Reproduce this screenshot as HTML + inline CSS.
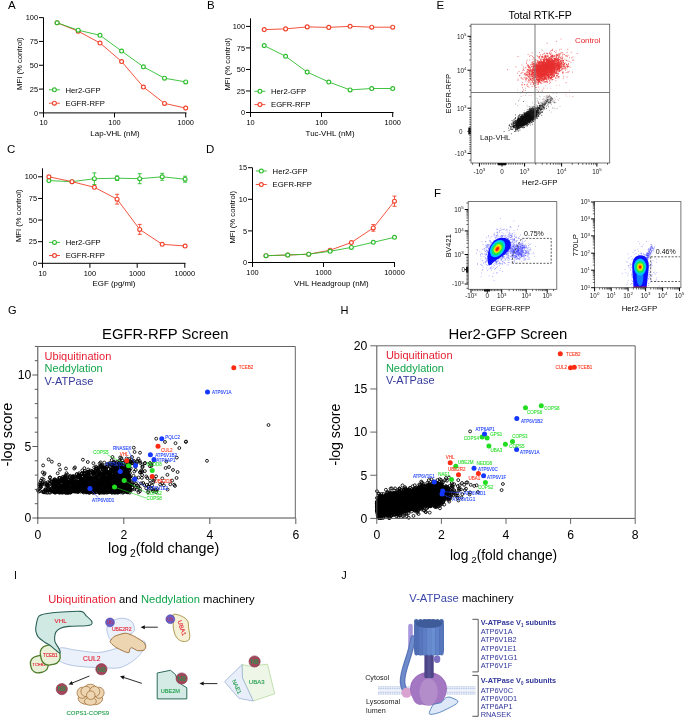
<!DOCTYPE html>
<html><head><meta charset="utf-8"><style>html,body{margin:0;padding:0;background:#fff;}svg{display:block;will-change:transform;}text{font-family:"Liberation Sans", sans-serif;}</style></head>
<body><svg width="685" height="717" viewBox="0 0 685 717" font-family='"Liberation Sans", sans-serif'><rect width="685" height="717" fill="#fff"/><text x="8" y="8.98" font-size="11.5">A</text><text x="207" y="8.98" font-size="11.5">B</text><text x="7" y="153.38" font-size="11.5">C</text><text x="206" y="153.38" font-size="11.5">D</text><text x="436.5" y="8.58" font-size="11.5">E</text><text x="434" y="197.08" font-size="11.5">F</text><text x="8" y="313.52" font-size="11">G</text><text x="340.5" y="313.52" font-size="11">H</text><text x="14" y="579.15" font-size="10.5">I</text><text x="341.3" y="578.52" font-size="11">J</text><line x1="43.50" y1="17.60" x2="43.50" y2="113.40" stroke="#000" stroke-width="1"/><line x1="43.00" y1="112.90" x2="186.50" y2="112.90" stroke="#000" stroke-width="1"/><line x1="39.00" y1="112.90" x2="43.50" y2="112.90" stroke="#000" stroke-width="1"/><text x="38.00" y="115.56" font-size="7.4" text-anchor="end">0</text><line x1="39.00" y1="89.08" x2="43.50" y2="89.08" stroke="#000" stroke-width="1"/><text x="38.00" y="91.74" font-size="7.4" text-anchor="end">25</text><line x1="39.00" y1="65.25" x2="43.50" y2="65.25" stroke="#000" stroke-width="1"/><text x="38.00" y="67.91" font-size="7.4" text-anchor="end">50</text><line x1="39.00" y1="41.43" x2="43.50" y2="41.43" stroke="#000" stroke-width="1"/><text x="38.00" y="44.09" font-size="7.4" text-anchor="end">75</text><line x1="39.00" y1="17.60" x2="43.50" y2="17.60" stroke="#000" stroke-width="1"/><text x="38.00" y="20.26" font-size="7.4" text-anchor="end">100</text><line x1="43.50" y1="112.90" x2="43.50" y2="117.40" stroke="#000" stroke-width="1"/><text x="43.50" y="125.16" font-size="7.4" text-anchor="middle">10</text><line x1="114.50" y1="112.90" x2="114.50" y2="117.40" stroke="#000" stroke-width="1"/><text x="114.50" y="125.16" font-size="7.4" text-anchor="middle">100</text><line x1="185.70" y1="112.90" x2="185.70" y2="117.40" stroke="#000" stroke-width="1"/><text x="185.70" y="125.16" font-size="7.4" text-anchor="middle">1000</text><text x="19.30" y="66.47" font-size="7.7" text-anchor="middle" transform="rotate(-90 19.30 63.70)">MFI (% control)</text><text x="115.00" y="136.44" font-size="7.9" text-anchor="middle">Lap-VHL (nM)</text><polyline points="57.10,22.80 78.20,31.20 100.00,43.00 121.60,61.50 143.40,87.00 164.50,103.40 185.70,108.10" fill="none" stroke="#f2412a" stroke-width="0.9" stroke-linejoin="round"/><circle cx="57.10" cy="22.80" r="1.95" fill="#fff" stroke="#f2412a" stroke-width="1.15"/><circle cx="78.20" cy="31.20" r="1.95" fill="#fff" stroke="#f2412a" stroke-width="1.15"/><circle cx="100.00" cy="43.00" r="1.95" fill="#fff" stroke="#f2412a" stroke-width="1.15"/><circle cx="121.60" cy="61.50" r="1.95" fill="#fff" stroke="#f2412a" stroke-width="1.15"/><circle cx="143.40" cy="87.00" r="1.95" fill="#fff" stroke="#f2412a" stroke-width="1.15"/><circle cx="164.50" cy="103.40" r="1.95" fill="#fff" stroke="#f2412a" stroke-width="1.15"/><circle cx="185.70" cy="108.10" r="1.95" fill="#fff" stroke="#f2412a" stroke-width="1.15"/><polyline points="57.10,22.80 78.20,30.20 100.00,35.30 121.60,51.00 143.40,66.80 164.50,78.20 185.70,81.90" fill="none" stroke="#2dbd2d" stroke-width="0.9" stroke-linejoin="round"/><circle cx="57.10" cy="22.80" r="1.95" fill="#fff" stroke="#2dbd2d" stroke-width="1.15"/><circle cx="78.20" cy="30.20" r="1.95" fill="#fff" stroke="#2dbd2d" stroke-width="1.15"/><circle cx="100.00" cy="35.30" r="1.95" fill="#fff" stroke="#2dbd2d" stroke-width="1.15"/><circle cx="121.60" cy="51.00" r="1.95" fill="#fff" stroke="#2dbd2d" stroke-width="1.15"/><circle cx="143.40" cy="66.80" r="1.95" fill="#fff" stroke="#2dbd2d" stroke-width="1.15"/><circle cx="164.50" cy="78.20" r="1.95" fill="#fff" stroke="#2dbd2d" stroke-width="1.15"/><circle cx="185.70" cy="81.90" r="1.95" fill="#fff" stroke="#2dbd2d" stroke-width="1.15"/><line x1="48.90" y1="89.80" x2="59.90" y2="89.80" stroke="#2dbd2d" stroke-width="0.9"/><circle cx="54.40" cy="89.80" r="1.95" fill="#fff" stroke="#2dbd2d" stroke-width="1.15"/><text x="65.50" y="92.57" font-size="7.7">Her2-GFP</text><line x1="48.90" y1="103.20" x2="59.90" y2="103.20" stroke="#f2412a" stroke-width="0.9"/><circle cx="54.40" cy="103.20" r="1.95" fill="#fff" stroke="#f2412a" stroke-width="1.15"/><text x="65.50" y="105.97" font-size="7.7">EGFR-RFP</text><line x1="250.50" y1="18.30" x2="250.50" y2="113.00" stroke="#000" stroke-width="1"/><line x1="250.00" y1="112.50" x2="393.50" y2="112.50" stroke="#000" stroke-width="1"/><line x1="246.00" y1="112.50" x2="250.50" y2="112.50" stroke="#000" stroke-width="1"/><text x="245.00" y="115.16" font-size="7.4" text-anchor="end">0</text><line x1="246.00" y1="90.97" x2="250.50" y2="90.97" stroke="#000" stroke-width="1"/><text x="245.00" y="93.64" font-size="7.4" text-anchor="end">25</text><line x1="246.00" y1="69.45" x2="250.50" y2="69.45" stroke="#000" stroke-width="1"/><text x="245.00" y="72.11" font-size="7.4" text-anchor="end">50</text><line x1="246.00" y1="47.92" x2="250.50" y2="47.92" stroke="#000" stroke-width="1"/><text x="245.00" y="50.59" font-size="7.4" text-anchor="end">75</text><line x1="246.00" y1="26.40" x2="250.50" y2="26.40" stroke="#000" stroke-width="1"/><text x="245.00" y="29.06" font-size="7.4" text-anchor="end">100</text><line x1="250.50" y1="112.50" x2="250.50" y2="117.00" stroke="#000" stroke-width="1"/><text x="250.50" y="124.66" font-size="7.4" text-anchor="middle">10</text><line x1="321.50" y1="112.50" x2="321.50" y2="117.00" stroke="#000" stroke-width="1"/><text x="321.50" y="124.66" font-size="7.4" text-anchor="middle">100</text><line x1="392.70" y1="112.50" x2="392.70" y2="117.00" stroke="#000" stroke-width="1"/><text x="392.70" y="124.66" font-size="7.4" text-anchor="middle">1000</text><text x="227.00" y="67.07" font-size="7.7" text-anchor="middle" transform="rotate(-90 227.00 64.30)">MFI (% control)</text><text x="330.10" y="136.34" font-size="7.9" text-anchor="middle">Tuc-VHL (nM)</text><polyline points="264.20,45.60 285.60,56.30 307.20,72.10 328.80,82.00 350.10,89.90 371.70,88.50 392.70,88.50" fill="none" stroke="#2dbd2d" stroke-width="0.9" stroke-linejoin="round"/><circle cx="264.20" cy="45.60" r="1.95" fill="#fff" stroke="#2dbd2d" stroke-width="1.15"/><circle cx="285.60" cy="56.30" r="1.95" fill="#fff" stroke="#2dbd2d" stroke-width="1.15"/><circle cx="307.20" cy="72.10" r="1.95" fill="#fff" stroke="#2dbd2d" stroke-width="1.15"/><circle cx="328.80" cy="82.00" r="1.95" fill="#fff" stroke="#2dbd2d" stroke-width="1.15"/><circle cx="350.10" cy="89.90" r="1.95" fill="#fff" stroke="#2dbd2d" stroke-width="1.15"/><circle cx="371.70" cy="88.50" r="1.95" fill="#fff" stroke="#2dbd2d" stroke-width="1.15"/><circle cx="392.70" cy="88.50" r="1.95" fill="#fff" stroke="#2dbd2d" stroke-width="1.15"/><polyline points="264.20,29.60 285.60,28.90 307.20,26.90 328.80,27.40 350.10,26.30 371.70,27.20 392.70,27.20" fill="none" stroke="#f2412a" stroke-width="0.9" stroke-linejoin="round"/><circle cx="264.20" cy="29.60" r="1.95" fill="#fff" stroke="#f2412a" stroke-width="1.15"/><circle cx="285.60" cy="28.90" r="1.95" fill="#fff" stroke="#f2412a" stroke-width="1.15"/><circle cx="307.20" cy="26.90" r="1.95" fill="#fff" stroke="#f2412a" stroke-width="1.15"/><circle cx="328.80" cy="27.40" r="1.95" fill="#fff" stroke="#f2412a" stroke-width="1.15"/><circle cx="350.10" cy="26.30" r="1.95" fill="#fff" stroke="#f2412a" stroke-width="1.15"/><circle cx="371.70" cy="27.20" r="1.95" fill="#fff" stroke="#f2412a" stroke-width="1.15"/><circle cx="392.70" cy="27.20" r="1.95" fill="#fff" stroke="#f2412a" stroke-width="1.15"/><line x1="254.40" y1="91.30" x2="265.40" y2="91.30" stroke="#2dbd2d" stroke-width="0.9"/><circle cx="259.90" cy="91.30" r="1.95" fill="#fff" stroke="#2dbd2d" stroke-width="1.15"/><text x="271.00" y="94.07" font-size="7.7">Her2-GFP</text><line x1="254.40" y1="104.60" x2="265.40" y2="104.60" stroke="#f2412a" stroke-width="0.9"/><circle cx="259.90" cy="104.60" r="1.95" fill="#fff" stroke="#f2412a" stroke-width="1.15"/><text x="271.00" y="107.37" font-size="7.7">EGFR-RFP</text><line x1="42.50" y1="168.30" x2="42.50" y2="263.80" stroke="#000" stroke-width="1"/><line x1="42.00" y1="263.30" x2="185.50" y2="263.30" stroke="#000" stroke-width="1"/><line x1="38.00" y1="263.30" x2="42.50" y2="263.30" stroke="#000" stroke-width="1"/><text x="37.00" y="265.96" font-size="7.4" text-anchor="end">0</text><line x1="38.00" y1="241.68" x2="42.50" y2="241.68" stroke="#000" stroke-width="1"/><text x="37.00" y="244.34" font-size="7.4" text-anchor="end">25</text><line x1="38.00" y1="220.05" x2="42.50" y2="220.05" stroke="#000" stroke-width="1"/><text x="37.00" y="222.71" font-size="7.4" text-anchor="end">50</text><line x1="38.00" y1="198.43" x2="42.50" y2="198.43" stroke="#000" stroke-width="1"/><text x="37.00" y="201.09" font-size="7.4" text-anchor="end">75</text><line x1="38.00" y1="176.80" x2="42.50" y2="176.80" stroke="#000" stroke-width="1"/><text x="37.00" y="179.46" font-size="7.4" text-anchor="end">100</text><line x1="42.50" y1="263.30" x2="42.50" y2="267.80" stroke="#000" stroke-width="1"/><text x="42.50" y="275.66" font-size="7.4" text-anchor="middle">10</text><line x1="89.90" y1="263.30" x2="89.90" y2="267.80" stroke="#000" stroke-width="1"/><text x="89.90" y="275.66" font-size="7.4" text-anchor="middle">100</text><line x1="137.20" y1="263.30" x2="137.20" y2="267.80" stroke="#000" stroke-width="1"/><text x="137.20" y="275.66" font-size="7.4" text-anchor="middle">1000</text><line x1="184.80" y1="263.30" x2="184.80" y2="267.80" stroke="#000" stroke-width="1"/><text x="184.80" y="275.66" font-size="7.4" text-anchor="middle">10000</text><text x="18.00" y="218.57" font-size="7.7" text-anchor="middle" transform="rotate(-90 18.00 215.80)">MFI (% control)</text><text x="114.00" y="286.44" font-size="7.9" text-anchor="middle">EGF (pg/ml)</text><polyline points="48.90,180.60 72.00,181.70 94.40,178.70 117.10,178.20 139.70,178.70 162.20,176.80 185.10,179.20" fill="none" stroke="#2dbd2d" stroke-width="0.9" stroke-linejoin="round"/><circle cx="48.90" cy="180.60" r="1.95" fill="#fff" stroke="#2dbd2d" stroke-width="1.15"/><circle cx="72.00" cy="181.70" r="1.95" fill="#fff" stroke="#2dbd2d" stroke-width="1.15"/><line x1="94.40" y1="172.90" x2="94.40" y2="184.50" stroke="#2dbd2d" stroke-width="0.9"/><line x1="92.40" y1="172.90" x2="96.40" y2="172.90" stroke="#2dbd2d" stroke-width="0.9"/><line x1="92.40" y1="184.50" x2="96.40" y2="184.50" stroke="#2dbd2d" stroke-width="0.9"/><circle cx="94.40" cy="178.70" r="1.95" fill="#fff" stroke="#2dbd2d" stroke-width="1.15"/><line x1="117.10" y1="175.90" x2="117.10" y2="180.50" stroke="#2dbd2d" stroke-width="0.9"/><line x1="115.10" y1="175.90" x2="119.10" y2="175.90" stroke="#2dbd2d" stroke-width="0.9"/><line x1="115.10" y1="180.50" x2="119.10" y2="180.50" stroke="#2dbd2d" stroke-width="0.9"/><circle cx="117.10" cy="178.20" r="1.95" fill="#fff" stroke="#2dbd2d" stroke-width="1.15"/><line x1="139.70" y1="173.70" x2="139.70" y2="183.70" stroke="#2dbd2d" stroke-width="0.9"/><line x1="137.70" y1="173.70" x2="141.70" y2="173.70" stroke="#2dbd2d" stroke-width="0.9"/><line x1="137.70" y1="183.70" x2="141.70" y2="183.70" stroke="#2dbd2d" stroke-width="0.9"/><circle cx="139.70" cy="178.70" r="1.95" fill="#fff" stroke="#2dbd2d" stroke-width="1.15"/><line x1="162.20" y1="173.30" x2="162.20" y2="180.30" stroke="#2dbd2d" stroke-width="0.9"/><line x1="160.20" y1="173.30" x2="164.20" y2="173.30" stroke="#2dbd2d" stroke-width="0.9"/><line x1="160.20" y1="180.30" x2="164.20" y2="180.30" stroke="#2dbd2d" stroke-width="0.9"/><circle cx="162.20" cy="176.80" r="1.95" fill="#fff" stroke="#2dbd2d" stroke-width="1.15"/><line x1="185.10" y1="176.20" x2="185.10" y2="182.20" stroke="#2dbd2d" stroke-width="0.9"/><line x1="183.10" y1="176.20" x2="187.10" y2="176.20" stroke="#2dbd2d" stroke-width="0.9"/><line x1="183.10" y1="182.20" x2="187.10" y2="182.20" stroke="#2dbd2d" stroke-width="0.9"/><circle cx="185.10" cy="179.20" r="1.95" fill="#fff" stroke="#2dbd2d" stroke-width="1.15"/><polyline points="48.90,176.80 72.00,181.70 94.40,187.30 117.10,199.20 139.70,229.40 162.20,244.30 185.10,246.00" fill="none" stroke="#f2412a" stroke-width="0.9" stroke-linejoin="round"/><circle cx="48.90" cy="176.80" r="1.95" fill="#fff" stroke="#f2412a" stroke-width="1.15"/><circle cx="72.00" cy="181.70" r="1.95" fill="#fff" stroke="#f2412a" stroke-width="1.15"/><circle cx="94.40" cy="187.30" r="1.95" fill="#fff" stroke="#f2412a" stroke-width="1.15"/><line x1="117.10" y1="194.30" x2="117.10" y2="204.10" stroke="#f2412a" stroke-width="0.9"/><line x1="115.10" y1="194.30" x2="119.10" y2="194.30" stroke="#f2412a" stroke-width="0.9"/><line x1="115.10" y1="204.10" x2="119.10" y2="204.10" stroke="#f2412a" stroke-width="0.9"/><circle cx="117.10" cy="199.20" r="1.95" fill="#fff" stroke="#f2412a" stroke-width="1.15"/><line x1="139.70" y1="224.40" x2="139.70" y2="234.40" stroke="#f2412a" stroke-width="0.9"/><line x1="137.70" y1="224.40" x2="141.70" y2="224.40" stroke="#f2412a" stroke-width="0.9"/><line x1="137.70" y1="234.40" x2="141.70" y2="234.40" stroke="#f2412a" stroke-width="0.9"/><circle cx="139.70" cy="229.40" r="1.95" fill="#fff" stroke="#f2412a" stroke-width="1.15"/><circle cx="162.20" cy="244.30" r="1.95" fill="#fff" stroke="#f2412a" stroke-width="1.15"/><circle cx="185.10" cy="246.00" r="1.95" fill="#fff" stroke="#f2412a" stroke-width="1.15"/><line x1="49.00" y1="242.40" x2="60.00" y2="242.40" stroke="#2dbd2d" stroke-width="0.9"/><circle cx="54.50" cy="242.40" r="1.95" fill="#fff" stroke="#2dbd2d" stroke-width="1.15"/><text x="65.70" y="245.17" font-size="7.7">Her2-GFP</text><line x1="49.00" y1="255.50" x2="60.00" y2="255.50" stroke="#f2412a" stroke-width="0.9"/><circle cx="54.50" cy="255.50" r="1.95" fill="#fff" stroke="#f2412a" stroke-width="1.15"/><text x="65.70" y="258.27" font-size="7.7">EGFR-RFP</text><line x1="252.50" y1="167.80" x2="252.50" y2="263.00" stroke="#000" stroke-width="1"/><line x1="252.00" y1="262.50" x2="395.00" y2="262.50" stroke="#000" stroke-width="1"/><line x1="248.00" y1="262.50" x2="252.50" y2="262.50" stroke="#000" stroke-width="1"/><text x="247.00" y="265.16" font-size="7.4" text-anchor="end">0</text><line x1="248.00" y1="230.90" x2="252.50" y2="230.90" stroke="#000" stroke-width="1"/><text x="247.00" y="233.56" font-size="7.4" text-anchor="end">5</text><line x1="248.00" y1="199.30" x2="252.50" y2="199.30" stroke="#000" stroke-width="1"/><text x="247.00" y="201.96" font-size="7.4" text-anchor="end">10</text><line x1="248.00" y1="167.70" x2="252.50" y2="167.70" stroke="#000" stroke-width="1"/><text x="247.00" y="170.36" font-size="7.4" text-anchor="end">15</text><line x1="252.50" y1="262.50" x2="252.50" y2="267.00" stroke="#000" stroke-width="1"/><text x="252.50" y="275.46" font-size="7.4" text-anchor="middle">100</text><line x1="323.50" y1="262.50" x2="323.50" y2="267.00" stroke="#000" stroke-width="1"/><text x="323.50" y="275.46" font-size="7.4" text-anchor="middle">1000</text><line x1="394.50" y1="262.50" x2="394.50" y2="267.00" stroke="#000" stroke-width="1"/><text x="394.50" y="275.46" font-size="7.4" text-anchor="middle">10000</text><text x="232.50" y="220.07" font-size="7.7" text-anchor="middle" transform="rotate(-90 232.50 217.30)">MFI (% control)</text><text x="331.40" y="286.44" font-size="7.9" text-anchor="middle">VHL Headgroup (nM)</text><polyline points="266.00,255.70 287.70,255.00 308.70,254.20 330.10,250.20 351.40,242.50 373.30,227.90 394.50,201.20" fill="none" stroke="#f2412a" stroke-width="0.9" stroke-linejoin="round"/><circle cx="266.00" cy="255.70" r="1.95" fill="#fff" stroke="#f2412a" stroke-width="1.15"/><circle cx="287.70" cy="255.00" r="1.95" fill="#fff" stroke="#f2412a" stroke-width="1.15"/><circle cx="308.70" cy="254.20" r="1.95" fill="#fff" stroke="#f2412a" stroke-width="1.15"/><circle cx="330.10" cy="250.20" r="1.95" fill="#fff" stroke="#f2412a" stroke-width="1.15"/><circle cx="351.40" cy="242.50" r="1.95" fill="#fff" stroke="#f2412a" stroke-width="1.15"/><line x1="373.30" y1="224.60" x2="373.30" y2="231.20" stroke="#f2412a" stroke-width="0.9"/><line x1="371.30" y1="224.60" x2="375.30" y2="224.60" stroke="#f2412a" stroke-width="0.9"/><line x1="371.30" y1="231.20" x2="375.30" y2="231.20" stroke="#f2412a" stroke-width="0.9"/><circle cx="373.30" cy="227.90" r="1.95" fill="#fff" stroke="#f2412a" stroke-width="1.15"/><line x1="394.50" y1="196.10" x2="394.50" y2="206.30" stroke="#f2412a" stroke-width="0.9"/><line x1="392.50" y1="196.10" x2="396.50" y2="196.10" stroke="#f2412a" stroke-width="0.9"/><line x1="392.50" y1="206.30" x2="396.50" y2="206.30" stroke="#f2412a" stroke-width="0.9"/><circle cx="394.50" cy="201.20" r="1.95" fill="#fff" stroke="#f2412a" stroke-width="1.15"/><polyline points="266.00,255.70 287.70,255.00 308.70,254.20 330.10,251.30 351.40,247.40 373.30,242.30 394.50,237.30" fill="none" stroke="#2dbd2d" stroke-width="0.9" stroke-linejoin="round"/><circle cx="266.00" cy="255.70" r="1.95" fill="#fff" stroke="#2dbd2d" stroke-width="1.15"/><circle cx="287.70" cy="255.00" r="1.95" fill="#fff" stroke="#2dbd2d" stroke-width="1.15"/><circle cx="308.70" cy="254.20" r="1.95" fill="#fff" stroke="#2dbd2d" stroke-width="1.15"/><circle cx="330.10" cy="251.30" r="1.95" fill="#fff" stroke="#2dbd2d" stroke-width="1.15"/><circle cx="351.40" cy="247.40" r="1.95" fill="#fff" stroke="#2dbd2d" stroke-width="1.15"/><circle cx="373.30" cy="242.30" r="1.95" fill="#fff" stroke="#2dbd2d" stroke-width="1.15"/><circle cx="394.50" cy="237.30" r="1.95" fill="#fff" stroke="#2dbd2d" stroke-width="1.15"/><line x1="255.80" y1="171.00" x2="266.80" y2="171.00" stroke="#2dbd2d" stroke-width="0.9"/><circle cx="261.30" cy="171.00" r="1.95" fill="#fff" stroke="#2dbd2d" stroke-width="1.15"/><text x="272.60" y="173.77" font-size="7.7">Her2-GFP</text><line x1="255.80" y1="184.50" x2="266.80" y2="184.50" stroke="#f2412a" stroke-width="0.9"/><circle cx="261.30" cy="184.50" r="1.95" fill="#fff" stroke="#f2412a" stroke-width="1.15"/><text x="272.60" y="187.27" font-size="7.7">EGFR-RFP</text><clipPath id="cpE"><rect x="471" y="24.2" width="138.70000000000005" height="138.8"/></clipPath><marker id="dm1" markerUnits="userSpaceOnUse" markerWidth="0.8" markerHeight="0.8" refX="0" refY="0" overflow="visible"><rect width="0.8" height="0.8" fill="#e83030" fill-opacity="0.9"/></marker><path d="M560.6 57.6l-35.1 23 23.2-13.8-6.4 7.4-2.1-7.2 4.3 4.4-17.8-0.1 12.9-10.6-4.2 4.7 35.3-13.6-25.9 10.5-3 6 3.6 6.6-8-9.4 0.2 9 4.8-3.9 5.4-7.3-6.4 1.5 12.7 2.2-9.4 4.5 0.1-4.8 12.9-4.7-7.9 4.4-11.5-2.4 5.7 5.6 6.4-1.7 14.6 1.9-24.6-6.5 1 1.8 12.3 0-16.9 3.7 5.2-1.3 10.6-2.3-1.1-2.1-5.5 4.8 5.7 0.2-33.1 2.9 36.3-3.6-22.3-6.2 2.6 21.5 14.4-10.9 0.2-8.9-6 12-7.7-3.2 10.9-0.3-0.5 0.8 11.1-7.2-6.1 0.7-3.3 5 5.9-7.2-11.3 3.9-7.1-0.1 10.6-9.6 7.2 16.2-8.3-0.9-9.3-8.4 12.2 4.9-22.8 9.1 21-23.2 1.3 7.3-16 11.3 17.9 2.5-9.8 0.7 14.5-5.5-24.9 5.8 10.6-0.9 8.8-16.3 7.5 6.9-27 12.7 9.4-15.6 10 4.2-5 9.5 18.9-6.1-23.9 7.8 8.2-15.8-10.2 8.1 19.2-11-8 13.5-7.3-8.6-11.5 4 26.8-15.2-3.8 12.1 0.5 1.1 5.1-9.7-10.9 5.5-7 6.3 2 7.9-5.7-12.8 20.6-1.7-22.8 11.6 7.5-2.4 4.1 3.2 3.6-4.1 1.7-3.9-12.5 12.4-4.6 0.2 12.4-10.4 9.9-4.7-6.8-5.1-1.6 8.3-6.4-2.4 4.3-4-2.6 6.1 5.7-10.8-11.5 9.9 8.4-1.6-0.2 4.9 4-5.5-1.1 4.5 21.6-2.8-10.3 0.2-4.2-9.4-30.4 9.9 15.8-2.1-2.1 1.1 7-9.4-22.6 11.5 28.4-12.6 1.5 5.6-15.2 18.3 3.3 0.2-4.4-13.7 8.1-0.4 3-6.6 11-6.4-15.2 15.6 8.2-3-6.5-1.1 15.9 0.2-10.4-0.9 8.1 4.4-23.5 1.4 10.2 3.2-7.4-2.8 19.8-6.9-6 5.4-12-5.7 0 3.3 9.1-0.2-10.1 3.3-0.8 3.4 9.4-10.2 15.1-9.8-19.6 15.8-1.8 3-7.3-3 2.9 10.2 14.2-9.3 7.3-0.1-10.6 4.1-1.6-10.6 4.6 15-5.8-13.5-11.4 11.3 9.6-2.2 3.8-3.9-7.6 2.6 0.4-5.8-1.9 3.2 4.9 0.3 12.5 1.7-14.5-4.6 5 7.4 7.3-6.6-2.1-1 7.3-6.9-30.2 15.9 20.9-18.4-7.1 13.7 5.5-1.2 4-6.5 4.3 4-0.8-0.8-9.5-1.7 15.3 2.2-18.5 0.4 7.4 13.5 0.5-19.8-10.7 6 22.7-9.1-7.5 8.3 11.4 0.2-20.3 3-4-1.1 9.4 8.9 2.8-6.2-13.6-1.4 8.3-2.7-6.3-5.3 16.7 1.5-15.1 16.3 7.9-20-14.4 5 0.6 8.5-8.6-17.1 9.4 23.9 4.8-18.7 9 0.5-6 5.8 6.7 4.8 6.6-7.6-16.1-5.9-0.2 1.2 0.1 10.7-15.8-6 23.3-0.2-21.9 6.7 23.3-1.2-4.7 4.4 1.6-21.9-3.7 18.4-5.7 3.7 6.7-11-7.2 4.1 1.8-4.2 3.7 3.2 0.1 4.2 1.5 4.6-5.1 2.9 1.7-10.6-17.2 4.5 20.1 1.5-16.5-14.1 22-2 5.5 9.1-23.1 19.3 10.9-21.9-0.4 5.2-10.1-2.5 15.1-0.8-10.2 4.2-18.2 2.4 22.9-1.4-0.3-3.1 3.6 2.3-17.8 3.2 18.4-13.2 3.8 5.9-14 10.3 0.6-9.5 9.2 8-5.8-2.5 24-16.4-18.5 11.6-11 2.3 0.8-3.1 9.8 6 19.4-8.7-23.2 2.6 3.4-0.5 2.8-0.8-2.7 6.3 20.7-4.8-27.6 0.2 12.6-0.1-5.5 0.6 5 1.1-16.2 16.3 22.6-27.3-18.1 1.3 5.3 8.4-11-3.3 8.6 14.8 5.7-16 4.3 0.5-0.8 3.3 8.9-3.5-10.6 0.5-4.7 4.5 8.6 1.6-4.6-5.1-1.2 12.8 3.7-10.1-1.2-14.9 0.2 21-12.4-12.2 13.3 6.1 13.7 4.8-19.8 2.1-3.7-10.9 0.3 1.6 12.9-1-22.1 18 13.5-18.4 10.7 5.7-18.2 3.6 18.1-10.4-8 3.2-5 12.7-0.6-17.9-13.5 8.1 12.3 6.2 19.9-8.3-27.2-1 23.3-8.2-17.9 3.4 14 6.7-10.4-2.3-22 25.9 20-16.8 5.2-5.2-11.2 4.6-0.9 2.3 14.8-4.8-10.2-0.2-8 4.9 9.4-1.1 10.9-9.8-8.7 10 9.1-10.6 3.6-5.1-10.3 10-6.4 11.2-1.8-0.1 3.9-19.4 11.5 5.7-6.7-1.6 4.6-1.9-12.3 5.3 8.5-2.2-7 1.4 1.8 0.6-6.9 5.9-5.4-5.7 8.9-4.2-10.6 2.2 6.9 0 20.5 2.5-13.4-5.5 27-6.1-16 7.9-13.3 11.7 12-11.3-1.3 6.4-11-1.5 15.4-5.1-14.4 9.3-23.4-2.1 35.6-5.4-9.3 10.5 14.4-14.3-18.4 6.1 0.2 12.2 18.7-18.6-19.2 15 2.8-21.8 15.5 7.2-12.2 2 0.3 4.9 3.1 3.2 3.3-9.1-13.7 5.7 6.2-17.5 7.3 17.2 15.6-3.8-24.4 4.2-6.1-0.9 15.3-2-7.9 7.3 4.8-4.4 1.8 7.4 2.9-16.3-16.7 2.9 8.6 6.7-18.6 12.7 10-14.3 20.9-6.7-19.6 5.1-1.4-2.9-3.2 4.4 12-12.9 1.6 12.5-15.2 9.2 20.6-8-7-6.7 6.9-3.8-16.1 3.1 20-7.7-6 16-0.2 11.1-11.5-17 3.6 2.2 11.9 2.2-12.7-3.6 13.8 1.2-6-2.4 6.3-2.8-1.8 7.7-9.7-2.3-17.3 1.9 22.6 1.9 2.3-5.6-6.3-0.5 2.7-2.6-6.9 12.6-3-9.8-0.5 7.1 20.8-4.2-11.7-1.5-3.4 8.7-12.1-8.7 13.9 5.1 13-6.2-5.2 10-13.7-4.5 19.5-3.7-2.2-5-5.6-2.6-1.2 1.5 3.4-0.5-1.9 9.3-1.4-8.3-11 9.6 20.5-4.2-9.7 6.2 14.1-8-39.1 24.8 23.9-29.8 3.6 2.1-9.1 8.7 8.2 0.8 1.1-4-4.1-5.4-7.9 6.9 0.1-8.4 14.8 7.4-3.4-13.3-5.4 13.9 1.6 4.1 0.7-1.2 1.5-15.1-13.3 16.4-3.5-1.7 12.1-5.1-6 13.8 1.4-8.4 1.9-10.6 4 0.2-9 14.2 14.4-9.2-24.1 3 18.4-16.1-15.6 18.1-2.9 0.7 24.1-2.3-14-3.7 1.9 8.3 4 1.2 1.5-16.7-2.1 6.8 4.7 10 4.7-13.5-13.7 8.6 4.1 3.7-7-8.9 17.6-3.6-4.1-5.3 7.1 9.4-13.1-0.1-0.7 1 3.6-14.2-2.8 21.4 13.6-5.8-8.1-6.7-7.4 14.8-2.8-19.7 4.8 11.4 11.8-14.5 16.3 17.9-33.4-15.6 3.9 6.2-17.9 10.6 23.8-1.7-1.7 0.9-9.7 1.8 13.9-9.9-14.3 20 3.4-20 6.8 5.1-8.4 11.9 11-21.9 2.5 1.3-16 18-1.6-3 12.8-15.8-2.3 8.7-5.7 13.4 2.9-13.8 3.8 4.4-1.8-3.1 6.3-7.5 1.2 12.6 10-8.1-2.7 2.5-8.6-3.9 3.8-0.2 2.3-0.3-4.6 3.3-17.6 3.3 16.8-8.4-2.6 11.5 7.6-17.2-11.1 8.7 3.6-1.2-1.9 0 9.7-8.2-11.5 7.6-0.3 9.1 2.3-7.7-7 1 10.1 9.2-7.8-13.7 7.3 10.3 12.2-9.3-22.8 0.4 5.7 2.9-2 1 10.8 4.8-16.1 5 1.5-7.5 3.5-6.7 3.7-4.6-1.6 9.4-6.4-4.2-0.4 7.2 11.3-5.2 8.9-0.6-7.9 7.1-3-3.8 2.9 0.8-12.8 2 7.8 3.5-0.2-1.3 6.3 1.7-3.1 0.2-14.2-5.8 20.6-17.8 6.2 13.7-15 12.6 1.6-14.1 3.5 10.8 1.3-8.5-19 7.4 26.3-9.2-20.8-0.8 13.7-7.5-7 10.5-5.6-2.3 4.5 4.6 8.5-3.7-19.9-5.8 7.8 6.6 1.9 6.7-16.2-9.1 29-1.5-8.1-2.2-6.2-0.8 16.3 10.4-17.5 7.5 4-10.4 14.7-6.9-2.2 11.7-26.7 10.8-11.7-1.7 20.7-4.2 15.7-11.3-13.5 3.6 4 3.5 4.6-8-10.1 10.3 7.2-8 4.4-3.1-3 0.6 1.6 5.2-7.2 5.9 8.1-6.5-10.5-2.7 17.4 0.7 7.2-11.8-27.7 11-9.8 9.7 16.5-1.6 6.4-3.6 5.2-3 2 3.8-18.8 7.5-0.2-8.9 19.3-2.1-21.6 3.6 19.3-4.8-10.4 5.8 6.8-6.8-3.5-6.5 3.5 6.2 0-1-14.5 7.6 10.6-7.9-4.5-0.5 1.5-3.4 12.3 7.4-12.1 6.1-7.1 1.7 1.6-3.9 7.7 7.9 6-10-14.2 2.7 17.9-3.4-9-1-2.6 5.5-10 2.1 13.5-4.6 2.7-3.8-21.3 6.5 26.3-6.3 5.1 1.3-15.1-4.8 2.1 1.2 14.6-9.6-5.5 13.6-19.9 2.6 9.6 2-4.7-7.4 3.5 7.6-21.1 1.5 25.9-10.9-9.4 9.8 4.6-7.3-2.9 0.2 11.4 3.3-11.6-0.2-1.3 8 13.6 1.2 0.7-17.8-13.7 7.4 11.4-11.8-8.4 5.7-2.8 11.3 16.3-9-19.3 8.5 20-6.7-19.7 0.3 6-7.5-12 24 5.5-10.1 17.5-2.8-9.7-2.3 0.4 4.3-6.6-4.3 8.4-0.8-15.5 6 3.4 1.5 10.1 1.3-7.2-1.1-6.3-17.1 11 10.8-0.3 0.8 1 4 21.1-12.8-14.1 1.3 1.6-1.2-9.4 6.7-4.7 0-7.9 19.4 11.9-13.8-15.4 3.8 14.3-1.2 13.5 0.6 2.1-14.2-5 3.2-15.6 5.4 9.2-9.3-9.3 7.5 12.7-7.3-4.8 10 7.9-3.6 15-4.3-17-1.7 15.3 3.1-21.8-1.3-2.5 5.5 16.7 0.9 3.1-1.7-19 7.7 7.3 2.4-14.6 0.6 6.3-10.9 10.1-3.5-9.2 0.9-1.8 6.5-9-1.5 14.9-5.9 2.8-3.3-3.1-2.6 5.9 20.9-15.9-1.9 18.7-25-9.6 18.5-2.9-4.4 3.9-10.7-19.7 19.7 18.1-5.1 0.2 1.4 5.3 0.6 3.9-12.7-3.6 5.9-19.4 12.8 12-6 4.2-2.7-1.1-1.2-9.4 10.6-8.3-10.3 17.7-9.2 5.1 15.9-5.8-4.8-12.5 9.5 26.9-17-39.7 14.3 20.7-9.7 21.4-6.1-19.7 5.3 4.9 0-12.5 5.6 29.2-5.5-28.3 10.1 14.4-1.9-5.8-10.4-8.4 7.5 18.1-2.4-20.2 5.6 0.2-15.8 11.2 10.8-3.9-0.3 6.3-5.4 3.8-1.4-10.6 3 1.9 9.8-0.8-2.3 0.3-2.8 11.5 0-8.8 2.9 1.5-10.5-4.6 0.7-6.1 3 17.7 2-17.2 3.4 11.2 1.9 10.7-8.6-22.7 6.1 6.3-8.7-10.5 10.2 14.1 7.8-14.2-10.1 9-4.8-0.2 3.5 8.8 4.9 9.1-11.8-13-0.2 4.2 0.9-4.9 4.8-1.1 1.8-5.2 10.6-2.6 6.3 13-12.1 11.3-9.1-10.8 1.1-9.9 0.1 20.8-1.5-15.7 10.9-2.5-1.5-6.8-2.3 3.7 2.8 4-6.7 18.6-8-19.2 7.8-5.2 4.4 3.2-2.3 5.4 3.7-14.4 0.7 15.5-7.4 6.5 3.4-3.8-0.2 3.2 1-19.5-1.9 0.9 11.1 27.2-19.2-9.1-2-19.8 13.8 12.1-11.4-1 1.7 5.5 0.8 1.9 9.6-12.5-10.1 9.1 5-1.4-2.4 2 9.2-17.6 0.3-8.6 6 19.8-4.3-12.1-8.5 17.1-3.5 1.4-7-2.4 4.7-2.8 7.7 2.6-3.9 10.2-1.4-17.2 3.2 12.9-7.4-0.6 3.3-5.2-1.8 9.3-5.5-18.8 5.8 16.6 0.6-14.2 9.4-2.1-8.3-0.9 4.6 8.6-14-9.1 10.1 10.7 2.2-12.6-2 26.5-1.1-0.2-5.7-11.7 9.4 9.8-9.4-10.7-0.1 16.1 0.6-15.5 11-16.3 0.4 27-7.1-15.5 0.9-6.8 5 6.4 5.9-10.5-2.2 8.4-11.6-2.7 12.2 20-11.7-8 0.3-16.6 14.2-15.3-21.2 24.1 16.6-8.5 11.1 11.7-14-3.9-10.3 0.6 17.6 4.2 4.5 4.7-12.7 4.2-10.9 1.4 1.5-10.9 7.9 7.4-1.6-11.1 10.4 8.3-7-17.1-7.9 17.9 2.7-15.9 8 6.4 8.2 2.9-14.7 3.8-10.1-15 16.6 8.6-0.7 1.2-12.1 8.7 15.1-13.3-3.7 9.7 1-3.3 0.7 13.5-6.9-5.2 7.1-14.9 8.1-11.5-6.3 19.6-6.8 11.2 1.1-10.1-0.4 4.3-6-9.8 8.2-9.2-1.2 18.1-6.1-11.4-11.1 12.1 14.3-13.4 15.4 10.5-10.8-6.7 2.8 10.8-7.6-13.4 0.7 2.4 5.9-0.7-2.1 14.8-7.6-9.4 6.3-8.1-0.9-0.8 4.2 0.9 2.5 21.4-7.6-28.7 8.1 9.3-0.5 10.9-8.3-0.6-13.3-10.2 6.4 11.2 4.5-2.1-4.1 5.4 7-11.6-5.3 15-1.7-12.1 4.6 16.2-10.3-32 15.5 23-5.5-17.8 8.6-3.2-2 17.9-4.1-10.2 6.6 9-8.1-13.5 3.3 22.1-9.8-12.7 6.8-9.5 3.9 12-1.9 11.2 9.4-16.8-1.1 8.4-9.8 13.7-3-9.7 4.3-5.8 6.3-4.2 2.8 4.5-15.2-10.6 22.5-18.9-8.8 21.5-4.2-5.3-2.8 21.4-14.4-13.3 5.5-1.5 21.6-2.5-1.6 8.6-17.6-11.2 4.3 7.4 11.2-1-13.2 4.5 5.9 3.3 7.3-2.5-6 11.3-0.9 0.7-7.4-31.6 3.4 36.6-11.4-22.1 4.4 13.5 5.7-19.6-0.3 13.5 2.4-4-2.2-1.3-0.5 8.6 2.9-3.8-3.8-14.2 4.3 11 5.3 4.9-7.9-3.4-6.6-2.7 19.4-5.1-15.6 4.4 7.9-7.1 4.2-3.2-3.1 22.3-13-15.1 9.5 4.3-3-8.8 0.6 20.9 1.7 0.7-8.5-16.5 6.7 10.4 7.1-14.8-5.3 19-12.9-3.8 9.9-17.5 8.3 20.3-9-3 12.8-5-12.5 3.5 9.1-9.4 1.6 2.2 2.2 6.3-11.5-6.2 0.7-6.9 4.6 25.6-8.5-17.1 11.3-1.4 4.5-8.3-15.5 17.3 8.2 0.9-4.3-6.7 1.2 2.9-7.4-16.6 15.2 4.8-14.3 5.5 14.7-0.6-11.9 5.7 2-20.9 9.1 44-15.4-36.8 5.6 14.5 5.7 3-3.7 2.6 5.3-7.6-3.6-26.8 9.5 11.3-15 21.3-1.9-12.6 17.9-5.5-9.3-10.8 4.6 30.1-11.5-3.8 7.3-17-7.1 13.7 13.9-2.3-5.8-8.1 4.4 5.4-6.5 8.4 7.3-2.5-12.3 8.4 3.2-11.6 1.2-7-4.6 9.5 2.1-6.7 7.8-7.2-2.4 19.4-9.3-11.7 7.4 2.3-5.8 3.9-3.1-12 12 12.2-11.2 1.6 7.8-4.2 2.7 5.3 0.9-10.2 2.7-23.7 2.9 26.5-7.2-8.5-5.1 18 0.9-6.9-2.1-2.7 11.6 0.5-11.8 12.5-0.7-3.7-3.6-3.5 9.4 0.6-0.2-9.3-5.1 7.4 13.3 2.9-9.5-9.8-6.3 4.9-1.8-14 3.5-4.9 1.2 3.6 8.8 6.3-13.7 19.7 5.1-5.4-8.9-15.3 13.8-0.2 11.9 15-18.3-2.1 2.7-12.4 12.7 16.7-16.2-5.5 7.2 11.3-14.8-11.8 9.9 5.6 0.4-5 1.5-12.1 1 8 2-2.9 3.4 16.7-5.3-20.5 3.8-13.7-2 28.9-1.1 4.2-0.9-1.4-9.7-5.7-4.9-17 19.4 9.2 2.7 0.9-1.2 0.1-11.6-19.8 26.6 20.5-25.3 6.1 7.5-12.9-1.9 11.7 2.7 7.8-6.2-10.9 0.8 10.3 0.7-3.3-6.3-4.4 3.5 0 0.4-7.4 0.2 17 2.5-14.1 6.3-3.8-3.6 9.5-9.7-8.8 12 9.1-5.1 6-0.6-9.4 0.5-0.3-1.1 10.1 4.6-5.5-8.8-18 10.4-1.5-8.4 24.7-3-8 2.9-20 9.7 8 1.6 8.8-10.6-6.1 8.5 10.2-9-3.3 1.1 0.4-8.2-8.9 16.7 18.4-5.4 4.4-12.6-21.9 11.9 14.8-13.5 0.3 8-4.3-2.3-2.8 9.5-10 1.7 3.8 2.3 10.5-12.8 2.2-10.9 3.2 12.8-3.3-1.5 4.6 11.6-14.3-2.6-3.9 8.4 9.7-9.4 0.7-5-5.9-4.1-10.5 11.9 10 0.3-9 1 14.8-4.6-10.8 4.1 3.8-10.9 7.5 5.9-3.9-4.5 11.8-1-17.5 15.6-15.8-11.6 29.3-3.4 5.1 1.1 1.7 3.3-10.3-1.1-1-4.5 0 9-12.1 4.3 1.1-13.6 12.6 4.6-12.6-4.3 23.7-23.4-37.4 30.5 16.5-4 10.2-11.3-5.7 25.1-11-13-3.5 11.9 11.1-3.8 21.5-1.3-14.3-7.8 8.8 11.5-18.1-11.8 13.5 0.2-6.8 1-9.7 1 6.7 4.6 8.7 5 15.5 0.2-20.2-5 0.8-10.6 13.1-4-20.2 17-3.7 1.4 18.3-8.2-6.2-1.9-5.8-1 5.9 5.1-5.9-0.1 10 3.7-11.5-6.8 12.6 3.1-15.1 9.6 4.2 1.7 7.6-3.5-11.1-12 11.1-9.1-4.9 13.4-6.4-3.3 3-9.9 1.6 25.3-15.8-1.2 10.3-3 1-5.2 4.8 3.4 2.8-6.3 10.5-5-3.3 11.1 3.6-19-0.5 9.9-16.5-4.7 21.6 7.8-7.5-6.4-15.5 1.3 5-5.7 9.8 4.7-2.4 13.5 3.3-9.8-9.5-7.5 1.5-3.5 1.9 26.9-1.4-18.7-8-1.6 11.9 3.9-18.5 10.7 18.8-2.6 3.7-11.9-6.6 0-2 8.9 1.5-9.2-8.9 10.7-0.3-0.9 5.6 2.1-1.9-8.9 9.3-3.9-13.3 11.4 16-6.1-25.3 0.2 7.9 0.3 8.2 1.9 8.7-7-9 19.2-23.7 3.6 30.1-12.3-6.6-4.7-8.3 4.6 0.4 0 4.9 3.3 3.5-9.6 8.7 7-22.5-3.2 34.7-5.5-20.7 5.1-4.1-1.8 12.7 5.5-5.9-0.9 15.9-13.7-11.5 1.8-8.6 13-3.7-7.8 2 6.9-1.8-7.5 10.5 1.1-12.9 0.2 20-5.1-10 15.1-0.4 0.6 4.3-14.6-23.6 11.7 5.6-10.5 16.8 3.8-3.1 6.1-4.4-9.4 3.2-1.7-5.5 9.7 1.6-6-8.2 8-1.3 8.4 29.4-18.1-23.5 10.4 4.3 5 13.9-15.5-1.8 3.3-14.4 2.8-1.8-3.8 8.8 9.6-13.6-11.1 15.5 1.5-6-4.4 0.6 1.6 4.2-4.5 1.9 5.1 10.7-0.7-0.9 5.2-33.3-3.4 26 0.5-17.9 4.4-3.1 0.1 18.7-5.4-10.9 6.7 2.5-2.9 11.6-4.6-9.6 16.8-6.3-9.1 10.5-3.3 4.2-10.4-0.9 13.2-20.6 0 8.4-1.3 2.6-5.1 18.6-4.4-10.3-0.1-1.1-1.6 2.6-1.8-10.2 10.4 7.3-1 1.6 3.3-10.1 9.8 8.3-2.5-0.5-14-13.7 5.6 18.7 0.1-3.9-7.6 6.5 8.6-15 6.2 3-12.7 14.7 3.2-4 5.7-15 1.1 6.7-7.2 10.1-3.8-10.9 8.6 1.2-7.5 20.2-2.9-22.6 6.9-1.7-2.2-7.8 2.2 6 6 14.6-14.8-11 11.3-13-5.9 5.6 6.9 8.3-2 6.8-1.6-11.2 8.3 11.1-7.3-9.8 4.5 5.2-7-0.3-4.2 0.5-0.9-7.8 5.7 4.3 3.8 7.2 1.2-16.2 3.4 11.7-6 4 1.4 2-7.1-7.8 6.3-1.8-0.8 3.3 0.4-8.1 1.1 2-6.9 8.4 0.4-3.3 0-5.6 16.9 5.2-4.1-19-3.1 23.5-11.8-9.2 9 3.2-10-5.3 17.9 5.6-9.9 3.5-3.9 7.6 5.2-18.8 9.7 15.7-13.4-6.5 7.7-10.6-10.3 12.2-0.4-6.6 2.5-1.6-3.7 1.8 13.2 10.9 3.8-9.4-16.8-0.1 4.3-3 10.5 0.7-8 8.2-2 5.5-6.9-8.4 10.1 9.1-11.5-8.1 13.4-9.3 2.8 13.8-7-15.5 0.5 12.4-2.4 6.9 0.8-14.2-1.4 1.7-1.2 18.3-15.4-14.7 16.3 1 1.7 6.5 3.3-11.7-6.9-0.4-1.2 9.4 10.7-23 9.6 26.6-24.4-19.1 12.1-9.3-8.5 23.4 4.6-1.3 8.3-11.6 2.3 8.2-14-8.3 11.2 1.5-6.3-4.4 7.8 3.7-6.5 12.5 1-0.9 4-0.4-5.1 9.2-2.8-12 4.5-4 4.5-1.3-7.9 18-5.4-13.2 5.9 5.4 5.9-5.8-3.9 3.7 0.7-0.5-5.1-5.6-3 1 5.4-3.5 6-2.2-3.5 10.7-7.8 2.2 1.7 7.6 3.2-11.6 3.1-8.1 1.2 10-9.7 0.4 1.3-10.9 39.1 13.5-37.4-0.2 4.5 8.3-5.4-26.5 2.2 4.4 13.3 14.4-13.4-23.2 4.9 12.2 3.8-5.8-4.9 2.5 3.9-10.7-4.5 16.1-0.7 11.7-0.5-6.8-3.4-1.9-4.3-5.3 5.6 17.8 0.4-12.2-7.2 4.7-1-16.8 19.6 14.2-10-12.6 4.7 11.4-7.4 0.6 4.5-10 6.9 9.9-6.6 3.5-13.8-0.4 13.5-3.4-16-5.5 26.1-3-10.8-1.4 6.5 9.6-5.9 6.7-8.4-2.4 11.4-5.6-3-5.2 13 9.8-12.5-6.2 1-9.1 16.3-0.9-5.9 8.5-11.5-6.2-1.7 26.5 3.5-14.7 2.6-8.7 3.9 1.2-9.2 16.5-9-21.4 8 18.3 3.3-5.4-4.9 10.1 0-13.6-9.8-0.9 18.4 3.9-11.6-7.9-7.8 10.4 3.5-4.9 11.7 19-2.3-26-12.5 7.3 4.5-5.8 11 2.8-10.8 1.6 5.6-0.1-3.4 8.3 2.7-15.1-2.3-0.1 6.5 14.9-9.5-9.3 9.7-3.6 0.4 17.2-1.5-4.7-2.3-24.8 19.7 11.5-24.2 12.4 2.2 2.5 4.7-12.4 1.7 14.9-29.7-16.7 31.8 2.9-5.9 9.2 12.7-6.5-11.7 8.3 0.8-1.7-8.6-4.6 13.4 3.8-23.5-17.1 14.8 9 2.5 13.3-12.8-7.8 18.2 5.9-8.1-8.8 13.2-5.2-15.2 2.6 2.2 5.4 6.1-8.4-4.4 7.5 5.8 5-3.3 1.4-8.6-7.1 8.2 5.3 0 5.7-3.5-21.4 6.2-11.4 2.2 33.4-12.1 0.2 6.9-8.1 9.8-4.9-17.7-14.5 5.9 2.9 6.4 17.4 1.5-19.7-4.5 26.4 6.5-13.1 5.6-3.2-32 21.2 14.9-0.6-0.2-19.8 3 7.9-11.8-12.6 17.9 2.2-4.8 11.2 4 7-6.6-19.3 0 15.3 9.8-3.8 1-11.9 3.4 6.2-11 15.2-1.7-14.9 2.3 3.6-5.8 1.4-13.4-9.8 21.9 11.3-18 8 11.9-3.7-10.2 1.1 8.6-15.7 4.1-2.8-3.7-1.4 1.2 0 2.7 5.3 9.5 12.3-11.9 2.4-4.8-14.9 12.9 9.9-19.1-20 10.1 9-0.4-1.4 11.7-8-4.1 14.6-4.2 0.2-0.1-7.2-1.1 4.7 8.7-5-0.9 3.6-10.7-4.2 0.9 9 1.6-13.7 1.1 13.7-0.9 3.9 2.6 9.7-8.1-6.5 3.4-8.5-0.1-7.8 1.7-9.9 3.1 19.9 4.5 7.2-15.1 3.9 3.2-34.5 15.5 15.4-4.9 1.7-5.3-8.4-3.6 18 13.4-8-14.8-2.5 12.5 1.8-12.2-9 14.1 1.4-10.7 6.5 13.1 12.1-12.5-25.1-0.7 18.6 10.7 0.5-21-3.5 10.6 10.2 3.9-15.3-1.9 12.6 4.1 1.2-7.8 9.5-7.9-8.4 14.5 3.2-8.5-12.8 2.7 3.8 6.6 9.5-11.3-10.5-1.8 8.2 0.1 1.1 18.1 11.3-6-6.2-19.7-21.4 23.2 23.2-7.7-15-2.2 2.4 4.5-8.6-6.1 8.4 0.3-12 13.4 0.7-6.8-0.5-0.4 8.5-4.3 2.8-7.7-0.8 2.3-2 3.7-7 5.5-11.2 0.6 23.8 5.5-10.1-16.8 3.2 2.5 9.8-1.8-10.7 11.6-4.5-9.5-13.6 16 21.2-15.9-4.9 2.5-5.5 10.7 12.6-4.4-11.3 6.3-0.7-12.7 25.4 1.7-5.6 5.5-4.4-5.1-1.2 1.2-1.8-1.6-4.1 0.7 19.5-2.6-17.7 12.6 2.5-12.4-6.5 6.5 0.1 3.3-22.2-3.7 10.8 13 25.8-18.9 9.7 6.3-29.4-2.2 4-4.4 9.4-0.3-14.7 9.6 20-16.1-19.1 19.3 1.3-4.3-19.7 0.9 38.5-8.1-13.4 2.3 13.3-4.8-22.5 7.5 10.3-6.5-3.2-1.4 3.9 6.1 15.3-7.2 2.5 1.4-9.9-2.6-12.1 12.2 11.5-2.8-0.7-11.5-3.5 9.6 4.5 9.8-6.7-13-10.9 6 10-2.9 10.1-7.4-18.4 16.3 6.8-8.6 9.5-4.6-22.9 6.5 13 2-14.3 2.6 8.3-5.5-6.4 3.3 8.4 7.4-0.1-9.2 2.3 0.5 2.9 5-21.2 1 35.1-9.4-19.6-2.8-3.1 11.1-2.2-15.2 12.6 7.6-12.1 2 4.3-3.5 3.4 8.9 7.5-5.4-10.3 5.3 11.3-1.2-3-4.4-4 2.1 10.1-8.2-5.8 13.9-12-0.4 8.5-13.6-1.7 0.3-1 1.2 2.2-1 21.8 2.1-19.5 2.9 3.5 2.9-9.8-6.3 12.8-5.7-6.9 14.6-13.1-12.9-1.7 5.4 12.4-10.8 4.8 6.2-12.1 24.3-0.1-19.4 15.1 3.8 4.5 1.4-24.3-2.5 7.4-3.6 12.4 0.5-10.5 6.6-4.1-11.1 0.9 4-1 14.7 5.8-16.9 4.7 4.8-12.6 9.5 9.4-12.1 12.9-5.4-12.5 3.9 5.8-3.2-12.2 5.7 13.6-12-15.3 13.4 22.6-8.4-17.2 13-4.7-4.5-1.9-0.5 9.4 10.6-4.7-8.9-5.2 0.3 5.4-3.4 9.3-1.1-0.1-5-9.2 6.2 12.2-7.4-19.2 6.4 1.4 3.9-2.8-4.2 20.9 8.7-23.9-6.1 7.5 13.5 18.9-16.7 4.8 1.1-1.8 4.2-37.9-5.9 27.4 11.6 4.2-8.5-8.2-3.3-14.6 6.3 12.9 0.7-15.3-4.4 11.1 14.6 23.6-21.8-10.1 10-19 4.7-1.4-2.5 17.6-8.5-11.3 3.2 14.4 5.9-12.8-1.6 4.8 0.9 3.5-1.8-10 5.6-7.8 2.2 7.7 1.3 0-11 3.3-3.5 3.1 3.7-0.5-1 5.6-0.2-9.2 10.5 18.4-9.4 4.1-4.1-16.3-0.4 1.3 6.8 8-5.5-3.7 5-4.6-2.1-4.6-0.4-3.6 4.6-5.3-2.5 14.7-7.5 6.7 3.4-18.9 7.1 10.2 1.2 0.6-5.1-8.1-4 2.6 13.4 3.6-0.2-18.8-7.2 16.7-4.6 1.5 8.4 18.1-12.6-13.2-3.6-5 17.1 0.5-6.3 14.7-5.1 0.9 4.4-15.6-3.6-2.7 0.9-7.9 11.4 9.7-2.9-0.4-4.4-2.4 7 18.7-12.5-28.3 16.3 10.3-15.4 5.8 0.9 2.9 5.9 6.2-13.6-25.2 11.5 7.3 2 6.1-5-1.6-5.7-5.3 1 3.2 15.5 12.4-12.9-14.6 14.3-1-12.7 18.6-2.8 1.9-2.2-2.9 3.1-21.4-0.3 6 13.2-3.6-7-0.9 3.2 3.4-8.3 19.2 5.7-15.1-10.6-0.9 19.7-5-10.8-3.1 1.8 18.8-10.3-22.1 21.6 14.1-19.1-14.2 6.2 3-1.7-0.5 8.3 20.2-8.7-11.2-2.1 25.8-4.5-28.9 18.6-2.3-3.7 13.2-7.7-3.2-6.5-1.5 15.2-16.2 2.3 24.1-22.6-5.8 6.4-5.6-8.9-1.3 19 6.4-12.7-7.8 8.9 8.4 5.6-7.8-12.4 16.6 5.5-16.6 0.8-0.7-4.2 16.9 5.9-9-0.9-4.4-4.3 0.7 6.5 7.5-9.6-13.8 4.6 10.3-1.9 15.6 0.8-18.8-6.3-9.2 5.7 1.2 11.9 6.3-15.7-8.8 10.7-3.3 0.8 4.8-7.7-1.6 3.8 17.5-4.3-19.1 8.7 26.5-7.7-20.1 6.6 8.6 0.1 3.1-5.3-5-1.4 6.3 3.2-18.4 8.2-5.8 3.9 14.9-12.4-12.1 5.5 9.1-3.9 9.6-12.1-5.3 13.4-5.6-3.8-4.6 1.5 7.7-1.2 6.1 11.1-17.6-8.4 20.2 4-18.8-12 14.4 3.8-0.9 12.9 8.3-13.5-0.7 1.4-9-1.3-6.7-10.5 12.5 14 8.7-1.5-2.3 1.8-5.6 7.4-2.9-10 11.7-1.8-32-0.8 23.3-1.2-16.2 11.3 24.8-4.9-14 9.5 2.7-2.6-10.5-1.8 7.9-6.9 6.5-2.6 7.4-3.1-23.8 11.7 8.3 5.5 33.6-26.1-27.4 3.9-6.8 5.7 13 17.6-29.5 4.2 31.3-24.4-11.5 6.4-11 10.5 20.6-11.5-17.1 8.5-5.8-11.3 14.1-2.9 2.2 7.7-5.9 5.8 2.3-3.2-7.8 10.6-4-6.8 19.7-7.7 3.1-2.4-5.4 7.6-3.8-7.3-0.7 15.3-4.4-15.7-5.8 15.3 25.1-13.7-17.3 12.6 2.3-16.4-2.9 2.5-10.2 8.1 29.6-7.4-18.8 9.1-16.3-19.6 17.9 12.2-7.2 6.4 7.9-3-8.1 3.7 11.4-8-3.6 3.1-15.9-4.2 25.6 4.2-13.9-12.5-6 15.3 10.5-8.9 3.2 5.7 9-11.5-18.5 18.8 13-8.9-6.9 6.4 6.5-2-7.1 3.5-1.5-7.6 7.1 3.2-19 7.9-2.5 1.4 15.9-10.6-13.7-16.4 13.7 14.1 5-0.9-8 0.8 11.2-6.1-8.4 8.5-0.5-4.5 8.8 3.7-0.8 3.7-8.1-3.4 3.5 3.2-11.5-6.4 1.5 0.4 7.4 0.6 4.5-5.7-8.2 9.4 10.6-4.6 12.3 3.1-2.7-10.7-13.7 16.2 3.7-14.5 0.4 3.5 1.3 6.2-0.6-2.6-8.4-11.8 7.5 10.1-4.1 4.7-7.9-7.6 6.5 3.1 2.3-0.2 7.5 0.6-5.2 7.2-2.4-13.7 6.5-0.3-14.2 20.2 4.7-4.2 7.7-0.5-7.8-6.2-6.4 8.7 9.3-23.4-2.7 17.3-10.7-3.2 23-12.8-25.5 13.2 15.9 7.3-5.5 2.5 2.3-12.1 4-1-8.2 12.2 2-11.3 1.7 4.5-6.4 4.9 19.1-5.2-11.3-3.3-9.1-10.1 2.3 13.5 4.6 3 1.5-7.2-5.2 1.8 13.3-8.1-28.3 20.4 2.7-2.7 15.8-6.4-13.7 4.5 17.3-0.5-6.8-2.3 9.4-6.4-3.6-4.3 8.9 0.1-2.4 3.3 5.8 5.7-8-2 2.8-5.8-2.5 7.2-9.2 3.4-7.7-2.6 2.2 4.1 10.8-13.5-21.2 16.1 25.1-0.4-9.8-1.4 11.5-7.1-1.9 4.7-10.1 1.1 2.4-11.6-17.4 11.7 20.5-10.4 4 4.7-18.1 10.6 30.4-1.5-18.4-9.8 0.4-5.6-10.2 12.4 18.7-10.2-2.3 2.8-5.2 1-10.5 8.8 15.5-14.4 5.8 2.3-5.5 6.3 3.3-6-12.3 7.6 3.7-8.3 4.9 6.2-3.9-3.7 20.9-12.4-18.8 10.9-8.4 2.8 11.9-4.1-16.5 5.2 16.6 5.2 1.7-5.2-11.3 2.6 1.4-0.7-6.2-0.3 12.5 1.8-10.6-3.5 20.2-8.1-10.4 0.7-3.1 12.4-14 9.4 32.4-18.2-6 2.8-14-13.2 2.9 12.5 1.7 4.3-6.4 0 15.1-18.3-9.9 14.8-12.8 7.8 3.9-8.5-17.1 4.2 27.8-9.4-3.6-19.9 14.5 19.8 0.4-6.4-25.8 13.4 13.6-4.2 4.7-1.7 1.7 8.5-15.7-6.5 12-2-6.4-7.7 10.1 3.6-15.9-5.5 5.7 18-3.9-2.7-0.2-3.2-0.1 8.4-0.4-10.4 8.6 0.8-1.7-2.8 6.9-3.7-0.4 4.1-4.7 0-13.6 8.7 12.1-10.8 3.9-4.3-14.2 22.7-4.5-2.7 3.8-6.6 0.4 3 3.7-8.4-2.5 8.8 7.1-13.3-9.2 14.8 8.8-3.6-4-1.5-2.3 5.4 14.8-11-2.5 15.5 0-10.4-11.7-6.8 9.6-1.3 9.2 15.2-15.3-10-11.5 10.2 19.5-13.7 3.2 10.1-5-0.1-0.1-1.6-3.5-5.2 0.8 0.3-6.3 12.3 3.7-12.5-0.2-8.8 0.1 20.7-4.2-1.4 18.5-21-6.9 12-6.9 4.8-2.3-1.1-14.7 14.6 9.2-6.3 5.4-13.8 14-2.6-25.3 17.2 11.2-4.8 18.9-15.6-7.2 11.4-6.2-8.2 9.9 4.9-18.3-11.3 6.3 14.7 10.6 4.1 0-3.1-20.6-3.8 16.8-19.6-20.1 27.2 10.3-0.2 28.9-18.3-29.2 13.7 6.2-11.8-11.8 10 4-6-3.3 1.3 4.2 2.3 12.7 5.3 6.8-8.9-9.6-2.2 6.9 0.4-18.6 3.8 17-5.5-5.8 6.9 3.1-10.9-11 14.9-0.4-5 16.7 2.2-10.4-6.7-1.8 7.2-8.8-2.1 7.7 4.3 0.4-18 4.1 10.1-11.2 3.1 0.3-4.2 8.8 2.9-12.3 6.5 16-9.4-8.7 1.5-0.4 2-18.9 8.2 10.4 5.4 3.5-4.5 5.3 2.1-5 0.2 13.9-1.3-5.6-7.3-2.8 2.7-14.9 5.6 27.2-14.7-11.6 11 6.6-4.4-10.1 5.1 5-3.4 7.4 1.1-8.9-9.7 10.1 6.5-10.7 1.4 16.7-10.7-31.3 15.6 12.7-1 13.3-4.1-12.3-0.4 0.3 5.1-11.6 3.3 25.8-7.8-25.5 11.3 19.3-10-4.9-4 4-6.1 9.9 9.5-22.3-2.3 2.5 8 2.5-5.2-8.3 12.4 17.3-17.4-10.5 3.5 1-10.1-9.1 20.8 12-10.8-6.4-0.4 4.9-1-4.9 11.4 15.6-11.8-12.9 8.3-17.9 1.9 27.5-9.1-6.5 6.4-7.3-3.5 31.1-5.1-24.2 2.3-6.1 14.7 0.8-14.1 8.4-3.1-3.8 4.9 15.9-10.2-5.7 4.4-15.1 7.2 9.4 2.7 1.4-10.1-5.2 11.6-1.1-1.2 9.6-8.3-4.2 0-11 16.5-7-28.1 10.3 13.5 2.5 0.8-2.9 4.9 15.9-9.8-17.2 12.6-1.7-1.3 11.7-2.3-23.7 1.2 12.3 0.5 16.1-0.5-27-2.2 11.9 0.8 12.5-14.5-1.4 10.6-6.3-5.5 6.6 8.7-12.8-6.3 10.5 1.9-6.4-3.1 24.3-5.3-15.2 9.3-3.3 11.9-1.6-9.8 1-0.1-8.9 11.6 3-5.6 14.9-18.5-20.8 18.1 5.9-5 14.6-2.6 3.4-3.2-25.6-1.4 23-3.6-10.1 17.7 14.6-11.8-11.9-6.6-6.9 7.3 8.8-2.7-3.6-4.5-15.1-4.4 31.9 7.2-26.3-0.2 15.6-2-13.7 5.6-10.2 6.6 5.6-2.8 12.6 5.6 2.5-11.7 10.8 0.4-15.1 3.2-0.2 7.5-10.3-2 5.3-14.4 10.9 16.8-21 8.5 32.8-18.4-12.1-9.3 15.5 9.7-28.3 7 5.4-9 0.3 1.3-7.4 13.1 0.1-10.3-0.1 2.7 12.2-11.1 0.9 9.2 4.5-10.1-11.3 13.4-10-0.5 20.1 4.5-5.9-11.7 3.6 1.5 12.7 2.1-21.3 6.3 6.3-16.5-11.2 14.8 10-3.2 5-0.6-8.4-1.1 6.2 6.7-13.4 5.4 2.4-11 5.1-6.3-9 9.8 4.2 1.8 28.2-9.5-22.7-2.7-7.8 6.4-4.5-5.4 26.5-8.8-34.6 30 22.2-4.1 4.9-9.9-11.7 0.2 8.7-4.5-8.3 16.4 6.9-7.3-1.6-4.9-1.9-3.4 0.6-1.6 0.7 4 12.8 4.7-15.8-4.6-2.9 0.6 3.8 1.8-1.3-2.4-7.5 10.2-7.4-8 6.9 3.2 11.8-9.7-4.6 10.7 0.7-4.2 25-16.4-13.9 7.4-10 7.1-0.3 8.7 20.3-12.6-27.4 10 17.2-16.1-6.4-0.1 9.9-9.1-18.9 18.1 15.5-1.2-23.1 8.3 15.8-0.9 5.6-15.2-1.3 5.6-20.9 9.1 19.2-12.8-4.5-4.8-1.4 8.4-1.7 10.7-2-14.3 3.1 13.4 12.5-5.4-6.1-3.2 5.9-0.2-4-0.5-21.8 10.4 20.6-0.9 15.8-8.7-27 11.2 9.8-8.6-9.5 2.1-0.1 2.2 5.8-11.4 6.7-0.6 0.8 5-6.5-7.7 7.8 6.7-21.5 8.8 20-9.2-3.3 1.7-6-0.4 7.2 12.4-21.6-18.9 25.3 1.2-18 2-1.5 12.7 13.3-2.7-2.8 6.3-1.2-13.9 16 0.8-16.9-1.4 3.9 3 19.2-4.4-34.8 3.3 17.4-0.3 5.6-5.2 5 3.6 7-0.6-28.8-0.3 13.3 1.8-8.4-3.4-4.9-3.1 0.3 6.7-5.2 4.8 13.1-12.7 4.2 2.4-13.5 23.1 16.2-17.3-8.8 9.5-3 3.4-16-0.1 35.9-2.2-4.8-8.8-12 2.5-2.6-4.2-6.5 5.6 18.4-3.3-7.3 0.8 5.3-1.5-2.7 1.8-16.7-2.3-0.1 3.3 17.2-5.4-17.7 7 14.5-11 7.9 3.6-19.8 4.2 20.2 1.7-9-6.3 6.3 3.2-14.3-6.4 9 6.4 6.1 3.9 9.7-9.7-7.8 6.9-2.9-1.3-15.9 4.2 15.2-2.2-8.5 3.3 5-2.4 0.8-5.9 6-2.1-7.9-9.4 3.3 14.8-5.1-4.4 12.4-3.8-18.3 19.2 9.4-9.9 11.5-3.9-15.3 0.5 11 1.9 3-4.1 5.9-1.5-7.6 1.7-19.4 18.6 7.9-19.2 5.3 5.4 4.5-1.8-2.3 4.8 11.5-7.5-8.6-1.8-17.6 11.5 7.4 4.5-20.6 9.5 36.1-27.3-14.2 9.7-0.8-1.4-14.5 18.3 8.5-18.7 13.6 5.2-6.3 4.7-3.7-8.4 3.1 12.2 16.3-21.4-21 9.6-5.5 7.8 5-9.4 2.6 2.4-0.6-7 0.4 4.2-6.3 5.6 4.6-10.2 9.2 7.6-14.9 6.8 26.4-16.5-0.8 4.6-29.2 13.1 8.9-12.3 14.3 1.3 2.1-2.8 1.9-5.8-28.1 18.4 3.1-9.6 1.2-10.6 15.8 11.6-14 5.1 16 1.8-4.3-10.1 4.8 4.7-20.5-0.9 11.9-6.7 0.7 4.3-2.9 4.4 18.7-9.7-15.7 13.5 14.8-6.1-22.2-4 20.9-5 4.5 11.3-21.6 7.1 4.5-16.2 0.7 2-5 17.9 8.6-20.5 3.1 11.1-19-9.9 11.9 4.9 4.9-6.8-5.8 10.4-2.7 6.5 18-12.6-20.7 12.4 11.4-4.2 7.6-0.6-5.5-5.1-36.7-1.7 23.3-3.2 6.9 11-1.2-1.1 8-0.9-3.7-6.5-3.7 0.7-2.8-11.8 8.7 5.2 4.1 3.7-27.4 9.1 32-19.8-16.3 24.8 8.1-11.8-19.6 10 9-4.9-6.5 2.1 17.4-13.6 2.4 9.8-10.3-3.5-2.5-1.5 9.5 8.7-13.5-0.5 3.9 1.2-6.7-11.4 21 11.5-12.1-9.4-18.1 3 21.7-2.1 0.3-3.4 7.3-2.8-13.3 13.8 10.1 1 10.4-14.3-19.5 10.2-0.2 0.4 7.5-2.6-11.5-3.2 10.5 12.2-10.9-13-0.7 4.8 19.7 6.7-15.1-5.7-7.2-1.9 7.2 3.6 7.1 9.2-1.1-12.4 2.8-8.1 9.8 3.4-24.8 11.5 5.7-9.1-10.8 11 11.7-19.4 8.2 11.8-10.3 3.2-2.4 0.5-2.3-3.3 0.1 11.5 16.2-11.1 12.1-1.5-29.6 1.9 26-3.7-12.5 11.2-11.3 3.2 11.2-18.5 3.6 3.6-4.4-1.6-4.7 4.1 16.6-5.8-12.5 15.7 7.2-4.5-3.5-8-10.7 10.6-19.7-1.3 8.2-5.8 9.7-8 8.7-0.4-12 24.1 5-12.5 19.5-6.7-26.7 14.8 12.4-22.9 2.8 8.7 4.1-0.4-16.1 14.4 13.2-10.8-18.9-3.7 22.6-10.3-14 17.9 10.2-5.1-13.4-3.4 7.9-3.4-10.8 13.3 12.2-13.5 6.2 6.9-6.4-0.7 13.5-6.2-5.7 15.4-2.4-14.9-3-0.5 12.7-2.1-25.1 0.3 10 13.8 0.1-0.8 5.8-5.8-3.2 0.8 4.7-2.4-7.7-5.1-3.8 9.6 4.1-1.1 6 2.3-23.9 7.5 32.3-10.1-17 5.6-4-13.7 7.8 3.7-1.2 8.6-12.3-0.6 11.1-2.6 15.4-1.9-6.8-7.6 4.1 5-11.8 13.6-0.5-8.9 9-8.3 11.2-0.9-19 6.3-10.2-0.5-4 12.7 26.7-15.5-28.6 1.9 22.9 7.4-0.7-12 22.1-4-24.9 13.3-3.8-1.7 2.5-7.6-1.9-5.3 10.8 5.4-3.8 6.2-15.3-1.5-9.6 8.9 23.9-0.9-13.1-7.3 28.4 16.2-30.8-7.2 9.5-13.2-4.4 11.2-2.7-2.6 24.9-2.1-18.2-6.7 1.2 10.7 4-12.1-9.8 12.7 6 4-5.2-5.5 24.8-4.1-17.6-1.7 5.2 4.8 0.8-9.5-10.2 6.9 0.8 1.2-15.8-1.7 19.2-5.3-1.2 2.4-0.8 13.7 15.7-15.6-33.5 6.9 18.6-8.6-12.9 12.2-0.2-5.9 10.7 2.8 10.4-12-21.4 9.7 5.7 8.4-7.6-12.2 36.4 7.8-19.3-9-2.5-3.1 18.6 3.8-14.4 9.2-19.6 10 12-9.7-8.6-3.4 28.7-9.6-28.7 14.5 16.2-3-6.8 3.6 0.1-1.5 4.3-1-8-14.4-1.1 10.3-1 10.4-1.8-10 0.8 3.2-0.3-3.6 10.4-1.6-3.8-1 2.4-9.1-0.9 14.5 18.6-8-25.6 3.7-4.8-4.7 21 0.6-16.8 2.1 13.5 9.9 3-11.5-12.1-2.5-0.3 5.3 22.8 9.7-15.8-9.9-8.8 0.2-4.5 5.2 5-7.5-6.5 14.7 1.8-14 2.4 10.6 12.8-3.1 3.8-2.3-17.4 1.1 4.2-3-9.4 6.8 2.9 0.1 8.8-2.1 7.2-6.5-0.2 1.6-0.5-3.9-8.1 1.6-16.9 18.7 29.8-17.2 4-0.1-1.4 6.2-5.2-11.5 1.8-0.3 14.1-4.9-17.4 15.1 5.6-15.9-4.8 6.5 2.1 7.6-12-8.4 3.1 11.9-4.7 7.3 12-12.3-10.3-2.6-6.8 5.3 2.6-4.3-1.7 6 26.1-5.6-15.7 7.3-4-17.1-8.1 12.2 3.9 4.6 16.4-11.2-15.5-5.3 9.6 11.2 22.9-6.7-7.4-1.5-9.2 3.5-2.4 7.2-7.3-10.5-2 7.4 30.3-8.2-30.2 29.8 0.6-24.4-12.4 14.3 7.7 2.1 12.2-11 0.7 0.3 2.6 4.7-15-14.6 1.7 12.6-0.7-5.3 5.7 9.1 10.2-11 2.7-2.2-8.8 3.5-11.5-3.3 1.3 12.1 5.1-17.1-1.5 9-13.9 5.3 30.2-5.6-13.9 0.4-4.5-3-1.4 9.6 2.2 5.1 9.2-20.1-10.5 18.7 4.4-13.9 5.6 0.1 10.4-4.5-12.5 0.6 0.4 15.4-5.3-2.5 10.7-5.8-3-10.2-7.8 15.4 5.2-11.5-1.2 13.9-19.6-9.8 10.7 9.9 10.6-18.1 10.1-8.3-7.4 17.5-6.1 6.5-3.8 3.2 7.4-12.2-2.1 0.1-13.5 14.6 14.9-18.8-11.5 5.3 15.3 2.8-1.3 0.2 0.8-2.5 5.5 4.3-9.4-12.7-10.4 17 4.1 8.4 15.9-23.6-10.7 0.9-12 20.1-13.2 3.6 34.2-13.1 10.2-7.5-14.4-0.4-8.6 5.3 2.2-6.7-17.2 30 7-23.9 18.4-4.8-2-1.1-23.1 16.9 30.4-7.8-9.7-7 5.5 3.2-9.1 5.7 5 6.4-14.6-7.8 13.1-2.9 7.9 4.6-22.4-8.1 14.2 2-7.4 3.9 10.8-11.9 5.5 2.5-31.7 17 26.1-6.3 4.3-3.1-19.6-1.4 5-3 4.7 9-13.9-8.3 11 0.8 13-9.2-10.2 1.8 12.9 5-8.2-6.2 3.5 3.1-5.2 13.3 6.3-1 4.3-18.9-3.7 4.1-9.7 4.6-9.8 1.6 3.9 13.8 8.9-6.5 3.3-2.3-25 1.1 21.3 0.6-0.2-3.2 0.5-1.6-7.3 6.9 26.1-7.1-15.3-1.5-20 6.9 4.3-5.5 18.2 6-4.4-3.3-9.6-12.6 4.1 13-0.1 3.9-7.2-10.7-4.7 2.7 19.1 6.1-31.5 6.4 14.9-13.6 20-0.2-16.6 9.3-6.3-4.8 33.7-16.5-12.6 12.8-10.4 4.1 0.3 10.5 2-3.5-2.8-3.5-1.6-6.1-4.1 2.2 7.4-12.7-7.4 15.5-8.8 2.2 3.9-3.2 14 1.9-7.6 6.4-31.9-9.2 51.5-4.5-8.5 4-10.6-1.4-0.6-0.3 14 7.8 5.2-8-14.6 20.8 3.2-24.4-9.5 2.6 9.8 0.2-10 11-4.9 4.8 17.7-4.1-8.2-13.3 6.2-5.6-6.6 17.1 17.2-8.2-10.8 4.6 13.4-2.6-20.9-3.7 14-11-5.4 23.8-2-9.3 5.7-6-20.9 15.7 6.6 11.7 22.7-28.4-25.1 20.2 5.1-11.8 12.8 5 4.1-11.9-14.6 12.4 2.8-8.4-9.4 7.8 5.6-4.6 10.6-8.5-4.8 5.2-1.8 4.2 2.2-5.7-3.4-0.9 2.3 4.5-2.2 6.9-8.6-5 12.1-10.8-15.3 7.6 20.5-3.9 12.9 3.7-5.9-16 6.4 12.8-31.4 6.2 10-9.2-8.9 6.7 2.3 12.2-9.7-8.5 8.2 7 19.1-4.6-7.6-13.5 3.4-4-1.6-2 2 12.4-16.5-0.9 6.4-1.3 6.9-4 9 8.4-15.3 2.8-1.1 0.1-4.6-11.6 19.2-3.3-7 7.7-7.6 3-2.9 3.8 13 1.7-19.9 3.5 12.6-4.9-4.9-3.3-0.8-1.3 6.6-3.3 2.6 1 18.9-17.4-22.6 16.3 6.4 0.6-13.8 3.2-6.3 5.3 19.9-19.2 9.7 3.1-23.9 13.9 10.4 2.1 7.8-9.5-9.4 2.1-21.8 7.7 30.2-9.9-11 1.7 13.9 3-20.9-0.1 18.2-1.1-1.5-6.9-16.7 2.5 10.4-4.4-4.5 15.7-2.1-7.7-3.2 1.9 10.5 12.9-10-17 18-1.5-14.6-1.2-6.1 7 23.6-3.9-8.8-0.9 8.5 8.9-15-9.7 7-1.7-8.2-0.4-4.2 10.1 7.3-7.8 1.7 2.9-1.5-3.3 12.7 2.8-28.2 5.1 20.2-4.6-11.1 3.6 3-4.9 7.8 0.9-3.2 1.3-5.1 5.3 6.7-17.4 0.6 19.8 5.5-10.3 3.2 0.3-13.2 6.5-10.3-6.3 14.5 5.7 5.2-4.9-5.8-1.9-9.8 11.9-6.7-3.2 4.8-6.5 4 9.1 13-6.3-5.7-0.1 5.9-5.2-4.4 11.9 10.2-17-12.3 10 3.7-3.9-8.1 3.5 8.7 0 6-13.8-3.2 12.7 3.7-2.9-17.1 4.1 8.1-5.8 9.2-7.8-9.1 12.4-0.1 9.2-5.5-10.8-3.1-0.3 6.2-1.3 12.4-0.2-7.4 4.6-4.3 1.1-7.3 1-5.3-4.4 34.2-2.4-26.8 4.2 6.3 1.4-5.5 0.7 5.3-2.8-3.3 6 3-5.1 15.4 4.2 " fill="none" stroke="none" marker-start="url(#dm1)" marker-mid="url(#dm1)" marker-end="url(#dm1)" clip-path="url(#cpE)"/><marker id="dm2" markerUnits="userSpaceOnUse" markerWidth="0.8" markerHeight="0.8" refX="0" refY="0" overflow="visible"><rect width="0.8" height="0.8" fill="#111" fill-opacity="0.95"/></marker><path d="M515.8 125.7l0.9-1.7 11.5-9.3-5 7-1.1 1.6-0.5 0.3-3.3-6.1 2.4 8.4-2.3-1.3 12-10.3-4.1 6.6-9.8 6.3 6.7-4.4 0.7-5.7-6 1.4 12.3 1.2-7.4 2.3 3.6-5.6 1.6-1.1-2.5 2.5-1.1 3.8 2.4-7.8 2.6-0.8 7.4 4.8-10.8-3.7-8.5 11.4 16.3-12.3-17.1 11.8 4.3 0.5 16.3-16.6-8.3 10.7 8.5-9.5-12.7 6.8-1 0.4-12.1 9.2 14.7-5.9 4.2-2.5-3.1-0.8 11.1-10.5-9.4 6.3-0.8 2.7 5.4 1-4.2 1.1-0.9-2.7-5 9.1-11-1.8 8.6-7.4-0.3 1.7 7.2 2.5 0.1-6.4-3.7 4.6-6.7 6.2 8-7.3 5.8 0.2-12 7 10.3-9.2-7.5 8.4-2.9-6.4 15.6-1.2-11.2 2.7 5.3-5 0.6 2.4-1.9 3.1 8.4-7.6-6.2 5.5 1.4-2.8-4.1 1.6-9.5 13.4-1.9-0.3 5.5-11.5 5.9 2 6.9-9.1-4 2.9-6.5 8.2 3.5-0.7 1.9 0.6 0.7-2-2.7-3.1-6.9 4.7 7.8-6-0.1 1.4-1.8 7.2 9.6-10.6-4.6 2.9-2.5-8.7-3 12.7-13.9 6.7 17.9-11.1-9.4 8.4-0.6 1.4-2.5-2.4-1.8 0.8 9.1-3.6-7.6 3 0.2 6.5-1.2-5.1 2.3-5.7-2.5 7.1 2.8-3.8 8.7-4.7-7.2 5.6 3.9 0.6 3-1.7-16.7 6.7 17.4-16.5 1.7-2.2-14 21.8 7.4-11.1 5.1-1.3-5.6 0.7 5.5-1.9-3.7 4.3-1.5-2.6 5.5-2.9-2.4 3.6 0.7-5.7-6.7 5.6 3.4 2-1.4-2 3.6-1.9 2.2-5.6-4.7 9.4-0.8 0.5-0.1 4.9 7.2-11.2-6.4 3.9-1.8 4.5 5-5.9 0.5 4.4 2.9-6.8-3.7 2.2 2.1 1.3-4.8 4.8-1.9-0.9 14-7.2-12.8 0.9-4.1 6.9 12.2-7.2 0.1 3.5-5.5-5 0 8.8 1.9-6.4 1.8 1.5-12.7 7.4 8.8-13.5-7.1 9.3 19.3-11.1-6.8 2.3-9.3 6.7 2.6 0.4 0.6-1.6-2.4 1.6 2.2 0.9-5.7 0.8 14.8-13.2-6.6 5.8-1.6 5 5.5-8.7-8 8 22.1-12.3-24.6 13.6 14.9-10.2-18 10.2 5.9 2.6 1.7-1.5 9.4-9.6-9.8 9.8 3.5-6.5-17.7 10.7 3.9-3.6 12.9-2.7-5.3-0.6 10.8-3.8-7.3 3 7.2-1.1-6.9 2.4-7.8 1.6 13.4-10.6-13.5 13.3 0.2 3.3 9.7-9.6-3.9 6.8 0.3-0.9-2.7-2.6 8.8-6.8-13.1 9.5-1.1 1.7 8.1-4.1-7.4 4.8 7.5-9.3 4.3 0.6 5.1-4.5-10.1 10-7.2-0.9 7.8 2.6 9.2-10.6-5.8 2.6 10.2-6.7-15.2 9.2 4.3 0.3 11-5.6-14.3 7.8-0.2-0.1 5.8-2 1.9 0.9-0.6-1.2-7.4-4.4 5.9 2.8-0.8 1.1-5.6 3.1 8.5-5.3 4.2 1.3-0.1-4-12.9 8.1-1.2 0.5-3.2-2.2 2.3-0.9-5.8 3 13.1 0.7 11.7-12.8-15.8 7.4 3.4 0-4.9 4.5 3.3-4 1.6 4.1 2.1-4-0.2 1.9-9.7 1.8 11.9-9.9 4.4-0.2-12.2 8.9 3.2 0.4-4.3-5.1 8.7 2.6 4.8-6.3-11.7 9-0.5 2.5 17.9-17.3-9.6 8.5 1.9 0.3-11.5 5.7 7.6-8.2 4.6 2.2-8.6 3.6-6.2 4 22.9-13.6-13.9 6.5-4.7 9.5 1.4-2.5 4.9-1.8-9.3 0.2 1 1.3 0.9-1.6 6.2-5.2 0.7-1.6-1.5 3.1-4.4 3.5 6.8-7.1-5.3-0.6-7 9 12.7-0.9-4.2-3.5-3.5 6.7-0.2-5.4-7.3 2 6.7 1.8 2.3-0.4 2.5-2.6 2.2-2.8-0.1 0-1.9 4.3-4.7-1.1-1.7 3.2 8.2-0.5-0.4-11.3 2.1 5.5-12.3 13.8 7-16.3-3.2 2.1 5.7-0.8 0 1.3 8.5-0.4-2.8-5-5.2 0.7 1.6 8.7-10.7 2.2 15-9.5-7.2 4.6 3-5.6-6.8 6.2 8.2-1.8 4.9-2.9-9.3-0.6-2.2 6.7 5-7-2.3 7.2-9.8 3.8 12.9-9.5-10.1 9.1 5.3 0.7 9.4-11.3 2.1 5.1-11.2 2.5-3.4 1.5 2.8-2 5.3-3.6-9.3 5.9 10.3-0.2-19.4 2.9 17.9-8.7-12.7 8.5 1.8-0.5 9.2-7.3 1 2.4-7.9-1.1 0.9 6.7 13.3-9-21.2 9.5 11.2-5-4.3-3.5 6.2 4.2-4.4 2.9 3.7-0.9-2.7-3-0.9 7.2 2.8-5.7 1.4-0.1-0.6-0.6 3.7-5-10.3 4.5 9.9-3.4-5.3 1.3 0.7 4.4 8.1-12.2-5.2 3.4-8.6 10.6 6.6-8.1 3.5 1.8 6.2-5.3-9.8 8.5-1.2-0.1-0.3-2.1 6.6-5.5-12.4 9.1 1.2 2.1-2.1-1.1 7.6 0.1 5.2-2.9-10.3-0.9 16-6.5-9.1-0.2-6 6.8 2.1 4.2-3.3-5.8 4.6-0.6-11.3 8.4 13.3-13.5 2.6-0.2-13.4 14.6-1-0.8 8.1-2.8-0.9-3.8-3.6-3.6-2.7 8.8 4.1-6.4-1.6 7-0.8-4.4 11.6 0.8-17.1 0.5 13.8-5.7-6.1 12.7-2.4-2.9 0.7-2 5.2-1.8 8.8-4.5-7.6-1.7 6.7-1.3 8.6-2.2-17.9 11.1-1.4-3.9 5-0.5-10.2 8.4 13.8-15.9-4.2 10.5 4-2.5-8.2-2.9 5.2-0.4-12.5 7.7 18.6-15-11.3 10-1.7-1.8 15.8-3.4-7.8 4.2 0.1-6.2-4.5 3.6 15.9-4.3-14.6 6.3-2.6 7.5 4.2-8.7-5.9 4.7 6.8-3.3-2.6-1.7 5.1-1.7 0.4 2.1 2.6 4.7 0-8.7-2.2 3.3-11.2 3.9 5.7-1.5-2.4-0.6 19-13.2-9.1 6.6-4.4 2.2-5.7 10.2 6.7-5.6 6.4-11.2-6 12.9-5.6 1.4 7.5-7.7-10 4.5 7.6-1.4-1.7 2.1-5.6-1.7 12.6-9.5-16.3 20.3 12.6-15.5-1.9 5.2-1.2-2.2-2.8 2 12.2-3.2-9.9 1.1-19.3 21 21.6-18-1.8 5.7 1.2-7.4 0.3-0.4-7.7 5.4 2.5-0.4 2.2 2.3-1.7-7.4 7.6 4.5 2.1-6.7-8.8 4-3.2 2.1 0.9 3.8 3-3.1 6.2-4.2-8.8 4.8 7-1.6-6.5 1.8-1.5-1.7 5.2-0.8 0.7-1.3 2.1-1.5-1 3.9-7.5 2.1-1.7-3.1-7.9 4.7 5-1.9 2.2-2.5 12.2-6.5-9.1 6.7 12.3-1.9-11.9 5.1 8-3.7-3.6-1.2-1.1-0.3-6.9 0.3 6.4-0.5 8.5-2.4-9.2 1.3-2.9 8.4-0.9-0.3 4.5-5.7-3 2 3 2.3-2.4-3.7 9.4-6.6-5.4 3.8-6.5 1.3 0.2 2.9 1.9-3.6 16.8-4.8-15 7.1-14.8 5.3 16.1-2.4 1.9-6.7-6.6 4.7 5-3.5 9.8-9.2-4 5.5 0.5 2.5-15.6 5 7.1-1.5 0.4-1.8 2.3 2.2 10.2-8.8-5.7-3.4-5.7 12.7 4.7-2.6-11.1 2.4 11.4-6.3-15.1 11.5 16-11.6-12.6 7.6 19.9-6.2-6.5-2.3-8.1 6.4 0.2 0.5-4.7 3.3 3.6 3.2-1.6-2 2.4 1.6 4.5-10.7-3.9 7.9 6.3-6.9-6.3 5.2-0.1-6.6 2.8 1.6-1 1.9-7.3 4 12.9-6.6-11.9 8.9 9.8-6.3-1.2-0.3-6-0.3 4.1 2.3-0.4-4.4 12.6-2.8-13 2.9-2.4 7.4 5.1-13.8 6.8 7.1-8.4 1.9 5.8-2.9 1.2-3.5-19.9 14.1 15.7-11.9-5 8.1-3.2-1.1 1.6-1.4 1.6-2-6.4 1.7 3.7-0.9-3.5 4.5 6.8-7.7 4.3 5.1-7.7-1.1 3.1-0.1 10-6-16.7 7.1 15.3-5.6-1.9-1.3-2.8 3.5 2.8-3-15 11.3 19.9-11.5-15.3 8.8 12.5-9.9 3.4 4.7-13.2 3 7.4-4.6-1.1-0.3-1.2 2.2-3.6-2.4 5.7 3.4-9.9 8.7-5.4-4.3 19.6-7.4-15.1 9-0.3-2 7.5-8.7-5.4 3.3 2.5 2.8 3.8 2.4 8.3-7.6-4.8 4.7-6.4-3.2 12.1-7.8-9.3 7.3 1 5.2 1.1-8.1-7.1 5.1-3 6.6 1.3-3.1 0.8-4 14.6-3.4-6.8-4.7-16.7 16.9 4.6-2.4 6.7-6.3 1.8 0.3 0.2 1.4-4.9-1.1 10.9-3.1-6 1.4-7 5.5 5.1-5 5.2-1.6 0.6-0.9-6.1 4.8-5.2 0.9 17.8-9.9-12.8 9.4 5.5 1-6.5 1.2 16.1-13.8-3.2 5.6-12.1 8.3 5.9-7-6.1 3.8 8.9 0.9-4.4-2.6 1 0.4 5-7.8-14.6 13 5.7-8.6-5.4 8.8 10.6-5.7-12.6 2.8 16.8-10.7-6.2 7.2-13.4 11.4 10.9-9.3-11.2 4.3 10.4-6.3-1.3 2.6-7.6 6.3 6.4-6.8 2-1.9 5.9-1.1-10.9 8.5 11.9-9.8-6.3 2.7-7.2 0.7 9 0.1-5.2 3.4 2-3 5.1-5.7 2.3 1.2 1.5 6-16.9 0.5 5.3-1.7 6-0.4-3.8-2.1 1 1.3-2.4 4.1-5.8 2.3 3-2-9 7.1 12.9-11.3 7.2 0.3-12.2 3.2 11.6-8-3.8 4.2-6.7 4.9 8.3-2.2 0.6-2.2-2.5 0-3.6 1.9 2.5-3.4 0.4 5.5 2.8-7.1-5.5 9.1 0.6-7.6-0.1 5.9 5.1-6.4 3.3-4.8-15.5 7.2 7 3.2-1.9 3.1 4.3-5.2 2-6.6 10 3.7-14.6 3.3 5.6-5.3-1.4 5.1-1.1-3.2-2.8 8.7-3.6-1.6 6.8-5.7 2.6-0.9-6.6 3 7.5-3.4-5.4 8.5 7.7-6.8-1.5 0.9-4.1 1.8-1.9-1.1 7.9-0.8-1.7-2.7-2.3 4.3-5.9 1.1 10.3-9.3-3.4 0.3-10.9 13.2 2.8-7.2 7.6-1.8 1.5 2-11 5.9 4.3-6.1 1.2 1.1 15.3-5.4-16.6 5.4 4.6 0.8-4.9 1.9 9.1-3.4-8.3 0.7 5.6 0.1-15 7.6 14.8-9-1.3-4 1.1 0.4-13.5 10.1 8.7-5 6.8-4.7-5.4 2.5 0.4 2.8-2.3-1.7 1.2 2.4-1.3-3.8 2.2 1.2 1.7-1.7-5 5.8-2.9-3.9 7.2-0.3 3.1-6.6-1.3 6.9 5.8-8.4-18.3 20.1 9.3-10.5 2.5 1.1-7.1 2.7 4.1-2 2.3-6.8 6-2.1-14.5 6.9 15.8-6-5.9 1.5 5.3 0.2-3.6 2.3-4.9 2.4 13.9-11.7-17.1 14.1 7-6.3-8 5 7.9-4.7-4.4 5.5 6.7-6.6 7.8-5.9-8.9 5-0.5-1.8-9.3 9.4-0.2 0.7-2.9 3.4 3.1-6-0.9 0.4 8.2-7.5 5.4 1.5-12.3 4.2 5.5 2.9-8.9 0.4 5.9-3.4 5.4-3.2 2.2 0.4-7.2 8.7 7.1-11.7-3 2.2 2.3 5.9 3.5-2.3-8.4 5.7-5.6-2.9 12.8-1.1 1.8-7.8 2.7 3.1-32.8 15.5 22.8-13.6-5.9 0.4-4.1 7.4 10.6-3.7-1.1-1.4 4.9-3-15.8 12 4.4-3.6 2.5-6 12.2-8.2 1.3-0.1-4.8 2.7 2.7 1.9-9.2 5.3 2.5-2.4 1.8-0.3-2.9 1-5.2 1.6 11.9-4.2 1.7-2.6-16.4 13.1 7.1-8.9 16.6-3.6-18.9 8.6 0-1.1 0.6 1.8-8.8-1 18-15.1-0.8 4.3-3.4 8.1 11.5-12.3-25.9 12.8 11-3.9 2-0.8-2.1 7.5 1.9-5.9 2.7 2.9-7-1 8.7-5.3 3.7-2.2-13.8 8.4-1.4-6.8-1 5.3-4.2 11.8 6.3-10.3 4.7 0.7 5.4-11.7-9.4 12.6-1-1.9 8.7-11.7-6.5 13 5.1-6.3-6.9 4.9-9.6 13.1 9.3-8.6-2.9-2.3 11.7-1.8-6.4-4.7 19.2-10.3-24.8 15.3 4.4-1.9 5 1.3 15.3-11.5-21.2 17 18.1-13.4-19.3 11.3 1.8-4.3 13.8-7.5-16 9.7-0.4 0.9 5.4-3.9 7.1-1.8-13.1 5 11.1-2.6-7.8 4.4-4.8 1.7 10.3-5.7 8-10.3-1.8 8.1-12.6 6-1 0.9 8.7-6.8 1.2-1.1-11.9 5 13.8-11.2-7.6 8.2 6.9 0.3-0.4-5.4 1.4-1-3.6 4.9-5.9-1.5-1.3 6.6 5.7-3 10.4-4.8-16.3 8.1-0.8 1.7-6.3 1 13.2-9.8-6.2 0.5 0.1 11.1 7.7-12.2-2.6 1.1-1 2.2-5.1 5.5 7.3-5.6-9.9 8 6.7-3.7 9.3-1.7-7.3-5.4-3.4 8.7-3.1-6.4 4 5-2.6 1.3 3.2-1.4-3.8-2.5-0.6 1.8 7.9-2-15.5 0.2 5.6 2.7 1.7-0.4-0.1-3.5-3.8 8.7 14.8-13.5 7.1-0.1 3.6-4.8-23.3 15.6 7.6-4-3.2 0.8 0.8-3.6 4.8-7-2.2 9.7-8.1 4.4 7.3-8.2 12.9-7.2-11.6 5.9 10.1-4.7-9.6 6.7 2.4-2.5 6.9-7-16.4 14.8 14.9-14.7-0.3 1.6-8.7 10.7 6.9-6.3-6.1 5.9 5.4-1.5-3.4 0.2-5.3 5 14.8-11.7-1-0.4-9.4 5.7 6.3-1.5-0.8 0.7-8.9 0.2 13.5-5.1-5.2 5-14 7.3-8.6 0.5 13.3-3.9 2.3-7.3 1.1 6.1-3.2-1.7-1.1 5.8 0-5.1 11.7-1.8-1.2 1.3-10.3 0.2 0.7 4 9.4-4.4-12.4 2.2 5.4-7 2.8 4.9-8 3.5 4.3-2 2.6 0-8.6-1.1 0.3 8.8 5.1-8.7-0.1 1.5 8.4-0.5-5.4 0.6 1.4-2.7-18.7 7.6 11.1 2 5.9-10.9 3.8 1.7-13.7 6.9 9.1-2.3 5.8-11.3-13.4 12.3-2.2 2.4 7.7-7.2 7.8-10.5-2.8 11.8 1.4-1.8 0.7-5.1-7.3 7.8 3.6-0.6-5.4 3.7 7.7-3-2.5-2.1 0.1-1.4-4.7 0.7 7.7-1.9-8.3 4.9 9.1-1.9 1.7-8.7-9.4 9.7 6.4-0.6-7.8 5.8 1.3-5.6 8.4-2.2-12.8 2.8 5.9 4.8-10.5-0.6 7.7-0.7 8.7-9-1.7-4 0.1 3.9-6.5 12.7 2.6-7.3 3.9-7.5-1.1 1 0.3 4.8 3.9-3.7-11.4 8.3 7.4-6.2 1.5 0.6-8.7 5.8 1.9-2.6 8.4-11.6-2.5 7-9.1 7.9 7.2-2.7 0.8 1.3-2.3-2.6 8.6-1.6-2.3-2.9 4.8 0.3-15.8 8 11.9-7.3-13.3 3.5 12-6.1 0.9 4 5.1-3.8-4.7 2.6-7.1 1.6 2.4-2.9 2.9-1.5-14.2 10.9 4.4-1.4 5.5-7.4 3.2 0-0.1-1.2-13.3 2.6 15.4-6.5-5.3 7.8 2.7-3.1 0.7 2.1-10.6-2.2 1.9 8.1 15.2-14.2-9.7 8.2 7.8-8.8-13.5 15.5 1.2-3.6 1 3.2 7.3-11.9-4.2 7.5-3.9 4.3 10.7-5.8-10.8 7-4.9 1.5 4.6-3.6-2.8-2.2-0.5-0.6 6.6 5-5.8 2.9 5.7-9.6-6.2 0.7 10.7 1-0.5-0.6-3.4-1.4-3 3.6 1.6-1.7-0.7 3.6 1-3.9 8.1-1.6 0.3-2.3 2.2-0.1-9.2 1.4 6.9-1.4-19.2 5.4 22.4-6.2-7-3.5-7.6 11.4 5.3-4.3 2.6 1.4-6 0.1 1.4 4.1-0.6-0.6 0.9-5.3-0.5 3.7-3.5 2.4 8-6.1-2.2-5 0.9 5 1.2-1.5 7.4-6.6-8.6 3.2-1.8 6.9-3.1 2.2 3.1-7.4 4.3-2.8-8.6 9.7 8.1-4.3-8.2 4.1-6 1.4 7-2.7 12.1-7.3-9.3 4-7.4 5 11.5-2.7 1.7-0.2-0.9 0.4-9.8 5.8 11.3-9.2-8.6 7.2 14.6-11.3-21.6 13.1 6.7 0 2.3-3.4-7.3 0.8 6.6-4-4.8 4.8 0.6 1 6.3-10.1-11.5 10.8 16.4-7.7-5.9 2.1-7.3 9.6 12.9-12.1-0.3-7.9-10.7 6.1 17.9 1.5-10.9-0.1-1.9-1.6 6.7 0.2-12 6.6 10.1-4.5-6.2 5.2 2.4-4.8 3.7 4.8-11.7 0.9 7.2-5.2-5.8 0.9 7.5 0.2-1-0.8-6.5 6 1.9-0.7 14-10.8 1.8 1.3-13.6 3.1 2.1-3.3 1.1 0.3-7.4 8.9 16-3.4-8.7-1.3-0.6 3.5 8-6.6-7.1 1.5-9 8.3 6.5-2.1-3.7-4.1-1.6 1.5 4.4 3.9-1.9-2.9 0.5 0.1 13-10-10.4 3.5 6.8 1.4-0.8-3 3.4-2.5-4.7 10.2-0.7 0.6-1.5-5.7-9.8 4.9 5.5 0.8 8.7-10.4-1.1 5-7.2 0.5 0.1 5 4.6-5.4-9.9 11.7 4-2.9 16.7-9.3-10.4 1-2.6-0.9-4.3 4.3 2.9-2-4.6 2.2 9-2.9-0.3 0.4-3.5-0.1 8.8-7.2-3.3 6.1-14.7 4.6 14.3-6 5.2-7.1-9.5 9.4 9.2-1.7-7.1 0.1-5.7 5.8 1.2-0.3 1.8 0.8-8 0.2 8.6-3.8-6.3 0 16.8-5.8-9.6 5.6-7.1 4.6-1.3 0.1 13.2-12.1-3.2 11.4-11.2-1.5 4.8-1.1 4.6-3.3 0.2 2.2 8.1-12.9-3.6 14.9-9.1-1.8-7.9 6.9 14.7-10.3-0.9 0.1-0.3 6.4 6.9-2.9-6.4 1.4-4-8.3 15-2-18.3 14.5 9.4-12.1 3.8 4.7-10.4 5 16.6-17.6-24 18.7 12-8-10.3 4-0.3 0.8 10.2-0.3-0.8 3.8 3.8-4.8-3.6 1.2-0.8 4.7 0-1.1-4.6-1 5.5-5.6 6.4-1.2-11.3-0.6 0.9 1.8 2.7-0.5-10.5 8.2 3 5.8 5.5-10.7 5.9-7.8 4.1 1-3.9-2.2-2.4 8.6-0.2 6 0.9-4.3-3.4 2.6 0.6-6 2.3-2-2.3 5.1-10.1 2.9 16.5-15.1 8.9 1.7-20.3 10.2-2.4-0.9 14.1-6.9-13.3 13.5 1.1-4.5 8.5-6.4 10.2-8.6-8.2 4.6-10.7 13.7 18.2-15.3-16.5 12.3 8-6.3-12.5 8.2 10.5-10.1 0.2 1.5-8.5 9.5-0.3-0.7 12.9-9-0.8 1.8-6.4 10 0.2-9.6 5.2 1.1-12.2 0.3-1.1 7.4 8.9-8.5-1-1 4.1-0.4-7.9 4.6-2.4-3.1 3.1 3.6 3.8-3.2 9.1-3.5-7.1 4.1-3.6 4.7 9.3-11.9-5.6 11.8 4.4-7.5 4.1-3.3 0.6-1.5-14.9 9-0.1 3.4 0.4 0.5 7.7-2.7 3.7-5.4-14.3 7.6 4.6-2.7 0.3-1.4-1.9 0.8 7.1-3.4 10-1.1-17.3 2.2 0.3 2.2-1 1.1 1.4-4.3 9.7 1.8-10.7 0.1 13-3.3-6.4 7.7-9.2-1.2 5.6-1.8 2.3-6.7-1.7 5.8-7.3 1.5 10.9-2.9-10.3 1.1 3.8 0.3 6.6-5.2 1.1 1.2-0.6 3.3-6.7 4.5 10.9-11.8-8.2 11.2 16.4-14.1-19.2 14.4-1 0.9 5.4-0.8 3.6-8.7-14 5.3 11.3-1.4-9.2 2.9 4.9-4.5 6.1-4.2 3.2 4.9-11 5.4 2.6-8.3 2.1-0.3-6.1 4.2 2.1 1.7 4.5 1-0.3-4.7 1 3.5 15.5-12.2-20.3 13.5 2.9 0.2 5.7-8.1-4.3 1.5-16.1 11.4 13.7-6.7 7.2-4.2-8 0.5-3.2 3.6 3.9-4 9.1-1.6-4.6 4.8-9.8-0.1 2.8 6.7-4.8-2.4 10.3-5.8 4.3-4-2.6 4.4 4.3-5.1-10.2 7.4 13.3-7.6-18 12.2 13.2-10.5-7.9 3.8 0.1 1.2-2.4 5 1-4.4 5.7-6.4-6.9 8.4 7.7-1.7-6.1 3.5-9.4-0.1 16.4-6.3-6.1 6.8 2.5-3.3 5.3-11.8 1.5 2-13.9 9.1 7.9 0.9 4.3-6.3-8 4.4-4.1 8.1 13.3-12.5 5.3-3.6-6.7 7.9-5.9 5.1-6.5-1.8 0.5-3.6 1.9-0.7 2.2 2.6-3.4 2.3 1.3-1.2 10.1-3.4-7.6 1.5 0.4-3.1 3.5 4.5 2.7-10.5-0.2-0.6-2.6 10.7-8.9 7 16.2-11.4-6.8-1.7-3.2 6.7 7.9-6.7-3.8 6-3.8 2.2 11.9-12.7-1.5 0.4-27.3 17.6 25-15.2-9.6 5.1 13.4-5.1-17 12.9 12.1-4-8.6 0.9 1.8-3.4 0.1-0.3 4.6-0.4-12.3 1.8 3.6-0.2 5.8-1.6-7 4 4.8-6.1-4 10.4 5.4-7.1-7.8 5.5-1.8 2.3 7.5-6.4 10.2-6.3-1.9 4.5-0.3-6.4-3.5 5.2-4.3-0.1 6 0.4-9.8 7.3 1.8-10.1-1.5 7.2 12-8.6-4 5.2-7.1 1.1 4.7 0 3.4-6.2-5.5 4.1-0.2-3.3 4.3 1.9-3.2 2.4 12.4-11.6-8.6 11.5-5.4 5.1-0.4-1.5 16-14.3-12.1 10.3-6.3 6.4-5.4 0.8 14.3-9.1 10.1-9.3-10.2 9.1-3.8 5.4 6.1-9.1-7.7 7.4-1.5-1.9 0-0.9-0.4 3.2-5.4 2.7 10.1-5.1 11.7-7.2-23.1 11 3.5 0.9 9.9-5.7-5.1 2.6 3 1.9-2.9-8.8 7 5.5-2.6 2 1.4-3.9-3.1-5.7-2.8 12.2 6.2-9.1-1.8 7.5-8 3.1 13-14.2-12.7 8.9 8.7-3.6-5.2 7.7 8.3-8.4-16.3 8.6 5-6.7 1 1.6 0.4 3.5 15.4-12.3-23.5 11.9 6.9 0.5 2.1-1.5 9.7-7.6-7.4 5.4-5.6 3.6 7.5-3-5.5 2.9-1.7-4.7 15.8-8.6-16 11.4 6.2 1.3-1.8-6.2-8.5 13.8 5.8-14.2-3.1 12.1-6.4 2.4 13.4-14.5 0.3 6.7 1.1-6.7-13.8 11.3 20.2-16.8 0 4.5-13.2 10.2 8.5-4.6-6.2 0.6 5.4-5.7-1.4 3.3-1.3-0.2 2.7 3.2-6.3 1.9-4.3-3.4 7.2 4.1 3.4-7.9-6.2 2.3 3.4-0.3-8.1 2.3 9.2-0.4-0.1-7-2.1 4.5-6.1 3.4 18.1-5.2-6.6 2.2-10.2 3.4 12.7-4-5.9 6.3 4-4.4-4.7 2.6-9.1 4.6 5.7-6.8 15.9-10.2-5.3 4.1-4.9 6.7-5 1.6-2.8 3.7 4.9-1.2 3.1-10.5 4.6 1 2-4.9-20.6 10.6 8.2 3.4 6.3-6.1-8.3 2.8 10.4-3.4-12.2 1 14.7 3.9-10 1.3 10.1-11.2-8.3 8-3.6 0.6 5-8.2-4.2 8.3 22.9-16-18.6 9.7 0.1 6.6-9.4 7.7 14.7-12.7 2.5 2.6-13.7 5.5-0.7-3.3 13.2-0.9 1.6-5.9-17.3 12.3 0.6-4 8.8-8.2 8.7-1.9-18 11.6 9.4-4.1 7.4-9.4-11.8 7.1 7.6-4.6 0.1 1.7-4.9 1.6-5.4 9.6 9.6-8.8-3.6-1.4 6.3-0.6-14.8 7.6 14-4.5 8.6-8.2-16.2 7.7-7.3 6.6 11.2-5.3-12.9 4.4 10.7-4.5 5.5 0.9-2.9-2.1 5.1-4-10.1 7.8 4.4-3.4 2.1-1.2-8.8-1.8 1 3.2 4.6-3.5-1.6 1.4-1.9 1.5 3.6 6.8-0.8-4.7 0.9-0.8 1.4-3-14.3 9 7.9-3.2 1.9 0.4 7.9-7.5 1.2 4-9.8 4.6-5.2-5.8 9.6 8.4-2.2-9.2-4.9 7 0.4 1.6 1.2-6.2 4.5-3.6 8.5 2.1-5.8-3.9-6 14.6-4.1-0.4 14.3-13.9-15.2 14.5 7.3-4.5-4-1.9 6.5-9.5 0.3 8.4-0.8-0.4-2.7-6.2-3.5 12.5 3.2-8.5-2.5-0.2 9.2-5.2-9 12.4 2.2 0.2 22-16.4-19.9 10.5 4.5-4.7-4.5 5.8-2.3-0.7 0.1 0.3-7.5 4.9 0.4 0.3 1.2-5.1 3.6-1.5 4-0.1-4.3 5.7 1-4.9 0.4 6.4 7.1-4.8-11.1-1.2 6.3-0.3 0.7 0.8-9.9 3.5 12 0.8-14.5-4.3 23.2-9.1-14.9 10.6 2.1-3.4-8.4 6.1 8.8-8.5 8-1.5-4.5 7.2-6.2-3.7 6.8-0.6 0.6 2.4 4.9-2.1-14.7 4.6 15.1-6.2-10.5-1.3 10.7 1.3-8.7-1.2 0.6 6.4 8.9-5.5-14 6.2 2.6-3.1-3.5 4.4 11.3-8.2-0.7-0.6 3.9-2.7-16.5 10.8 10.5-2-8.3 2.8 8.5-7.9-4.7 7.8-8 1.3 21-14.2-5.5 4.8 3.8-4 0 3.4-4.5 2.5-1.4 5.7 0.2-6.6-0.4 7-5.3-6.4-10.6 10.9 15.9-9.9-4.4-5-1.9 11.5 5.5-7.3-4.4-1.3-3.6 10.7 10.9-8.5-12.2 3 14.2-6.6-1.7 0.8-5 1-4.2 8 1.7-8.6 4.6 3.7-9.4 2.1 6.7 0.6-0.5 4.4-3.4-1.1 10.3-14.4-5.7 9.4-3.2-0.8-1.1 4.5 13.1-6.9-18.2 3.7 14.9-12.8 0.3 5-19.3 13.7 7.1-7.3 15.7-7.3-10.1 6.3-4.2 3.8 7.7-5.8-7.6 1.7 8.1 2.6-7.7 2.2 7.3-8.6 3.1 3.5-4.3-3.3-10.9 4.4 4.7 3.1-2-1.8 18.7-14.1-18.6 19.7 4.8-7.1-8.6 7.5 18-9.6-18.8 5.9 8.3-0.2 2.7-3.6-3 5.3 12.5-10.9-9.4 5.9 5.7-2.8-6.7 2.2-0.9-2.6 5.8-2.6-4.3 3.3-5 4.6-1.9 1.9 15.3-10.6-6.4 7.5-1.9-3 1.5-1.1 5.8-2.5-7.1 4.3-8.3 4.6 1.1 4.8 5.9-7.3-7 9 13.4-12.3 1.4-3.4-18.1 17.6 6.4-10.3-1.5 4.1 21.7-12.2-19.2 12.2 9.7-12.2 4.4-0.2-11.2 8 0.9-2.1 5.7-4.6-21.4 16.5 8.8-12.5 5.8 6.6-8.9 5.5 2.4-2.4 8-6-4.3-3-11 11.5 20.4-4.9-3.9-9.7 2.4 5.5-9 0.2-8.4 2.2 7.9-1.2 3.4 1.6-2.3-3.6-2 5.3 3.8-3.2-3.7 4.4-3.6-1.6 14.2-7.4-8.5 5.2-3.6 2.8 9.9-6.5-5.5-1.3-3.9 4.5 5.6 0.8 7.6-4.3-12.3 7.3 8.3-5.4 4.6-5.1-5.7 1.8 5.9 0.9-15.4 8.8 6.6-5.7 12.5-10-9.1 7.6 3.8-7.6-8.8 7.1 5.1-0.7-0.4-4.4 6.1 1.6-9.5 3.3 7.7-3.9-10.5 10.2-5.1-1.5 3.7 2.1 5.4-6.3-0.6 3.8-4.2 3.8 6.5-1.7 1.7-2.4 2.1-5.9-5.6-1-6.8 11.4 6.8-1.6 6.2-10.3 0.4-0.9-13.1 8.1 7.4-1.4-4.4 2.4-1-1.7-0.4-3.6 5.9-0.2-0.8 1.2-2.5 4.3-4.2 0.7 2.3-0.8 18.4-14.4-12.7 9 11.5-6.3-2.9 3.3-6.5-0.4-4.8 1.3-6.5 11.3 9.4-8.3 11.4-3.8-18.8 11.7 4.2-3.7 8.9-8.4-5.8 7.5 5.3-5.5-7.8 2.8 0.2-4.9-2.7 3.6 2.1 4.2 4.1 3.3 2.1-5.6-5.5 0.1-11.1 8.6 12.6-8.1 6.8-7.9-8.5 9.3-8.1 2.2 6.8-3.7-4.7 7.7 16-9.5-7.3 1.6-1.7-3.3-1.7 4.9 3.1-6.3 0.6 8 3.6-11.1-2.5 4-13.9 6.1 5.2 3 3.4-5.6 3.3-4.4-4.7 3.4-5 3.1 1.7-0.7 4.7-0.6 7.9-9.4-13.2 10.4 3.3 0.7 7-2-2.3-0.8 4.4 3.3-1.3-2.4 0.8-1.3 5.1 1.4-12.2-0.3 13.2-3-12 1.2-2.4 1.1 2.2 3.7 5-8 1.4-1.9-8.8 10.1 7.3-8.4 1 5.6-5.4 7.4 3.6-5 2.2-5.6 4.4-5.5-7.8 5.6-2.4 4.6-4.3-4.5 3.8 6.7 4.9-12.7-8.4 9.7 3.3-1.5-1.4 3.3 5.4-3.6 3.2-0.4 0.9-5 4.6 2.4-13.6 1.7-0.5 5.7 7.8-10.7 0.2 7.3-4.6-2.8-0.8 2.2 4.8 0.5-9.2 3.1 2.3-1.6 3.2-0.7-0.5-6.6 3.3 2.9-6.1 2.6 2.6-2.3 1.5 0.8 2.3-4.6-0.2 2.8-5.9 8 7.1-7.4 9.8-3.9-22.2 12.9 10.8-10.4-5.8 3.9-6.7 3.1 10.8-6.1 6.7 0.4-14.8 6.9 8.4-3.7 7.1-2.6-13.3 1.1 6.4-1.9-2.9-0.7-5.9 11.1 13-10.2-7.6 5.6 6.7-7.1-12.6 9.3-0.4 0.3 6.3-0.3 9.1-17.4-4.7 11.1 2.1 1.2-9.3 0.3-4.4 5.8-1.3 2.2 5-3.5 4.1-9.5 11.3-2.6-18.9 14.7-5.8-2.8 19.1-8.3 0.9-2.5-4.4 5.3-6.9 5.8 10.3-12.6-8.6 13.4 17.6-17.2-14.7 12.6-4.1 1 2.9 2.7 19.3-11.8-13.6 4-1.6-0.2-6.7 9.7 8.3-5.3-3.4 0.4 7.1-8.8-11.7 10.3 12.5-10.1-11.5 13.3-0.9-1.9 7.8-2-1.7-2.1-9.6 8.9 2.2 0.4 0.8-5 10.8-4.7-1.7-7.2 0.6 3.9-3.3 0.5 0.6-2.1-6.5 6 6.2-1-3.4 1.2 0.1 2.3 10.8-14-9.2 10.1 6.3-4.7-10.9 11.2 2.2-5.9-1.2 2.4 1.7-0.2-0.9-4.2 5.1 0.8-2.8-0.9-2.6 4 13.8-6.5-13.5 9.3 8.9-9.4-9 6.9-3.1 1.4 12.4-10.6-12.2 15.2 0.3-4.9 8.2-6.7-3.6 5.8-7.1 1.2 10.3-1.9 3.3-11.1-3.8 4.6-1.5 1.9 2.8 0.1-6.7 3.7 8.6-5.4-4.1 6-9.9 3.3 6 0.7 3.8-5.1 0-0.8-2.5-1-4.2 5.2 7.6-5-7.6 3.9-5.1 3.9 8.4-3.5 12.4-5.5-4.1-2.9-8.1 2.1 9.7 1.2-5.7-3-4.3 9 8-6.5-6.1 2.8-0.7 0.1 3.2-6.5-4.5 12 4.5-8.8 7.8-0.8-3-2.5-6.7 5.8 4.8-7.6-12 13.1 8.3-12.2-4.8 7.6 14-2.1-9.7 1.2-0.1-3 2.6 2.5-9.1 3.7-10.4 8.5 10.9-10.5 6.1-0.5 7.6-8-7.1 8.5 3.3-3.8-5.4 1.2 1.1-0.6 4.6-0.8-7.3 1.1 9.1-2.2 6.6-2.2-3.1 3.2-16.5 2.8 12.8-3.3 0.7 2.3 2.8 0.1-11.6-0.9 8.7-4.9-3.7 5.6-1.9 6 5.5-9.1-6.9 4.8-7.1 5.6 11.2-2.6-14.5-3.6 8.1 3.6 2.4-6.5-11.5 11.1 9.4-4 1.9-0.3-5.6-1-0.7-0.9-1.8 5.7 3.4-5-0.2 0.1 9.1-3.3-3.5 2.3 9.2-2.2-5-2.6-2.9 0.2 2.1-0.8-5.7 7.2 14.8-7.1-7.4-1.3-7.7 2.6 2.7 3.7-0.9-1.3-5 4 10.5-8.4-8.7 10.7 7.8-7.1-0.7 1.3-6.1-2.5 7.3 1.5 3 1.8-14.1 4.1-4.9 2.5 8.5-6.6 6.9-4.2-2.4 0.7 1 0.4 0.3 1.1 3.9-8.1-11.8 12.8 4.4-3.4 15.5-9.8-23 14.9-0.9-1 6.6-0.3 2.2-5.1 0.3-3.5-2.1 2.9 6.9-1.4 2.5-6.1-5 11.3-7.8 4.1 2.4-6.9 1-1 4.9-0.3-7.9 6 14.1-7.6-5.9 4.7 6.9-4.4-14.1 3.6 0.2 0.2 19.3-12.6-27.3 19.6 7.7-9.7 1.1 0.2-0.3 4.5-2.6 1.8 12.2-8-6.4 8.3-2.2-0.4 3.1-6.6-2.3 2.7-5.5 3.6-0.5 2.5 6.8-8.6 5.5-1.3-7.5-1.2 7.2 3 0.6 0.9-11.2 3.1 12.4-4.1-5.2 0.2 10.4-9.6-8.9 6.7-7.5 5.6 5.6-1.2-13.5 7.2 10.4-3.8 5.3-4.2-1.1-2.4 2.6-0.8-8.2 3.4-1.8 3.2 1.7-0.7-1 4.4 11.8-15.7-12.8 13.6-0.4 2 17.8-13.1-13.7 8.6 6-3.9-3.8-2.2-3.4 6.6 5-0.8 6.5-5.7-8.8 8.4-8.7 6.2-5.2-2.8 7.6-2.5 3.8-6.1 8.3-1.1-1-4.5 2.9 1.5-0.6 0.3 4.8-0.8-13.4 4.1 2.4-0.8-14.8 10.5 12.9-10.3 7.7-8.7-9.8 8.2 8.7 0.7-6.1 1.3 3.3-0.4-7 1.7 6-3.8-7.1 5.5 8.9-1.9-6 5.2-1.8-5.4 12.7-1.4-12.8 5 9.7-3.9-0.2-3.7-11.2 5.2-0.9 0.3 0.6-0.7 13.6-1-10-2.9 5.6 2.6 6.4-8.2-9.7 12.2 8.4-6.9-6.7 4.6-2-0.5-5.6 4.9 3.7-0.5 15.9-16.8-12 9.1-6.4 3.9 9.7-12.2 0 7.8 0.3-1.2 3.6 4.5-18.9 6.1 0.9-0.4 6.1-8.6 6.2 2.1-1.9 0.7 5.5-2.4-14 5.3 13.2-9.3-17.2 14.8 12.9-9.4 0.3-4.8 1.3 1.4 3.4 3.9-5-0.5-1.5-1.2-7 6.7 9.4-3.6-4.9-3.2 4.3-0.3-3.7 6.6-7.3-1.4 19-6.3-21.1 9 10.3-4.1 8.7-8.9 3.2 3.9-22.4 7.6 15.3-9.4-8.4 4.9 7.5-1.6 0.3-2.9 4.4 3.5-19.6 6.5 9 0.2 6.5-9.5 1.8 2.8 4.1-7.1-5.8 2.2 4 0.6-2.8-2.8-0.4 3.8-10.2 12 20-11.9-12.6 0.7-4.6 4 1.6-0.4-3.6-0.2 7.2 2.6-10.3 6.1 13.2-13.6-9.7 10.3 8.9-12.8-4.9 12.7 5.5-7.1 5.4-1-5.6 3.1-5.7-2.7 3 2.2-2.3 1.8 1 1.4 10-13.6-17.2 14.7 1-3.1 4.6 2.7 1-3.9 7.1 1.9-7.3-1.2 4.8-7.4-8.5 13.6 6.6-8.1-1 0.5-6.9 5.4 6.8-1.6-3.1-1.3-3.3-0.7 1.5 3.9 11-5.5-16.9-3.2 16 1.6-1.1-2.9-1.8 2.8 3.2 4.2-13.1 7.9 11.2-4.9 2.3-3.7-4.5-7.9 3.6-0.5-1 5.6-3.9 4.4-3.4 0.6-0.2 1.9 7.3 1-4.1-2.4 8.7-7.4-13.5 4.1 1.5 7.5-2.5-7.2 21-6.9-18.2 1.3-7.3 6.5 18.6-7.2-8.8 8.9-0.3-6.2-4.9 4.1 9.3-3.1-1.4-3.5-7.5 8.2 2.7-6.4-4.4 11.4 13.9-14.2-11.4 12.8-2.1-4.2 0.6 2.2-0.3 0.5 7.1-4.5-4.9 2.3 7.3-5.1-0.4 1.1 1-6.6 4.1 3.1-13.2 6.6 5.7-1.2-7.3 1.7 1.7-6.1 9.2 2.5-1.6 0.7-6.1 4.4 4-8.4-0.2 4.9 3.1-1.8-17.4 11.7 7.1-8 14-3.7-15.3 9.9 3.8-8.6 3 2.3-1 4.3-1.6-6.9 " fill="none" stroke="none" marker-start="url(#dm2)" marker-mid="url(#dm2)" marker-end="url(#dm2)" clip-path="url(#cpE)"/><marker id="dm3" markerUnits="userSpaceOnUse" markerWidth="0.6" markerHeight="0.6" refX="0" refY="0" overflow="visible"><rect width="0.6" height="0.6" fill="#222" fill-opacity="0.8"/></marker><path d="M550.7 103.5l-4.3-2.7-3.1 8.1-5.7 2.2-3 3.4-6.4-2.2 9.3-11.7-0.9 8.3 9.9-10 1 5.1-7.9 2 8.7-4-10.8 4.1 3 3.9 5.7-7.7-10 4.7-1.5 8.5 5.5-5.6 1.8-5.8-10.9 9.1 11-5.7 12.5-5.6-9.3 1.1-7.8 6.7 7.1-8.8-3.4 4.1-10.1 10.4 10.8-11.2 4.7-1.3-14.5 10 11.6-8.3-4.1 0.4 2.7-2.1 3.8 2.9-14.4 8 1.2-2.6 17.1-9.1-4.4 2.8 4-5.9-1 2.8-9.2 6.7 5.9-8.3-10.8 10.3 8.5-4.2 2.3-6.1 2.3-1.2 3.7-2.1 1.2 2.3-13.1 6.6-3.3 4.7 14.5-9.7-17.5 14.1 17-18.8-5.2 7.5 0.6-1.5-13.4 11.3 15.6-10.1-4.5 5.2 2.8-5.3-0.1-2.5-13.9 7.7 9.3-5.4 7.8-1.8-15.8 11.3-2.9 2.1 7.8-11.6 1.9 10.2-2.6-6.4-8.6 3.8 2.7 3.8 0.9-7.7 5.3 4.4 3.8-6.1 6.4-8.7 0.7-1.4-18.7 19.2 2.9-3.3 11.4-8.8 7.8-4.1-20.4 11.4 17.7-10.1-6.8 7.6-7.2 3.7 0.1-0.1 13.2-12.9-6.4 8.5 4.8-7-17.9 11.1 8.5 3.7-8.2-3 17.5-10.8-3.6 3.9-4.4-0.4 4.4 0.9 1.3-1.3-9 8 1.7 1.9 5-13.4-6.7 12.8 2.2-1.9-0.7-2 13.8-10.6-12.8 5.3-7.2 12.2 9.2-10 4-2-0.4-0.2-0.5 0.9-12.7 8.1 12.2-5.3 0-1.2-11.7 7.4 2 5.8 1.9-3.2-2.2-2.1 13.6-15.1 0.6 2.1-8.1 6.2-7.3 5.2 3.1 0.9 5.4-5.1 3.7-3.1-0.9-2 8.4 1.8-9.2 0.3 8.3-3.1 0.3 0.2-3.9-0.5 0.3-1.1-12.6 10.9-2.3-8.6 19.9-4.2-17.9 19.8-2.9-4.6 3.3-2.8 14.6-14.2-2.6 5.1-16.7 10.7 16.1-11.5-15.1 13.4 18.6-16.3-5 7.2-10.7 6.8-1.3-5.2 14.5-5.8 0.3 4-7 0.3-0.4 4 1.8 2.3-1-7.3-1.6 0.9 10.9-3.5-8.8 10.4-10-2.9 1.5 5.4-0.4-3 18-13-3-1.1-3.6 1.6 2.9 2.8-3.4 5.5 6.7-6.9-17.9 13.6 2.3-6.1-0.8-2.1 17.6-6.2-12.1 5.3 0.7 2.9 4.8 0 5.9-8.2-10.7 4.8-0.6 1.4-5.7 6.9 3.1-2-3.9-2.2 1.8 1 4.9-3.6-6.2 6.9 7.8-2.8-9.6 4.8 12.1-7.5-0.7-2.4-7.3 5.3-4.7 2.9 0.4-1.3 3.3 2.6 10.3-11.4-13.4 12.9 11.4-10.6 1.8 2.1 0.1-6-5.3 10.6 5.7-12-15.5 13.5 6.8-7.8 7.3-4.1 4.2-2-9.7 13.6-1.3-5.7-3.2 2.2 5.1-2.2-6.5 6.8 13.4-13.3 3.6-0.4-18.2 13.3 2.2-5.6 13.8-7.5-11.8 7.1-0.1 4.8 15.6-12.4-4 0.6-9.7 11.9-4.9 0.6 15.9-11.7-3.6 2.3-11.2 4.5 12.3-5.8 7.6-2-11.9 1.7-9.6 12.3 4.4-4.4-3 6.3 3.7-2.2 14-16.8-14.1 9.5 7.2 1.4 4.8-6.8-17.6 10.5 3.1-0.8-1.7-2.2 21.8-8.6-3.7-4.1-16.8 17 15.5-17.8-6.5 11.6-8.4 4 4.4-6.1 5.7-0.3 2.4-2.8-4.9 2.5-1 3.1 4.1-5.2 5.4-4.1-7.7 7.9 0-1.3-12.1 7.6 17.5-13.4-0.7 0.3-13.2 15.8 1.6 2.8 17.5-16.2-6.1-4.3-1.3-2.2-15.3 17.7 10.7-7.8-6 6.8 6.3-6.6-9.8 9.3 16.6-10.4 2.8-6.7-9.3 8.1-6.9 3.5 13.2-13.4 0.3 1.5 1.5 2.4-7 7.3-8.1 3.2 16.7-11.5-4.3-2-8.7 13.3-3.1 2.7-0.2-5.9 2.4 0.3 13.6-7.6-8.8 6.3-10.8 9.7 5.6-9.7-1.1 7.2-7-1.8 12.4-2.2-6.2-1 8.1-2.2-11.8 2.7 8.8-0.1 0.2-0.4-2.2 1-0.5-0.8-0.7 1.6 2.7 3.3-2.5-6.5 5.9-0.3-9.5 7 6.9-8.8-5.5 6.9 6.8-6 6-5.2-4.2 4-3.2 4.5-11.3 4 15.2-10.1 3.3-4.1-13.7 11.5-2.3 3.5 1.1 0 6-2.5-7.4 0.2 10.7-9.6-4.4 6.2 12-5.1-3.7-5.3 0.1 3.7-2.7-0.6-5.6 12.7-4.2 1-0.4-5.4 3.4 2.5-4.9 0.2 5-0.7-5.8 0.4-1.2 2.4 20.5-15.1-9.4 12 11.2-11.9-6.2 1.5-13 9.3-3 3.7 6.4-8.6-2.1 1.4 8.5-1.5-5.7 10.5 13.2-15.4-16.9 18.1 12.2-15.3 1.5-3.4-13.4 14.1 19-13.5-8.8 7.9 0.4-3.7-6.4 5.2-5.1 1 5.1-7.5-0.5 8.2 4.5 1.1-10.7 4.7 2-2.4 5.9-7 1.9-0.8-7.2 0.7-4 6.5 3.4-3.2 13.4-9.8 1.6 2-4.6 3.4-3.9 1.3 2.8 1.5-12.8 2 8.9 0.8 0.1-2.8-3.2 3.2 0.3-2.1 4.3-1 1.6-5.1-0.3 4.2-6.2 2.6 8.6-14.3-1.1 10.6-0.9 0.9-11 4.2 13.9-13.4 3.7 2.2-8.2 11.7 4.9-8.4 5-2.5-3.3-2.3-6.7 12.4-9.5 1.6 7-3.3 14.7-8.9-4.2 5.6-14.8 6.4-2 3 6.2-10.6 4.7 3.1-2.4-5.9-7.2 10.7-0.3-5.2 6.6 4.9 15.1-10.8-9.8 3.2-11.3 7.3 16.3-17.3-4.8 8.6-2.3-0.4 2.4 5.3-4.4-2.8-6.4 6.6 12.8-6.6-11.8 7.8 7.9-10.4-13.1 8.5 19.4-10.3-8.2 3.6-6.3-1.1 6 4.3-5.1 3.4 1.7-3.7 6.1-5.1 0.7 4.7-9.8 3.2 5.1-4.5-1.9 3.9 12.1-7.6-9.5 2.8 11.7-6-17.9 14.9 6.9-12.7 11.1-4.2-20.8 15 2.9 1 8.7-10.7-10.3 12 4.6-7.2 0.1-0.1 0.2 1.8 13.6-9.3-14 8.8 1.8-1.2 11.6-10.3-19.3 17 2.3 1.5 11.9-13.4 3.9-0.1-10.3 6.8-2.4-1.4 14.5-5.8-15.3 4.7 13.7-4.5-5.8 5.1-1.8 1.4 0.1-3.1-7.1 9.1 13.6-8.8-16.7 5.2 1.3-1.8 18.6-11.8-19.4 16.2 6.1-3.2-5.4 2.5 11.2-11.4-11.5 7.6 " fill="none" stroke="none" marker-start="url(#dm3)" marker-mid="url(#dm3)" marker-end="url(#dm3)" clip-path="url(#cpE)"/><marker id="dm4" markerUnits="userSpaceOnUse" markerWidth="0.6" markerHeight="0.6" refX="0" refY="0" overflow="visible"><rect width="0.6" height="0.6" fill="#333" fill-opacity="0.7"/></marker><path d="M535.8 100.8l9.7-4.1-18.7 9.9 19.4-14.4-9.1 12.8 2.9-13.2 16.3 4.3-8.2 6.6-0.4-5.9-24.4 4.2 33.8 7.3-30.3-3.4 11.1-3.6 1.9 5-2.5-7.7-11.8-3.4 13.8 0.6-2.7-6.6 16 18.3-26.5-14.3-10.5 9.9 9.5-15-7.6 16.9 27.6-12.7 5.8 19.5 2.9-3.9-22.6-1.2-11.7-8 22.6 7.4-6.3-8.1 5.3 9.5 0.9-16.4 11.8 6.6-10.9 0.2 1.1 9.8-21.1-6.5 17-4.6-15.8 13.8 6.5-3.8 24.9-4.1-21.4-8.5 21.5 14.6 3.9-10.6-4.8 4.4-15.1-3.3 9.8 11.2-33.9-6.1 11.4 5.3 32.8-3.5-37.5-15.1 34.2 2.1-38.9-0.5 36.6 10.3 3.9-2.7-39.5 0.2-1.2-10.7 23.6 1.1-10.2 17.5 21.8-0.5-15.7-17.7 0.3 21.5-16.4-15.4 0.1-3.9 32 0.8-34.7 7.7 28.2-4.5-26.4-3.4 13.9-0.7 9.4 18-19.9-8.9 " fill="none" stroke="none" marker-start="url(#dm4)" marker-mid="url(#dm4)" marker-end="url(#dm4)" clip-path="url(#cpE)"/><marker id="dm5" markerUnits="userSpaceOnUse" markerWidth="0.6" markerHeight="0.6" refX="0" refY="0" overflow="visible"><rect width="0.6" height="0.6" fill="#e03030" fill-opacity="0.7"/></marker><path d="M572.6 95.9l-41.7-0.9 12.6 3.7 3.4-10.7 22.1 2-13.8 9 17.3-2.7-37.7-4.1 30.2 2.2-40.2-7.6 22.4 8.3 12.1-10.3-38.4 10.9 35.1-10.4-13.6 6.9 4.7 4-23.6-1.4 15.8-6 5.8-3.3 5.4 2.8 7.3 10.9 11.3-3.4-40.4-0.9 14.4-12.8 23.4 13.7 " fill="none" stroke="none" marker-start="url(#dm5)" marker-mid="url(#dm5)" marker-end="url(#dm5)" clip-path="url(#cpE)"/><line x1="535.00" y1="24.20" x2="535.00" y2="163.00" stroke="#7a7a7a" stroke-width="1"/><line x1="471.00" y1="92.50" x2="609.70" y2="92.50" stroke="#7a7a7a" stroke-width="1"/><rect x="471" y="24.2" width="138.70000000000005" height="138.8" fill="none" stroke="#555" stroke-width="0.8"/><line x1="467.50" y1="153.40" x2="471.00" y2="153.40" stroke="#000" stroke-width="1"/><line x1="467.50" y1="131.30" x2="471.00" y2="131.30" stroke="#000" stroke-width="1"/><line x1="467.50" y1="108.20" x2="471.00" y2="108.20" stroke="#000" stroke-width="1"/><line x1="467.50" y1="70.20" x2="471.00" y2="70.20" stroke="#000" stroke-width="1"/><line x1="467.50" y1="36.30" x2="471.00" y2="36.30" stroke="#000" stroke-width="1"/><line x1="469.20" y1="96.76" x2="471.00" y2="96.76" stroke="#000" stroke-width="0.6"/><line x1="469.20" y1="90.07" x2="471.00" y2="90.07" stroke="#000" stroke-width="0.6"/><line x1="469.20" y1="85.32" x2="471.00" y2="85.32" stroke="#000" stroke-width="0.6"/><line x1="469.20" y1="81.64" x2="471.00" y2="81.64" stroke="#000" stroke-width="0.6"/><line x1="469.20" y1="78.63" x2="471.00" y2="78.63" stroke="#000" stroke-width="0.6"/><line x1="469.20" y1="76.09" x2="471.00" y2="76.09" stroke="#000" stroke-width="0.6"/><line x1="469.20" y1="73.88" x2="471.00" y2="73.88" stroke="#000" stroke-width="0.6"/><line x1="469.20" y1="71.94" x2="471.00" y2="71.94" stroke="#000" stroke-width="0.6"/><line x1="469.20" y1="60.00" x2="471.00" y2="60.00" stroke="#000" stroke-width="0.6"/><line x1="469.20" y1="54.03" x2="471.00" y2="54.03" stroke="#000" stroke-width="0.6"/><line x1="469.20" y1="49.79" x2="471.00" y2="49.79" stroke="#000" stroke-width="0.6"/><line x1="469.20" y1="46.50" x2="471.00" y2="46.50" stroke="#000" stroke-width="0.6"/><line x1="469.20" y1="43.82" x2="471.00" y2="43.82" stroke="#000" stroke-width="0.6"/><line x1="469.20" y1="41.55" x2="471.00" y2="41.55" stroke="#000" stroke-width="0.6"/><line x1="469.20" y1="39.59" x2="471.00" y2="39.59" stroke="#000" stroke-width="0.6"/><line x1="469.20" y1="37.85" x2="471.00" y2="37.85" stroke="#000" stroke-width="0.6"/><line x1="469.20" y1="26.10" x2="471.00" y2="26.10" stroke="#000" stroke-width="0.6"/><line x1="469.20" y1="128.99" x2="471.00" y2="128.99" stroke="#000" stroke-width="0.6"/><line x1="469.20" y1="126.68" x2="471.00" y2="126.68" stroke="#000" stroke-width="0.6"/><line x1="469.20" y1="124.37" x2="471.00" y2="124.37" stroke="#000" stroke-width="0.6"/><line x1="469.20" y1="122.06" x2="471.00" y2="122.06" stroke="#000" stroke-width="0.6"/><line x1="469.20" y1="119.75" x2="471.00" y2="119.75" stroke="#000" stroke-width="0.6"/><line x1="469.20" y1="117.44" x2="471.00" y2="117.44" stroke="#000" stroke-width="0.6"/><line x1="469.20" y1="115.13" x2="471.00" y2="115.13" stroke="#000" stroke-width="0.6"/><line x1="469.20" y1="112.82" x2="471.00" y2="112.82" stroke="#000" stroke-width="0.6"/><line x1="469.20" y1="110.51" x2="471.00" y2="110.51" stroke="#000" stroke-width="0.6"/><line x1="469.20" y1="133.51" x2="471.00" y2="133.51" stroke="#000" stroke-width="0.6"/><line x1="469.20" y1="135.72" x2="471.00" y2="135.72" stroke="#000" stroke-width="0.6"/><line x1="469.20" y1="137.93" x2="471.00" y2="137.93" stroke="#000" stroke-width="0.6"/><line x1="469.20" y1="140.14" x2="471.00" y2="140.14" stroke="#000" stroke-width="0.6"/><line x1="469.20" y1="142.35" x2="471.00" y2="142.35" stroke="#000" stroke-width="0.6"/><line x1="469.20" y1="144.56" x2="471.00" y2="144.56" stroke="#000" stroke-width="0.6"/><line x1="469.20" y1="146.77" x2="471.00" y2="146.77" stroke="#000" stroke-width="0.6"/><line x1="469.20" y1="148.98" x2="471.00" y2="148.98" stroke="#000" stroke-width="0.6"/><line x1="469.20" y1="151.19" x2="471.00" y2="151.19" stroke="#000" stroke-width="0.6"/><line x1="469.20" y1="160.05" x2="471.00" y2="160.05" stroke="#000" stroke-width="0.6"/><line x1="479.40" y1="163.00" x2="479.40" y2="166.50" stroke="#000" stroke-width="1"/><line x1="502.00" y1="163.00" x2="502.00" y2="166.50" stroke="#000" stroke-width="1"/><line x1="524.60" y1="163.00" x2="524.60" y2="166.50" stroke="#000" stroke-width="1"/><line x1="561.60" y1="163.00" x2="561.60" y2="166.50" stroke="#000" stroke-width="1"/><line x1="596.90" y1="163.00" x2="596.90" y2="166.50" stroke="#000" stroke-width="1"/><line x1="535.74" y1="163.00" x2="535.74" y2="164.80" stroke="#000" stroke-width="0.6"/><line x1="542.25" y1="163.00" x2="542.25" y2="164.80" stroke="#000" stroke-width="0.6"/><line x1="546.88" y1="163.00" x2="546.88" y2="164.80" stroke="#000" stroke-width="0.6"/><line x1="550.46" y1="163.00" x2="550.46" y2="164.80" stroke="#000" stroke-width="0.6"/><line x1="553.39" y1="163.00" x2="553.39" y2="164.80" stroke="#000" stroke-width="0.6"/><line x1="555.87" y1="163.00" x2="555.87" y2="164.80" stroke="#000" stroke-width="0.6"/><line x1="558.01" y1="163.00" x2="558.01" y2="164.80" stroke="#000" stroke-width="0.6"/><line x1="559.91" y1="163.00" x2="559.91" y2="164.80" stroke="#000" stroke-width="0.6"/><line x1="572.23" y1="163.00" x2="572.23" y2="164.80" stroke="#000" stroke-width="0.6"/><line x1="578.44" y1="163.00" x2="578.44" y2="164.80" stroke="#000" stroke-width="0.6"/><line x1="582.85" y1="163.00" x2="582.85" y2="164.80" stroke="#000" stroke-width="0.6"/><line x1="586.27" y1="163.00" x2="586.27" y2="164.80" stroke="#000" stroke-width="0.6"/><line x1="589.07" y1="163.00" x2="589.07" y2="164.80" stroke="#000" stroke-width="0.6"/><line x1="591.43" y1="163.00" x2="591.43" y2="164.80" stroke="#000" stroke-width="0.6"/><line x1="593.48" y1="163.00" x2="593.48" y2="164.80" stroke="#000" stroke-width="0.6"/><line x1="595.28" y1="163.00" x2="595.28" y2="164.80" stroke="#000" stroke-width="0.6"/><line x1="607.53" y1="163.00" x2="607.53" y2="164.80" stroke="#000" stroke-width="0.6"/><line x1="504.26" y1="163.00" x2="504.26" y2="164.80" stroke="#000" stroke-width="0.6"/><line x1="506.52" y1="163.00" x2="506.52" y2="164.80" stroke="#000" stroke-width="0.6"/><line x1="508.78" y1="163.00" x2="508.78" y2="164.80" stroke="#000" stroke-width="0.6"/><line x1="511.04" y1="163.00" x2="511.04" y2="164.80" stroke="#000" stroke-width="0.6"/><line x1="513.30" y1="163.00" x2="513.30" y2="164.80" stroke="#000" stroke-width="0.6"/><line x1="515.56" y1="163.00" x2="515.56" y2="164.80" stroke="#000" stroke-width="0.6"/><line x1="517.82" y1="163.00" x2="517.82" y2="164.80" stroke="#000" stroke-width="0.6"/><line x1="520.08" y1="163.00" x2="520.08" y2="164.80" stroke="#000" stroke-width="0.6"/><line x1="522.34" y1="163.00" x2="522.34" y2="164.80" stroke="#000" stroke-width="0.6"/><line x1="499.74" y1="163.00" x2="499.74" y2="164.80" stroke="#000" stroke-width="0.6"/><line x1="497.48" y1="163.00" x2="497.48" y2="164.80" stroke="#000" stroke-width="0.6"/><line x1="495.22" y1="163.00" x2="495.22" y2="164.80" stroke="#000" stroke-width="0.6"/><line x1="492.96" y1="163.00" x2="492.96" y2="164.80" stroke="#000" stroke-width="0.6"/><line x1="490.70" y1="163.00" x2="490.70" y2="164.80" stroke="#000" stroke-width="0.6"/><line x1="488.44" y1="163.00" x2="488.44" y2="164.80" stroke="#000" stroke-width="0.6"/><line x1="486.18" y1="163.00" x2="486.18" y2="164.80" stroke="#000" stroke-width="0.6"/><line x1="483.92" y1="163.00" x2="483.92" y2="164.80" stroke="#000" stroke-width="0.6"/><line x1="481.66" y1="163.00" x2="481.66" y2="164.80" stroke="#000" stroke-width="0.6"/><line x1="472.60" y1="163.00" x2="472.60" y2="164.80" stroke="#000" stroke-width="0.6"/><text x="466.40" y="38.60" font-size="6.3" text-anchor="end" fill="#222">10<tspan dy="-2.4" font-size="4.4">5</tspan></text><text x="466.40" y="72.50" font-size="6.3" text-anchor="end" fill="#222">10<tspan dy="-2.4" font-size="4.4">4</tspan></text><text x="466.40" y="110.50" font-size="6.3" text-anchor="end" fill="#222">10<tspan dy="-2.4" font-size="4.4">3</tspan></text><text x="462.60" y="133.60" font-size="6.3" text-anchor="end" fill="#222">0</text><text x="466.40" y="155.70" font-size="6.3" text-anchor="end" fill="#222">-10<tspan dy="-2.4" font-size="4.4">3</tspan></text><text x="479.40" y="173.80" font-size="6.3" text-anchor="middle" fill="#222">-10<tspan dy="-2.4" font-size="4.4">3</tspan></text><text x="502.00" y="173.80" font-size="6.3" text-anchor="middle" fill="#222">0</text><text x="524.60" y="173.80" font-size="6.3" text-anchor="middle" fill="#222">10<tspan dy="-2.4" font-size="4.4">3</tspan></text><text x="561.60" y="173.80" font-size="6.3" text-anchor="middle" fill="#222">10<tspan dy="-2.4" font-size="4.4">4</tspan></text><text x="596.90" y="173.80" font-size="6.3" text-anchor="middle" fill="#222">10<tspan dy="-2.4" font-size="4.4">5</tspan></text><text x="448.00" y="96.61" font-size="7.8" text-anchor="middle" transform="rotate(-90 448.00 93.80)">EGFR-RFP</text><text x="539.80" y="185.31" font-size="7.8" text-anchor="middle">Her2-GFP</text><rect x="468.3" y="127.5" width="2.4" height="7" fill="#111"/><rect x="498" y="163" width="8" height="2.3" fill="#111"/><text x="540.10" y="18.72" font-size="10.6" text-anchor="middle">Total RTK-FP</text><text x="575.00" y="43.04" font-size="7.9" fill="#e8242c">Control</text><text x="480.00" y="139.67" font-size="7.7" fill="#222">Lap-VHL</text><filter id="bl" x="-50%" y="-50%" width="200%" height="200%"><feGaussianBlur stdDeviation="0.9"/></filter><filter id="bl2" x="-50%" y="-50%" width="200%" height="200%"><feGaussianBlur stdDeviation="0.5"/></filter><clipPath id="cpF1"><rect x="468.2" y="201.6" width="88.59999999999997" height="87.70000000000002"/></clipPath><marker id="dm6" markerUnits="userSpaceOnUse" markerWidth="0.7" markerHeight="0.7" refX="0" refY="0" overflow="visible"><rect width="0.7" height="0.7" fill="#2a2aff" fill-opacity="0.6"/></marker><path d="M488.3 250.5l-1.3 5.7 6.9-8.2 4.1-5.3 7.3-3.2-9 5.8-1 7.8 1.7 4.5 7-14.1 6.3-6.4-14.1 6-10.7 10.7 6 1.4 22.4-14.5-11.7 8.4-8.9 17.7 10.1-13-6.2 8.8-6.2-12.1 11.1 7.4-3.9-0.2 14.7-4.3-11.3-1.4-4.7 2.9 4.1-9.5 4.2-2-24.9 11.4 15.9-4.8-3.6 6.4 10.2-1.9-15.3 1.7 12.3-6.8 8.1 7.5-13.4-7.7 2 11.4-2.6-10.7-2.3 7.1 1 4.3 12.3-10.3-15.4 4.5 12-19.7 9.7 14.1-24.1 15.2 17.6-14.8-8.2 11 6.5-9.4-4.9-4.3-12.5 16.1 4.3-19.3 8.4 7.4 4.6-12.1-11.5 18.3 21.6-6.9-17.6 9.2 1.8-8.5-10.2-1.9 25-8.9-1.8 10 0.4-24-5.3 18.9-3.3-5.5 1.7 1.6-10.3 10.2-2.7-9.3 14.5-6.3-16.6 8.8 18.5 7.9-3.1 0.2-0.8-8.9-5.1 8.4 0.3-2.5 3.2-2.5-0.9 1.1-8.4 5.6 11.7-13.2-19.9 12 2.3 0.6 1.4 2.3 18.5-13.9-11.4 7.8 7.2 14-11.3-7.3 9.2-12.6-5.6 14.5 1.5 4.1 16.2-11-16 10.2-2-13.1 4.1-0.7 3.1 8.4-1.3-6.3 11.6-8.4-16.2 10.6 3.4 12.6-4.4 3.8 8.9-13.8-5.7-2.9-4.6-11.9-3.5 6.6 8.1 7 0.1 3.2-16.1-16.1 16.2 4.7 4.5 10.8 2.1-4.5 4.5-19.7-3.6 15.5-16.1 13.3 20-26.4-2.4 16.1-8.2 10 3.8-21-7.7 5.1-5.9 3.4-0.6-0.3 11.1 14 9.3-5.8-1.5-14.6-4.9 14.1-3.6-12.8 12.3-8.6-15.1 27.7 6.6-13.7-5.4 2.9-12.7-0.9 1.2 0.6 11.6-3.5 2.2-4-3.9 9.3 1-6.8 6.4-3.4-1.4 4.4 5.9-2.5-4.8 1.3-2.8-2.7 9.9-9.2-2 14.1-8.6-0.8 0.1-7.5-10.7 12.3 10 0.8 8.6-7.6 2.2 4-1.6-13.3-1.7 18.7-17.8 4.2 22.4-25.6-7.1 5.1-8.5 21 18.2-16.6-13.9 6-14.1 12.2 3.9-14.9 7.6 7.5 11.1-18.1-14.6 18.9 1.3-5.9-1.3-0.8 1.5 2.6 0.8 7.6 9.8-6.6 0.8-10.5-1.3 4.8-12.5 9.8-1.1 2 2.2-14.8 5.5 15.5-0.9-1.8-2.6 11.6 13.4-36.2-3.1 10.9-17.2 10.2 17.7-9.7 1-4.8-20.1 31.8 7.9-17.4 4.8 2 1.2-12.6 0.3 10.3-5-2.8 0.4-1.8 14.8-12.5 3.4-1.3-25.9 13.4-3.1 2.6 31.5-20.8-24.8 27.2-6.9-11.1 5.5-3.4 7.4 0.4 8.8 0.2-4.7 4.4-4.2 13 9.6-9.9 4.2 6.8-8-27.9-5.4 20.2-3.1 14.6-9.3-11.7 15.2-19.7-5 21.7-5.7 15.7 10.5-11.1-10.9-16.7 10.4-6.8-8.8 21.4 8.8-14.6 4.9 2.4-10.5 10.7 11.1 2.7 3.8-22.4 0.9 1.4-6.1 6.2 1.6 8.2-5.5-15.2-1 15.9-5.3-5.1-8 3.3 18.1 3.9-3.7-2 22.6-18.3-24.6 18.1 11.3-9.6-2.2-2.5-7.6 13.3 4-14.4-11.2 34.3 2-28 17.5 4.8-30.2 17.1 13.2-5.1 10.7-19.9-7 11.3-0.3 10.7-1.9-11-6.3-3.2 13.9-4.9 0.2 3.8-19.8-7 14.2 16.9 4.5-4.2-5-22.3 1.6 14.1 6.6 1.8-14.7-2.1-3.8 11.8 4.1-4.1 13.2-6.8-0.8 6.5-12.1 3-4.1 5.9 15.3-9.7-4.8 1.8-3.2-2.5 7.1 5.7-9.4-16 7.7 6.4 1.5-7.5-0.6-0.1 6-0.2-4.2 3.4 4.5 18.7-7-9.6 2.1-5.4 1.1 11.5 2.5-9.2-10.3-16.5-2.8 23.2-3.2 9.9 12.5-28.2-3.2 12.7 0.8-8.4-9.1 19 9.9-31.7-8 6.3 1.3 12.4 2.4 4.9 8.4 1-9.7-4.5-3.1-1.1 2.8 13.3 11-21.9 0.3 17.3-8.6-8.7-9-7.8-10.1 23.5 17.8-22.7-7.7 4.7 3.3 2.3 2.7-2.4-4.7 9.6 10.4-15-5.2 15.7-1.3 1.6-0.9-1.3 6.6-7.7-6.4-13.1-7.6 11.2-2 10.2 22.1-15-22.1 9.2 19.6-13-4.7 12.3 4.4 12.2-8.1-7.6 3.1-11.8 10.8 3.5-11.4 4.7 4.9-10.9 14.3-2.9-24.8 9.2-0.6 11.8 0.1-1.2 1.9 5.9-5.3-14.2-1.3 0 0.6 8.4 12.5-13.8-18.7 25.4 6.3-11.6 25.4-22.2-5 8.5-5.6 2-6.8-4.8 19.4-0.9-21.2-1.7 3.6 9-3 14.6-0.1-15.1 5.2 12.9 3.3 2.4-1.7-1.3-1.4-9.9 0.9 4.5 0.3-15.4-9.6 20.6 7.7-8.7 11.3-17-11.4 14.2 5.6-10.4-9-6.8 12.8 8.4-4.2 4.1-5 23.5 0.6-14.1-4-1.8-3.5 12.3 5.8-9.4-8.3 3.4-4.4 1.6 6.6-18.8 6.3 8.5 3.3 11.2-19-12.5 7.2 0.7 9.4 5.9-2.9-2.2 3.4-1.8-13.7-6.5 11.5-1 6.3 3.5-0.6 1.6-8 6.6-5.6-5.3 13.8-2.1-12.6-2.4 2.2-0.1-16.8 17.8 11.5 12.4 10.4-30.9 2.2 2-4.3-17.6 12 18.9-6.3 1.2-11.9-7.3-9 11.3 31.1-4.1-22.5 0.5 20.9 3.2-13.4-7.3-9.5-9 21.8 10.2-11.9 8.1 1.5 0-8.9-1.4 4.6-2.5 18.9-10.7-21.9 8.1 4.3-16.6 12 14.7-8.3-5.6 9.9 7.3-20.4 6.6 9.2-10.4 8.7-8.6-25.2 8.7 21.8 9.8-13.1-2.6 8.6-5.9-0.7 17.6 10.5-26.2-8.8 18.5-10.3 6.6 23.6-23.8-7.8 4.3 1.5 7.1-6.7-5.8-2.4 9.6-4.9-5.9 15.5 0.6-15.5-15.5 11.9 9.8-3.8 6.2-4.5 5.1 0.1-3.5 15-4.4 6 0.7-24.9 2.4-7.4-4.5 15.1-9.7-2 5.1 3.2 3-12.5 15.8 11.7-2.5-8.4-5.2 6.6-3.9-11.4 15.1 14-26.8-3.4 9.8 16.2 11.8-24.6 0.5 3.1-12.5 2.7-15.5-2.7 35.7 5.3-20 1-4.4 6.4 23.6 4.6-15.8-23-4.4 16.8-6.2 2.2 11-2.8 1.6 1.8-21.8 6.8 21.1 3.5-3.4-30.8 6.8 0.2-6.9 11.4-9.8 10.7 8.1-4.2 9.1 0.9-10.2-15.7 10.8 10.7-7.6-5.5 13.2 0.8-18.9-7.8 4.4 7.1 7.9 11 0.1 6.1-17.8-18.1 21.7-1.7-6.8 18.6-6.1-22.6 0.4 22.2-9.9-12.5 9.6 1.3 2.9-2.1-5.3 17.2-3.6-11.1 4.8-3.5-1.1 3.8 6.7-14.4 11.5 2-7.1 14.8-18.5 2.6 10.8-10.6-4.7 4.4 2-7.8 8.8 8.6-4.3-10.5 7.3 20 0-26.6-7.9 14.9 6 1.2-7.8 0.6 10.8-7.3-18.9 12.9 13.3-13.6-10.1 16.6 1.3-18.9 20.7-3.2-1.1 10.4-20.2 1.7-2.8 11.4-4.4-12.3 6.1-5.5-5.6-10.3 13.7 23.5-1.6-0.4 0.7-12.6 12-1.3-3.2 6.7-4.6 3.2-2.6-22 23.8 14.2-27.5 1.3-1-4.7 1.4 9.3 2.1-4.4-6.2-5.3 14.7 16.5-4.8-12.7-1.9 2.2 10.9 10.4-6.4-8.6-23.9-17 24.2 8.2 9.5-5.8-5 29.5-22.6-13.5 17.8-4.8-6.6 2 11.2 3.6 5-10.9 5.1 5-24.5 4.2 2.4-16.3 15.5 16.5 1.6-6.9-9.6 2.2-7.6 5.4 1 8-4.8-2.9-5.5 0.5 4.3 1.2-2.6-12.4 22.3 5.1-3.7 7.4-15.9-9.1 3.5 2.6 5.7-19.3 9.9 10.6 7.3 13-22.9-3 2.6-17.4-6.3 23.1 20.9-13 6.3 12.6-16.9-1.4-9.8 6.6-2.4 0.7 21.4-19.3-12.9 1.4 12.8 14.2-18.3 0.9-5.6-13.9 18.6-0.8-12.5 6.8 8.4-14-3.1 3.3 27.9 8.6-20.6-2-14.4-19.3 10.5 14.8 4.6-13.7 20.4 21.9-41.2 8.3 17.1-9.9-2.3-5.7-0.7-7-1.1 10 1.1-1.9 1.5 4.6 3 3.4 0.1-4.1-5.5 11.3-9.1-14.4 27 7-16.5-10.1 3.1 1.1 7.6-13.6 4.7 23.9-18.7-12.2 10.5-4.3-6.5 16.4-2.3-12.6 9.8 10.3-5.8-10.9-7.9 17.8 3.5 1.6-1.4-19.6 8.1 12.7-12.6-5.8 8.3 1.1-1.9 2.1 6.1-1.4-14.1-14.9 13.4 13.9-7.5 16.6 2-20.8 1.6 11.8-20.3-17.4 21.5 11.5-2.7 0.5 9.5-10.4-7 1.4 7.7 3.9-4.3 4.3-2.7-6.4 4.4 15.4-9.1 2.2-6.4-26 17.9 30.3-5.4-23-10.9 0.5-0.2 26-7.2-12.3 6.1-7.8 4.8 1.3 3.1-12.6 19.9 13.3-27.1-10.8 10.7 3.9-8.8 0.4 1.4 5.9-6.4 16.5 0-11 4.4 3.1-1.1-15.2 6.9 12.5 1.4-11-13.3-4 25.4 23.4-25.7-24 15.8-5.9 2.4 26.4-15.8-3-8.9-19.1 20.8 5 3 18.4-33.1-14.3 27.1-2.8 25.1-3.4-20.8 23.5-14.5-18.4 2.1 6.3 4.1 1.2-5.1-3 4.6-1.9 11.6-1.1 15.5 1.7-25.2-2.9 18 2.1-12.1 13.6-12.3-13.9 4.3-4.2 2.7 2.5 2 1.4-7.4 5.1 1.7-19.6 12.8 14.9-7.1 10.7-11 2 14.2-10.2 11.2-5.5-5.7-14 6.4 13.7-5.1 16.5-17.5-15.8 8.6-8.3 3.3-2.9-6.1 11.7 3.8 9.8 8.1-12.2-7 0.3 5.7 8.9-10.9 6.4-6.4-12.1 17.4-13.7-11.8 20.4-5.5-14.4 22.5 3.3-8.6 7.8 3.8-4.4-10.8 3.6 8.8 0.3 8.2-2.3-17.6-8.2 12.6-5.2 3 3.4 6.6 3.4-33.4-12.6 21.8 19.9-11.8 7.2 3.2-0.5-2.3-13.3 1.7 9.7 13-3.4-11.1-8 2.1 1.3 10.1 20.2-16.2-20.7 10.7 10.1-26.6-3.4 13.8-3 10.2 9.9-3.3-4.6-14.2-10.4 25.2-4.3-9.5 5.5 6.3 0.8-15.2 5.8 1.8-7.7-1.6-2.1 8.1-1.8-4.1 9.2-14.7 15.4 13.9-6.5 7.3-12.8 8.2 8.3-18.4 6.9 10.3-8.9-7.1 13-8.3-2.3 9.9-16.1 9.9 6.4 5.2 6.9-24.7-7.5 8.9 5.8-4-12.8 2.2-5.1 6.8 17.5-2-4.2-20.4 6.4 21.3-13.7 7.7 9.9-2.5-3.3-0.3 3.5-5.9 11.2-1.7-2.9-15-11.3 13.2 1.9 10.2-5.6-11.4 8.5 8-5 1.5-3.1-8.4-4-3.1-11.3 5.9 30.5 3.1-22.6-7.1-2.6 5.9 19.8-2.6-8.2 5.9 13-18.2-8.8 9.1-5.1 1-7.9 4.3 3.1-1.9 14.8-4-7.5 13.8 9.8-10.7-24.5 16.8 3.7-26.8 17.7 6.8-6.3 0.9-14.9-8 26.8 9.3-17.8 9.4-2.2-0.2 8.3-7.2 6.7-8.8-4.4 6.4-4.6 4.3 2.7-4.1 3.7 1.2-12 12 0.3 20.6 0.1-23.2-6.3 0.9 5.5-7.4 0.9 8.9 0.9-3.6 9-9.5-4.4 0.7-0.7 1.1 15.5-9-10.5 18.7-4.6-4.9 8.3-14.5-20.5 13.8-3.3 4 24.9-17.5-7.7 6.2 2.4-1.4-4.8-4.6 6.6 2.1-17.9 2.9 6.3 0-4.7 9.6 14.9-3.8-5.4-5.8-6 3.9 13.2-3.6 12.9-19-21.3 35.7 9.7-17.8 0.2-1.3-1.2-2.7-7.8 17.9 5.9-21.2-7.4 0.8 7.1 16.1-8.3-4.1 6.4-2.4 7.3-2.9 1.7 2-10.5-27.2-7.7 28 17.6 2.1-21.4-4.3 18.7-0.2-8.4 1.5-7.3 3.4-0.9 8.7-4.2-10.8 17 1.1 11.7-6.2-17.4-5.6-8.9 18.3 13.8 2.4-0.8-7.5-4.6-1.6 10 6-11.1-18.4 3.3 10.3-4 8.6-10.1 7.8 15.8-7.4-21.1-0.1 18.3-4.3-1.1-7.1-0.8 21.1 6.9-9.7-10.4-5.9 12.6-18.6-4.1 15.5-19.1 14.6 16.3-16.5 4.8 4.4-8.4 1 10.2 10.9-2.5-14.7-2.6-2.9-4.5-0.7-6.2 13.4 12.9 1.2-11.3 7.7 4.8 3.3 5.4-7.7-6.9 0.7-2.2-10.2 21.3-19.8-11.7 16.2-17.5 3.3 1.7 18.2 1.6-15.9 0.9 8.6-7.1 4.1 24.2-17.7 2.5 17.8-13.2-23.1 22.9-15.3-7.8 30.2-15.8-11.3 5 1.2-3.4 5.2-1.5 6.1-5.7-12.8 18.4-2.3-7.6 12 2.6 16.6-12.3-12-1.1-3.7 10.3-5-10.7-15.2 14.8 12.4 10.6-0.3-16.8 3.9 6.7-8-4.3 3 4.4-1.4-23.2 13.7 33.8-12-27.9 12.9 2.8-3.2 22.8-5.8-15.6 2 11.7-18.4 0 21-14.9 2.9 11.4-5.9-11.1-2 6.6-20.1 10.2 7.6 0.6 12.1-16.8 0.8 7.3-0.3 8-5.9-14.2 12.3-0.9-0.9 14.1-9.7-3.5-1.4-10 4.2 7.8 7-12.1 11.8 18-25.8-6.6 11.4-25.2-4 16.4 9.9 0.4-2.8 6.5-28.4 13.9 24.8-21.7 8.3 16.6-27.8-3 4.3-12.2 21-11.7 11.1 15.3-34.5-4 17.1 7.3 0-1.7 3.7 12.7-12.6-8.2-9.8-2.1 6.9-1.2 11.6-2.2-7.3 6.4 0.7-19.3 12.5 25.2-15.6-12.7 9.7 6.4-2.2-3.5-1.4 0.8-9.3-1.1-3.1 13.7-3.4-19.8 16.9-7.9 0.5 11.4-4 1.7 11.6 12-9.7-13.1 10.8 9-4.7-3.4-13.5 1.6 0.4-9.2 2.8 8.6-8.5 11.2 11-25.1 17.9 14.3-14.9 8.7 9.6-6.5 0.8-16.1-9.1 13.6 2.5-6.4-9.9 8 8.2-7.4-20.4 2.4 6.8-10.1 12.2 13.5 13.5-8.6-28.2 4.6 24 5.4-6.8-2.8-6.4 7.1-1.2 5.5 11.3-5.7-16.9-14.9 12.3 15.4-1.8-11.4 7.8-4.3-14.6 6.4 6.1-6.3 8.5-18 6.8 23.9-26.5-2.4 5.8-4.1-0.6 3.2 13.7 1.3-3.7-7.7-16.7 6.3 10.9 10.2-6.3-14.3 1.6-0.6 11.7 12-8.5-18 1.1 12.5-0.6-23.5 6.8 25.1 1.9-1.7-13.2-11.4 6.2 2-6.4 4.9-3.9 11.4 16.4 0.3-22.2-11.8 16.8 1.4 0.1-5.5-4.8-0.2 23.5-13.7-17.3 30.4-1.4-13.9-0.4 15.1-9.8-8.2 12.3 2.2 3-2.8-18 4.5 13.6 5.2-13-17.7 20 9-12 8.6 4-4-1.8 7.9-1.1-2.6-0.6-21.1-4.7 5.7 12.5 15.6-7.1-15.7-1 2-10.3-0.6-5.7 14.3 27-21.8-4 9.7-0.3 0.4-13.4 1.1 14.2 15.3-5.6-23-4.5 7.6 5.1-8.4 2.8-2.2-8.8 12.7-4.9-4.6 14.9 6.2 5.1-2.7 3.6 3.5-17.4-23.2 10.6 17.4 3.3 6.6-14.8 3.2-4-16.3 7.8 12.6-4.8-8.1 31.6 15.2-23-4.1 2.7-12.9 9-9-0.2 10.3-8.1 5.6-5.2 1.9 0.2-5.4-1.2 1.6-7.3 9.7 9.1-21 9.6 12.6-2.5-6-3.4 14.2-8.1-10.6 11 10.8-10.6-6.1 6.8 6.1-24.2-17.5 16.6 7.1 5.2 7.9 8.1-11-12.6 14.2-17.9-2.6 36.2-21.8-13.5 9.3-1 6.4-6-12.1 11.6 11.7-13.5 8.5 7.6-10.4 3.4-0.7 0.6-12.8-3.8 15.8 6.6-6.6 1.3 13-15.7 5.9-0.1-14.8 12.5-0.2-3.3-9.7 16.1 3.1-15.3 4.5-7.4-2.7-1.4 10.9 11-3.6-12.4-0.7 9.3 1.7 7.6 16.3-12.2-33.6 17.7 " fill="none" stroke="none" marker-start="url(#dm6)" marker-mid="url(#dm6)" marker-end="url(#dm6)" clip-path="url(#cpF1)"/><marker id="dm7" markerUnits="userSpaceOnUse" markerWidth="0.7" markerHeight="0.7" refX="0" refY="0" overflow="visible"><rect width="0.7" height="0.7" fill="#3434ff" fill-opacity="0.55"/></marker><path d="M519.4 244l-0.4 10.4-7.1 0.4 4.2-3.3 16.7 1.1-14.6-6.3 9.4 8.9-5.2-5.7 5.1 3.2-2.2 0.5-5.6-0.5-7.5-5.4 13.6 4.5-3.7-0.6-1.1 4.6 2-8.6-8.5 7.7 4.7-2.2-0.7-1.9-7.5 8.2 1.4-4.8 5.5-6.1-10.7 3.8 15.1-4.7 0.1-1.9-4.3 3 1.8 0.1-10.7 9.8 10.2-4.1 2.9-14.4-1.2 10.1 2.1-2.4-5 2.5 10.4 1.4-7.9-0.6 1.8 1.7 1.5-5.4-9.4 9.9-1.8-7 9.7 6.2-10.4-6 3.3 2.7 8.1-6.6-10.6 9.3 0.6-3.7-1.3-3.1 1 3.5 14.8 0.4-6.7-9 2.1 3.5-14.8-1.1-2.4 8.2 6.4-2.9 11.2-3.8 0.6-0.2-16 3 1.1-10.1 12.3 9.5-2.1 7.8 0.9-13.3 1.2 0.9-8.5 0.3 5.7 7.1-2-5.4 7.7 11.8-7.9-9.3-8-1.3 16-2.8 2.8 8.1-4.3 1.7-6.6-4-3.1 5.1 9.9-0.3-7.8-4 5.3-1.3 1.4-2.7-4.7 3.4-9.5-2.5 12.7 8.2-7.6-3.2-2.9-4.2 7.7-1 0.9 3.6-1.1 2.9 3.7-3.4-13 3.3 12.7-6.6 5.3 3-8.7 2-2.1-2.1 1.7 0.9 7.1 2.8-7.2-4.5-3.1 4.5-4.6-6.8 15.8 4.5 0.1-4.1-7.2 0.2 10.5 4.5-12.5 3 5.7-6.3-10.4 1 1.6 5.6 5-9.6 2.5 7.8 0.7-9.4-7.7-3.2 1.9 10 2.1-2.8-0.8-1 0.1-8.5 5.5 12.4 1.7-3.7-15.3-3.2 16.1 4.7-5.8-4.8 0.8 1.8 0-0.1 3.1 8-1.2-4.9-11.3 6.3 12.2-9.5-10.2-1.7 7.7 13.2-0.8-14.1-9 11.7 7.9-10.4-1.3 8.2-2.1-6.6 13.7 10.1-9.5 2.1-2.7-4.2 10.7-3.1-9-3.2-0.5 5.2-9.5 5.9 13.2-11.4 2.1-3.1 4.6 13.1-14.9-9 10.5 4.3 1.8-2.4-3.4 0.4-3.7-2.5-8.4 0.6 9.3-6.9-3.7 5-6.1-1.3 11.9 9.1-3.6-6.6-0.6 1.9 11.2-8.1-12.7 7.9-7.9 6.5-0.7-6.1 13.9 3.2-3.7-5.3-2.8-1.4-6.9 7.1 6.5-6.3-1.5-2.7 5.2 4.2-3.8-1.2-0.1 6.4 4.2-1.5-3.8-9.7 5.6 8.8-18.9-8.3 11 6.8 12.4 1.8-5.1-4.9-6.6-0.1 4.6 5.8-2-4.8 1.1-3.7 9.1 12.4-9.4-3.4 3.2-1.8-5.4-0.5 0.6 3-4.1-4.2 4.5 3.2 1.2-2.1 0.6-4.5 1.8 7.8 0.2-3.9 2.9-4.4-4.5 1.6 7.8-8.8-3.6 3.3 3.9 0.9-7.2 9.7 6.4-0.2-5.7 2.2-8.8-3.3 8.2 5.8-0.7-9.8-6.5-1.4 2.4-0.8 1.9 5.1 14.6-3.8-10-1.3 7.6 1.7-4.4 3.1 0.8-6.5-1.4 5.7-11.6 0 13.8 7.6-11.4-6.9 7.3-6.4-2.7 6.9 8.7-0.3-2.1-6.5 3.2-8.1-6.8 17.1-2.4-4.2 3.8-2.4 8.2 2.4-9.4 6.6-2.4 2-6.4-9.9 2.4 9 3.3-7.1 3.9 0.2-0.3-0.4-3.6 0.1 1.1-0.4 7.1-2.4 1.6 3.2-3.3-4.7 1.7 7.1-1.4-5.4 2.9 5.1-15.5-2.8 3.7-7.5 3.8 13.4 0.8-4 4.7-1.6-15.9-1.3 10 9.6 0.5-9.2-4.7 5.5 2.7-3.4 5.8-6.9-2.7 9.2-3-10.1 1.7 8.8-1.7-0.1 5.3-0.8-5.2-4.4 5.5 9.6-7.7 1.7 2.6-12.1-5.5 2.4 4.6 9 5.3-9.2-9.3 6.2 3.3-8.7 2.3 1.5-2.3 4.1 6 0.8-10.5-8.5 10.6 1.8 2.3 7 1.7 3.4-8.6-3.4-3.7-0.7-3.9 0.4 11.3-7.5 0.7 7.3-2.6 2.2 0.2-1.3 1.7-8-5.2 1-5.6 9.3 0.2-11.2 3.2 1.4-0.6 11.9-3.4-11.2 5.8 0.8-3 6.2 8.5 0.6-3.7-4.3 4.4-5.6-10.7 4.1 1.2 3-2.5-4.8 9.5-0.3 14.2 10-14.6-3.2-3.3 1.1 3.3 0.5-1.2-8.5 5 6.7-4.9 3.2-4.4-2.3-5.2-8.3 11.4-1.8 3.3 3.4-4.3 6.1-5.2-3.3 2.2 2.1 0.6-7 4.5 9.4-3.2-7 6.2 8.4-6.9-5.2-2.2-13.3 12.5 12.5-14.3-3.1 1.1 0.2 14.4 3.1-9.1 5.5 7.6-1-21.6 2.5 18.9-6.3-6.3-8.4 0.5 5.9 2-1.6-16.4 1 9.4 15.1 6.8-8.4 14-8-20.1 9.8 15.7-6.7-8.7-4.8 2 11.4-10-7.5 7.9 2.8-7.4 9.7-1.8-14.9 12.6 9.3-10-6.1 0.9-3.6 6.1 3.9-7.6 1.9-2.3 0 7.6-7.7 0.2 10.7 6.3-7.7-13.4 5.3 9.3-0.5 0-3.4-5.8 5.2 1.4-5.9 0.9-1.1-5.3-2.1-1.5-2 10.3 5.2-9-6.7 0.5 8.2 8.9-0.8-6.8 9.9 0.7-12.7-5 10.4 0.8-3.5-0.8-0.3 0.1-4.2 13.2-0.9-11.2 2.3-6.8 1.2 6.1 2.8 9.1-4.9-9.5 9.4 5.7 0.5-4.6-18.7-4.1 11.7 6.1-1.1-2.5-3.9 6.1-7.7 2.7 4.3-3.9 7 13.6 4-18.7-1.1 12.1 0.3-4.6-3.4 4.9 5.7-4.3-2.5-14.1 2.9 9.9-5.6 6.7-2.4-5.1-3.9-6.8 13.8 3.9-9.5 4.4-2.1 4.5-4.9-9.2 12.1 3.5-8.7-5.2 6.5-1.4 1 3.5 5.1 9.4-9.6-3.2-5.6-5 12.7 1.2-2.7 2.8-4.1-3.3 2.7-1.6 8.7 0.7-8.3 4.7-3.2-5.2 2.6 5.9 3-13.3-1 5.5-0.1 1.7 0 5.1-6.8-7.6 8 1.9 2 4.3-1.7-2.1-3.3-2.9-0.1 1.7 1.3-3-0.6 8.8-7.7-1.9 6.8 2.1 6.3 7.1-7.1-5-1-3.8 5.2-2.9-2.4 11.9-3.5-10.1 4-2.3 6.9 7.6 0.6-4.2-7.6-3.4-1.4 3.5 6.1 7.7-3.3-9.1 0.4 1.3-2.8-6.3-5.5 2.1-0.7 6.9 6.2-4.9-4.6 1.1 8.6 4.9 0.5-7.1 2.5 9.4-6.2-11 8.3-0.5-3-0.3-4-3.4 1.7 10.2-5.9-2.6-11.7 6.7 18.9-10.5-2.5 7.4 5.4 2.9-5.4-7.8-3 0.2-1.4-11.6-0.5 22.1 3.5-10.3-9 4.1 3.1-6.1 8.8 4.3-12.9-7.5 2.1 9.5 4.4-3.2 0.8-2.4 2.1 4 3.6-11.1-2.6 9.8 1.4-3-5.3 9.4 2.7-3.4-3.3-4.8 2.7-0.6 3.1 16.4-0.3-19.9-10.8 14.5 3.4-4.9 14.1-0.7-18.2-13.5 9.5 13.7-5.6-6.7 4.3-2-1.6 7.5 2.9-6.6-5.3 6.5 9.7-7.6 5.2 7.6-21-0.7 7.3-6.5-3.1-0.5 7.4 1.3 5.8 0.7 0-0.3-0.4 12.3-4.9-7.2-3.5-3.9 7.6 0.1-7.9-2.4-0.8 5.4 3.9-1.7-5.9-3.1 4.7-0.1-3.3 1.5 4.6-3.3 4 5.9-6.9-5.2 4.6 7.3 2.2-4.3-7.8 4.3 3.2-5.6-1.3-6.4 9.8 2.7-10.5 5.2 2.9 3.4-6.9 0.1 2.1 0.6 6.9 0.8-4-1.6 4.7 0.4-3.1-3.3 11.5 3.9-12.9-3.3 5.4 0.2-7.5 1.3 1.2 10.5-4.9-18.8 18.8 5-21.4 1 10.1 3.5-2.6-2 5.6 8.1-6-16 11 16.9-3.4-15.4-2.7 2.7-0.1 6.4 2.5-2.4-2.8-0.5 5.3 0.5-3.2 1.6-4.2 2.9 2.2-2.8-1-8.3 4.5 2.6-6.5 10.5 1.6 2.8-6.2-5 8.8 0.7-1.9-3.8-4.1 8.8 10.7-13.2-7.6 1.2-5.3-2.2 10.3 11.7-5.9-10.5-13.2 5.2 15.5-9.5-1.6-0.4 0.4 12.3-1.3-1.4-2.7 0.7 4.2-3.2-8.2-2.5 6.8-0.6 4.7-3.5 0.6 3.7-6.7 8.6 11-7.5-7.4-5.8-3.4 5.4 2.8-3.7-3.9-0.8 7 5.1-8.1-3.2 1-2.5-2 13.8 1.6 1 2.4-7.8 9.6 6.6-7.3-9.6 4.2 2.1-5 6.7 4-5.1-9 2.6-0.4-17.8 13.5 15.1-6.7-3.5-8.8 1.5 9.8-7-3.6 3.7-0.3 6.9 4.9-0.1-9.2 0.9 11 0.4-4.3 1.2-3.4-3.5-3.9-3.1 14-1.7-9.6 0.7-4.6-2.7 5.6-0.1 2.8 4.5 0.7-11 3.8 5.3-4.1 2.1-2.8 6.6 10.3 2.8-1-3.7-14.1-1.9 9.5-2.2-7.1 8 9.4-2-11-6.8 5.6 3.1 5.8 2.2-5.6 2.5 3.4-6.2-8.1 9.2-2.4-1.7 0.3-7.9 8 1.1-5.7-3.6 9.6 0.1-8.2 6.1 7.7 5.6-4.5 0.1-6.5-6.2 5.1-2.8 2-1.4 0 5.4-2.7-4.4 5.5 5.9-0.7-4.2 0 2.1-7.8-4.1-6.1 12.7 12.2-4.4-6.4-5.2 1.3-4.8 1.4 7.2 2.5 0.9-9.3-9.4 7.3 6 6.8 9.9-12.8-9.3 5.2-2.9 7.9 4.9-2.7 6.2-1-11.3-2.1 0.1-7.2 0.9 7 1.6-4.8 5.6 4.9-4.3-4.1-12.7-1.8 13.3 5.3-0.2 4.8 1.2-7-1.8 3-2 2.5 3.2-1-6-8.1-5 3.3 6.7 4.1-3.8-1.5 13.9 7.9-9-5.3 8.3-6.7-14.5 7.1 0.7 2 8.1-2.2-10.7-0.6 5.3-8.7-6.4 6.1 11.7 3-10.7-4.5 7.9 0.2-8.2 3.6 11.2-4.9 3-1.2-4.8 3.3-5.5 0.3 7 4.3 2.8-4.6-1.1-4.5 2.5 7.4 3.2-5.8-8.4 7-2.4-6-1.9 5.2 3.1-1.2-1.1-2.3-1.5-4.8 4.3 3.9 8.2 8.2-13.8-5.5 1.5 4.3 0.6-4.9-3.3-0.2 10.3-4.5-6 6.1 3.7-5.5-11 0.1 10.9 8.4-3.5-9.2 " fill="none" stroke="none" marker-start="url(#dm7)" marker-mid="url(#dm7)" marker-end="url(#dm7)" clip-path="url(#cpF1)"/><g filter="url(#bl2)"><path d="M488.6 265.2 C486.8 260 487.2 254.5 489.2 249 C491 243.5 494.5 239.2 499.5 238 C504.5 237 509 238.8 510.5 242.5 C511.8 246.5 509 250.5 505 254 C500 258 494 261 491 264.8 Z" fill="#0a0aff"/><g transform="translate(497.6 248.6) rotate(36)"><ellipse cx="0" cy="0" rx="6.6" ry="9.6" fill="#00c4ff"/><ellipse cx="0" cy="0" rx="5.0" ry="7.4" fill="#18e858"/><ellipse cx="0" cy="0" rx="3.2" ry="4.8" fill="#d8f400"/><ellipse cx="0" cy="0.3" rx="2.2" ry="3.3" fill="#ff9a00"/><ellipse cx="0" cy="0.5" rx="1.35" ry="2.1" fill="#ff1800"/></g></g><path d="M512.5 263.3 L512.5 255.4 L521.5 238.4 L551.2 238.4 L551.2 263.3 Z" fill="none" stroke="#333" stroke-width="0.8" stroke-dasharray="2 1.5"/><text x="524.00" y="236.32" font-size="7" fill="#111">0.75%</text><rect x="468.2" y="201.6" width="88.59999999999997" height="87.70000000000002" fill="none" stroke="#555" stroke-width="0.8"/><line x1="464.70" y1="284.00" x2="468.20" y2="284.00" stroke="#000" stroke-width="1"/><line x1="464.70" y1="269.60" x2="468.20" y2="269.60" stroke="#000" stroke-width="1"/><line x1="464.70" y1="254.50" x2="468.20" y2="254.50" stroke="#000" stroke-width="1"/><line x1="464.70" y1="230.90" x2="468.20" y2="230.90" stroke="#000" stroke-width="1"/><line x1="464.70" y1="209.50" x2="468.20" y2="209.50" stroke="#000" stroke-width="1"/><line x1="466.40" y1="247.40" x2="468.20" y2="247.40" stroke="#000" stroke-width="0.6"/><line x1="466.40" y1="243.24" x2="468.20" y2="243.24" stroke="#000" stroke-width="0.6"/><line x1="466.40" y1="240.29" x2="468.20" y2="240.29" stroke="#000" stroke-width="0.6"/><line x1="466.40" y1="238.00" x2="468.20" y2="238.00" stroke="#000" stroke-width="0.6"/><line x1="466.40" y1="236.14" x2="468.20" y2="236.14" stroke="#000" stroke-width="0.6"/><line x1="466.40" y1="234.56" x2="468.20" y2="234.56" stroke="#000" stroke-width="0.6"/><line x1="466.40" y1="233.19" x2="468.20" y2="233.19" stroke="#000" stroke-width="0.6"/><line x1="466.40" y1="231.98" x2="468.20" y2="231.98" stroke="#000" stroke-width="0.6"/><line x1="466.40" y1="224.46" x2="468.20" y2="224.46" stroke="#000" stroke-width="0.6"/><line x1="466.40" y1="220.69" x2="468.20" y2="220.69" stroke="#000" stroke-width="0.6"/><line x1="466.40" y1="218.02" x2="468.20" y2="218.02" stroke="#000" stroke-width="0.6"/><line x1="466.40" y1="215.94" x2="468.20" y2="215.94" stroke="#000" stroke-width="0.6"/><line x1="466.40" y1="214.25" x2="468.20" y2="214.25" stroke="#000" stroke-width="0.6"/><line x1="466.40" y1="212.81" x2="468.20" y2="212.81" stroke="#000" stroke-width="0.6"/><line x1="466.40" y1="211.57" x2="468.20" y2="211.57" stroke="#000" stroke-width="0.6"/><line x1="466.40" y1="210.48" x2="468.20" y2="210.48" stroke="#000" stroke-width="0.6"/><line x1="466.40" y1="203.06" x2="468.20" y2="203.06" stroke="#000" stroke-width="0.6"/><line x1="466.40" y1="268.09" x2="468.20" y2="268.09" stroke="#000" stroke-width="0.6"/><line x1="466.40" y1="266.58" x2="468.20" y2="266.58" stroke="#000" stroke-width="0.6"/><line x1="466.40" y1="265.07" x2="468.20" y2="265.07" stroke="#000" stroke-width="0.6"/><line x1="466.40" y1="263.56" x2="468.20" y2="263.56" stroke="#000" stroke-width="0.6"/><line x1="466.40" y1="262.05" x2="468.20" y2="262.05" stroke="#000" stroke-width="0.6"/><line x1="466.40" y1="260.54" x2="468.20" y2="260.54" stroke="#000" stroke-width="0.6"/><line x1="466.40" y1="259.03" x2="468.20" y2="259.03" stroke="#000" stroke-width="0.6"/><line x1="466.40" y1="257.52" x2="468.20" y2="257.52" stroke="#000" stroke-width="0.6"/><line x1="466.40" y1="256.01" x2="468.20" y2="256.01" stroke="#000" stroke-width="0.6"/><line x1="466.40" y1="271.04" x2="468.20" y2="271.04" stroke="#000" stroke-width="0.6"/><line x1="466.40" y1="272.48" x2="468.20" y2="272.48" stroke="#000" stroke-width="0.6"/><line x1="466.40" y1="273.92" x2="468.20" y2="273.92" stroke="#000" stroke-width="0.6"/><line x1="466.40" y1="275.36" x2="468.20" y2="275.36" stroke="#000" stroke-width="0.6"/><line x1="466.40" y1="276.80" x2="468.20" y2="276.80" stroke="#000" stroke-width="0.6"/><line x1="466.40" y1="278.24" x2="468.20" y2="278.24" stroke="#000" stroke-width="0.6"/><line x1="466.40" y1="279.68" x2="468.20" y2="279.68" stroke="#000" stroke-width="0.6"/><line x1="466.40" y1="281.12" x2="468.20" y2="281.12" stroke="#000" stroke-width="0.6"/><line x1="466.40" y1="282.56" x2="468.20" y2="282.56" stroke="#000" stroke-width="0.6"/><line x1="466.40" y1="288.33" x2="468.20" y2="288.33" stroke="#000" stroke-width="0.6"/><line x1="471.00" y1="289.30" x2="471.00" y2="292.80" stroke="#000" stroke-width="1"/><line x1="487.30" y1="289.30" x2="487.30" y2="292.80" stroke="#000" stroke-width="1"/><line x1="501.70" y1="289.30" x2="501.70" y2="292.80" stroke="#000" stroke-width="1"/><line x1="526.20" y1="289.30" x2="526.20" y2="292.80" stroke="#000" stroke-width="1"/><line x1="547.20" y1="289.30" x2="547.20" y2="292.80" stroke="#000" stroke-width="1"/><line x1="509.08" y1="289.30" x2="509.08" y2="291.10" stroke="#000" stroke-width="0.6"/><line x1="513.39" y1="289.30" x2="513.39" y2="291.10" stroke="#000" stroke-width="0.6"/><line x1="516.45" y1="289.30" x2="516.45" y2="291.10" stroke="#000" stroke-width="0.6"/><line x1="518.82" y1="289.30" x2="518.82" y2="291.10" stroke="#000" stroke-width="0.6"/><line x1="520.76" y1="289.30" x2="520.76" y2="291.10" stroke="#000" stroke-width="0.6"/><line x1="522.40" y1="289.30" x2="522.40" y2="291.10" stroke="#000" stroke-width="0.6"/><line x1="523.83" y1="289.30" x2="523.83" y2="291.10" stroke="#000" stroke-width="0.6"/><line x1="525.08" y1="289.30" x2="525.08" y2="291.10" stroke="#000" stroke-width="0.6"/><line x1="532.52" y1="289.30" x2="532.52" y2="291.10" stroke="#000" stroke-width="0.6"/><line x1="536.22" y1="289.30" x2="536.22" y2="291.10" stroke="#000" stroke-width="0.6"/><line x1="538.84" y1="289.30" x2="538.84" y2="291.10" stroke="#000" stroke-width="0.6"/><line x1="540.88" y1="289.30" x2="540.88" y2="291.10" stroke="#000" stroke-width="0.6"/><line x1="542.54" y1="289.30" x2="542.54" y2="291.10" stroke="#000" stroke-width="0.6"/><line x1="543.95" y1="289.30" x2="543.95" y2="291.10" stroke="#000" stroke-width="0.6"/><line x1="545.16" y1="289.30" x2="545.16" y2="291.10" stroke="#000" stroke-width="0.6"/><line x1="546.24" y1="289.30" x2="546.24" y2="291.10" stroke="#000" stroke-width="0.6"/><line x1="553.52" y1="289.30" x2="553.52" y2="291.10" stroke="#000" stroke-width="0.6"/><line x1="488.74" y1="289.30" x2="488.74" y2="291.10" stroke="#000" stroke-width="0.6"/><line x1="490.18" y1="289.30" x2="490.18" y2="291.10" stroke="#000" stroke-width="0.6"/><line x1="491.62" y1="289.30" x2="491.62" y2="291.10" stroke="#000" stroke-width="0.6"/><line x1="493.06" y1="289.30" x2="493.06" y2="291.10" stroke="#000" stroke-width="0.6"/><line x1="494.50" y1="289.30" x2="494.50" y2="291.10" stroke="#000" stroke-width="0.6"/><line x1="495.94" y1="289.30" x2="495.94" y2="291.10" stroke="#000" stroke-width="0.6"/><line x1="497.38" y1="289.30" x2="497.38" y2="291.10" stroke="#000" stroke-width="0.6"/><line x1="498.82" y1="289.30" x2="498.82" y2="291.10" stroke="#000" stroke-width="0.6"/><line x1="500.26" y1="289.30" x2="500.26" y2="291.10" stroke="#000" stroke-width="0.6"/><line x1="485.67" y1="289.30" x2="485.67" y2="291.10" stroke="#000" stroke-width="0.6"/><line x1="484.04" y1="289.30" x2="484.04" y2="291.10" stroke="#000" stroke-width="0.6"/><line x1="482.41" y1="289.30" x2="482.41" y2="291.10" stroke="#000" stroke-width="0.6"/><line x1="480.78" y1="289.30" x2="480.78" y2="291.10" stroke="#000" stroke-width="0.6"/><line x1="479.15" y1="289.30" x2="479.15" y2="291.10" stroke="#000" stroke-width="0.6"/><line x1="477.52" y1="289.30" x2="477.52" y2="291.10" stroke="#000" stroke-width="0.6"/><line x1="475.89" y1="289.30" x2="475.89" y2="291.10" stroke="#000" stroke-width="0.6"/><line x1="474.26" y1="289.30" x2="474.26" y2="291.10" stroke="#000" stroke-width="0.6"/><line x1="472.63" y1="289.30" x2="472.63" y2="291.10" stroke="#000" stroke-width="0.6"/><text x="463.60" y="211.80" font-size="6.3" text-anchor="end" fill="#222">10<tspan dy="-2.4" font-size="4.4">5</tspan></text><text x="463.60" y="233.20" font-size="6.3" text-anchor="end" fill="#222">10<tspan dy="-2.4" font-size="4.4">4</tspan></text><text x="463.60" y="256.80" font-size="6.3" text-anchor="end" fill="#222">10<tspan dy="-2.4" font-size="4.4">3</tspan></text><text x="465.00" y="271.90" font-size="6.3" text-anchor="end" fill="#222">0</text><text x="463.60" y="286.30" font-size="6.3" text-anchor="end" fill="#222">-10<tspan dy="-2.4" font-size="4.4">3</tspan></text><text x="471.00" y="298.30" font-size="6.3" text-anchor="middle" fill="#222">-10<tspan dy="-2.4" font-size="4.4">3</tspan></text><text x="487.30" y="298.30" font-size="6.3" text-anchor="middle" fill="#222">0</text><text x="501.70" y="298.30" font-size="6.3" text-anchor="middle" fill="#222">10<tspan dy="-2.4" font-size="4.4">3</tspan></text><text x="526.20" y="298.30" font-size="6.3" text-anchor="middle" fill="#222">10<tspan dy="-2.4" font-size="4.4">4</tspan></text><text x="547.20" y="298.30" font-size="6.3" text-anchor="middle" fill="#222">10<tspan dy="-2.4" font-size="4.4">5</tspan></text><text x="448.30" y="248.61" font-size="7.8" text-anchor="middle" transform="rotate(-90 448.30 245.80)">BV421</text><text x="510.40" y="310.51" font-size="7.8" text-anchor="middle">EGFR-RFP</text><rect x="466" y="267" width="2.2" height="5.5" fill="#111"/><rect x="484" y="289.3" width="6" height="2.2" fill="#111"/><clipPath id="cpF2"><rect x="594.6" y="201.6" width="86.29999999999995" height="87.3"/></clipPath><marker id="dm8" markerUnits="userSpaceOnUse" markerWidth="0.7" markerHeight="0.7" refX="0" refY="0" overflow="visible"><rect width="0.7" height="0.7" fill="#3030ff" fill-opacity="0.55"/></marker><path d="M654.2 272.6l-13.8 14.6-3.4-17.8 11.4 8.8-13.9 3.7 6.7-2-0.6-11.9 5.5-8.4 4.7 19.9-8.3 5.9-9.9-9.3-0.2 4.8 5-9.2 7.8 6.3-4 4.4 0.8-11.7-3.5 11 10-11.3-14.9-7.9 18.3 11.7-4.3-4.9-3 5.5-4.4 1.1-1.6-6.7 1.8 5.3-3.3-7.7 0.7 11.3-2.3-15.5 9.4-4.1-3.9 21.4 2-26.9-7 15.3-3.1 0.4 1.9 9.3 6.9-9.6-8.5-0.1 10.7-14.3-9.3 25 3-18.2 4.1 9.1-8.6-6.9-5.3 17.2 19.4-18.5-8-3.8-2.8 23.8 13.4-17.6 3.4 8-12.9 1.7 1.7-17.4 13.9 22.6-19.4-18.3 10.9 9.9-1.4 3.3-9.2-4.7-2.5-7.2 1.3 16.4 5.4-16.4 1.3-3.9 13.5 22.4-21.7 0.6 7.3-28-5.9 14.9 9.9 1.9-2.6-25.5-10.4 20.4 5.2 15.4 3-19.4 4 20.9-1.1 6.1 0.9-19.3-3.9-5.2 3.4 7.2-3.1-13.6 5.4 24.6-2.3-7-8.8-17.3 5 5.6-4.3 4.3 3.9 12.7 4.1-2.3-2.8-13.4-1.3 7.4-2.9-5.5 12.5 8.3-8.8-6.8-5.9 21.6 3-14.9 8.5-6.6 6.5-7.2-4.5-3.1-9.7 19.3 7.2 0.8-15.1 6.9 14.9-23.6-6.3 16.1 2.9-18-8.9 17.4 9.6-1-9.9-3.1-2.2-4.9 18.8-1.6-16.4 1 13-14.1-8.9 23.6 2.7-16.4 0.6 11.7 6.7-1.9-4.1 7-7.9-5.8 2.2-0.4 11 2.4 0.2 6.4-10.9-12.5 8.1-4.4-5.7 8.3 6.4-1.2-12 7.6 10.8-3-8.2-2.1-4.3 8.8 11.3-7.5-0.2 3-12.4-9.3-4.9 17.3 13.1-7.7 3.4-14.3-5.9 0.4 3.7 24.1-3.1-13.9-0.8 13.6 5.7 5.7 5-20-4.6 1.5-4.7 4.6-2.2-15.4 5.3-8.4-14.4 33.3 13.8-24.1-1.3 6.1 0.5 14.8-1.5-12.8 0.5 7.7-7.6-5.5 12.7-14.4-5.9 4.6 2 7.8-3-9.6-5.9 17.5 12.6-5.5-5.1-17.6-0.2 18.6 3.8-9 7.9 1.8-10.4 9.3 3.5-23.4 7.8 8.4-12.9 10.9 9.2-15.9-7 25 5.7-41.3-5.3 39.2 5.1-3-10.2-12.7 1.5 6.5-0.7-7.4 1.8 23.8 8.4-17.2-3.9 4.6 1.4-1.9-5.3-15.2 1.8-5 2 19.1-0.3 11.3-5.5-7 1-7.4-4 5.5 10.8-7.2 1.8 14.9 5.1-6.1-29.8-2.7 23.4 16.3-1.6-24.4 12.5-3.1-18.7 6.2-1.9-2.6 6-0.5-10 10.8 0.2-0.7 11.9-20.5-13.5 9.4 3.3 1.4 13.8-12.1-3.6 22.4-11.3-4.6 16.1 3.2-7.9-10.2-2.6 0.5 3 7.5-1.5-1.5 7.6-4.8-3.6 8.5-8.7-10.7 2.1 14.7 7.8-4.7-8.3-9.1-2.2-6.3-8.5 14.2 19.4 7.4-5-9.7-1.3 12.6-4.1-6.1 2 4.9 3.1-25.1-6.6 7.6 7.4 6.8 9.7 1.2-13.4-3.4 3.2-2.4 9.4-15.9-8.9 29.7 8.8-3.2-3.3-11.3-0.5 4.7-6.6-6.1-1.7 14.8 10.7-11.2-7.1 12.7-1.5-15.1-12.5-3.7 12.3-6.6 15.9 18.7-11.1-9.5 6.8 10.7-9.2 4.7-9.8-6.8 9.3 10.7 9.8-17.2-9.5-3.6-2.9 9.8 0.7-4-6 15.8 5-30.1 2.9 5.8 4.9 21.6-1.1-18.8-11.2 5-5-2.4 9.5 4-2.5 19.2 9.6-9-11.2-9.7 9.8 17.3-6.2-25.9 9.4 10.3-6.5 15.7-12.2-28.8-2.4 3 16-0.1-8 5.3 12 10.3-6.1 6.6 10.9-3.3-10.9 1.6-4.4-8.6-7.5-8.2 15-3.3-4.3 8.2-0.6-8.2 18.1-2.9-11.4 16-10.4-12.8 9.6 5-13.3 21.5 5.4-14.3 9 0.3-13-6.9 7.9-6 0.4 13.4 0.6-8.9-6.9 2.2-2.6-4.1 8.4 9.1 3.9-1.4-9.8-22 10.9 11.2 1.7 6.9-4.7 18.4 4.3-25.5-0.3 12 1.4 6.8-5.6-0.1 0.1-14.6 0.4 12.9 5.1-5.9-10.3-1.6 12-5.2-14.5-11.5 17.4 11.3-7.9-9.4 12.4 21.8-14.6-4 2.5 12-13.5-29.3 7.8-0.9 2.8 12.4 1.3 3.5 1.5 6.1-3.1-18.3-1.2-6.1 6 7.3-14.8 39.5 6.4-39.6 6.9 3.4-4.7 13.2 7.7-2.2-11.3-9.4 1.8-23.9 6.1 33.5 6.9-10.6-18.5 16.8-2.5-11.2 3 4.6-0.2-22.4 9.1 18.2 4-1.5-5.7-3.4 1.5 8 2.4 1.5-1.5-9.2-0.5 9.7-0.4 8 5.5-8.7-13.7-6.2 3.8 4.1 4.6-4.4 14.7 4.3-21.5 4.8 9.9-10.3-9.1 9.2 3.4 8.9-3.7-16.9 16-4.9-9 3.2-5.3 9.7 8.9-2.5-10.1-8.9 5.9-18.2-9.7 28 6.2-0.5 3.9-0.2 0-10-7.1-13.9 0.4 16.7-5.8-3.5-2.3 12.2 11.3 8.7 8.2-6.1-3.9-10.4 0.6 9.9-3.4-11.9-0.2 11.6-0.1-6 10.3-5.2-12.1 8 9.3-2-15.7 11.1 2-13.1 6-0.6-8.5 14 18.2-9.3-7.8-1.2 1.1 16.2-5.3-40.1 5.8 8.7-6.8 8.1 11.9 17.5-0.2 2.1-11.8-10.8-1.1-8.3-3.8-6.8 0.3 17.8 16.4-1.5-2.9-8.5 4.8 14.6-6.2 5.8 2.2-23.1-1.3 10.9-6.9-14.4 4.2 13.7 4.4-13.6-4.7 11.9-6.7 16.7-0.1-22.5 23.7 18.5-23-1.1 1.3-1.3 4.3-14.5-0.8-9.3 6.6 13.2-8.6 5.3 6.5-10.9-3.5-3 0-3.3-1.6 38.4-4.1-45.8 2.1 25.7-3.8-11.8 4.2 15.1 3.4 0.8 0.6-20.8-8.2 8.6 2.3-2.3 2.5 8 9.9-6.2-6.6 8.4 0.9-2.8 5.2-9.8-4.5 15-6-5.3 13.1 0.4-10.8-8.6 7.9 10.3-4.7-10.1 1.4 15.4 4-8-10.5-24.6-5.9 26.5 10.4-0.9-2.2-4.3-1.2 6.9 1.6-20.8-9.5 16.5 9.3-10-1.7 8.8 3.5-8.5-2.4-5.1-1.6 8.6 6-12.2 2.6 15.5-7 6.2-4.7 5.1 1-8 11.3-7.9-17.3 2.5 10.2 0.7 1.3 12.2 1.1-19.8-14.9 3.8 13.2-13.9-14.4 29.9 9.6-22.1-2.7-0.7-6.3-6.1 22.2 19.8-12.6-4.8-7.6-0.9 2.8-9.3 5.8 7.6 5.1 15.3-4.1-24.3-7.3 14.9 16.7 10.9-7.3-22.3 7.8 16-1.4 0.1-6.3-13.1 6.3 6.3-8.7 6.8 6.9 1.9-15.9-13.3-1.2-7.8 4.3 14.6 9.7 0-2.2 4.6-5.2 6.4 0.8-2.3 0.2-2.1 4.1-10.7 5.7 14.2-0.5-0.9-7.1-13.6 1.1-1.2 3.6-7.9-9.9 8 6.5 4.5 3.4-2.2-0.7 7.4-5.4-4.9-2.2-8.2-0.5 18.9 13.9-26.3-8.3 24.4-7.5-8.6-4.7 1.9 12.2-8.5 8.9 7.2-10.6 13.3-3.7-20.1 10.1 8.5-6.7-1.7 1-28.7 2.6 22.3-3.6 8 6-8.9 0.8 4.3-5.4-9.2-2.8 25.5 5.2-11.9-17.1-4.5 12.7-5-0.8 15.3 7.6-7.3-10.7 6.1 12.8-1.9-7.2-17.6 3.3 16.5 5.3-25.9-6.9-3-4.5 21.7 5.3 17.8 " fill="none" stroke="none" marker-start="url(#dm8)" marker-mid="url(#dm8)" marker-end="url(#dm8)" clip-path="url(#cpF2)"/><marker id="dm9" markerUnits="userSpaceOnUse" markerWidth="0.7" markerHeight="0.7" refX="0" refY="0" overflow="visible"><rect width="0.7" height="0.7" fill="#2a2aff" fill-opacity="0.6"/></marker><path d="M649.5 255l-0.5-1 1.8-9.6-3.3 9.1 0.1 1.8-1.7-1.3 3.1-1.3-1.1 0.5 3.9-6.4-1.1-1.1 2.8 3-3.3-0.7-1.1 2.9 2.1-0.2-4.7 4.5 1-2.6 3.4-0.4-0.4-3.6 0.3-1.7-0.4 0.6-3.9 10.6 2.9-6 2.4-2-2.8 2.8-1.6 2.1 4.4-6.9-4.1 5.9-0.5 3.6-0.1-2.1 0.9-4.2 0.8 4.8-2-0.8 0.8-2.1-1 1.8 2.5-2.9-0.6 4.6 2.3-10.5-0.5 5.7-3.7 2.5 6-6.1-6.5 8.9 0.2-4.1 0.2 2.7-0.3-1 3.3-3.5 1 0.6-0.5-3 0.3-1.4-2.7 9.5-0.9-2.9 6.2-4.3-6.6 5.8 1.3-2.9-0.7 5.9 1.6-0.4-2.4-0.6 8.1-11.1-2.9 0.9-0.2 3.7-1.5 4.2 2.1-4.7-4.5 8 6.2-10.2-2.8 0.3-2.2 0.7 1.7 3.3-0.7 1.2 1.4-5.6 2.7 0.4-8 5.7 1.6 2 2.8-2.5 2-8.1-3.9 10.8 0.1-2.1-0.1-3.1 2.5-1.3 0.2-0.9-1.2 0.3 0.9 4.4 0.6-7.5-2.6 1.9 0.5 2.6-1.7 7.6 0.3-4.3 0.8-0.6-1.1 1.4-2.4 0.1 2.1 2.4 5.4-9-5.2 3.9 0.5 2.6-1.6-1.1 1.2 3.4-0.2-4.2 3.2-3.6-2.1 3.5 0.4-3.5-0.5 3.3 1-1.3 2.6-6.8-1.5 8.5-3.5 4.7 1-2.5 2.9-2.2 2.3-2.3-4.7 2-1.2 4.2 1-6.9 2.7-5.9 3.2 2.7-4.7 1.9-0.8 6.4 3.8-8.1-3.3 4.7 2.9 0.8-1.6-3.2-1 7.2-2.2-1.8 4.3-4.4-3.2 6.1-0.3-1.3 0.7-0.4 3.8-7.3-2.6 2.5 1.6-4-1.8 1.6-1 11.3 0.8-5.2-1.7 2.4 " fill="none" stroke="none" marker-start="url(#dm9)" marker-mid="url(#dm9)" marker-end="url(#dm9)" clip-path="url(#cpF2)"/><g filter="url(#bl2)" clip-path="url(#cpF2)"><path d="M633.6 287.7 L632.2 266 C632.2 259 635.5 255.2 640.5 255.2 C645.5 255.2 648.8 259 648.8 266 L646.6 287.7 Z" fill="#0a0aff"/><ellipse cx="640" cy="277" rx="3.4" ry="9" fill="#10a8ff" opacity="0.75"/><ellipse cx="640.1" cy="267" rx="6.2" ry="8.6" fill="#00c4ff"/><ellipse cx="640.1" cy="267" rx="4.8" ry="5.9" fill="#18e858"/><ellipse cx="640.1" cy="267" rx="3.0" ry="3.7" fill="#d8f400"/><ellipse cx="640.1" cy="267" rx="2.0" ry="2.4" fill="#ff9a00"/><ellipse cx="640.1" cy="267" rx="1.25" ry="1.5" fill="#ff1800"/></g><rect x="633" y="286.4" width="14" height="1.4" fill="#c02030" opacity="0.7"/><path d="M650.7 256.8 L679.9 256.8 M650.7 256.8 L650.7 281.5 L679.9 281.5" fill="none" stroke="#333" stroke-width="0.8" stroke-dasharray="2 1.5"/><text x="655.80" y="253.82" font-size="7" fill="#111">0.46%</text><rect x="594.6" y="201.6" width="86.29999999999995" height="86.1" fill="none" stroke="#555" stroke-width="0.8"/><line x1="591.10" y1="287.70" x2="594.60" y2="287.70" stroke="#000" stroke-width="1"/><line x1="591.10" y1="270.20" x2="594.60" y2="270.20" stroke="#000" stroke-width="1"/><line x1="591.10" y1="253.20" x2="594.60" y2="253.20" stroke="#000" stroke-width="1"/><line x1="591.10" y1="235.90" x2="594.60" y2="235.90" stroke="#000" stroke-width="1"/><line x1="591.10" y1="218.90" x2="594.60" y2="218.90" stroke="#000" stroke-width="1"/><line x1="591.10" y1="202.00" x2="594.60" y2="202.00" stroke="#000" stroke-width="1"/><line x1="594.60" y1="287.70" x2="594.60" y2="291.20" stroke="#000" stroke-width="1"/><line x1="611.20" y1="287.70" x2="611.20" y2="291.20" stroke="#000" stroke-width="1"/><line x1="628.10" y1="287.70" x2="628.10" y2="291.20" stroke="#000" stroke-width="1"/><line x1="645.60" y1="287.70" x2="645.60" y2="291.20" stroke="#000" stroke-width="1"/><line x1="662.60" y1="287.70" x2="662.60" y2="291.20" stroke="#000" stroke-width="1"/><line x1="679.50" y1="287.70" x2="679.50" y2="291.20" stroke="#000" stroke-width="1"/><line x1="592.80" y1="282.43" x2="594.60" y2="282.43" stroke="#000" stroke-width="0.6"/><line x1="592.80" y1="279.35" x2="594.60" y2="279.35" stroke="#000" stroke-width="0.6"/><line x1="592.80" y1="277.16" x2="594.60" y2="277.16" stroke="#000" stroke-width="0.6"/><line x1="592.80" y1="275.47" x2="594.60" y2="275.47" stroke="#000" stroke-width="0.6"/><line x1="592.80" y1="274.08" x2="594.60" y2="274.08" stroke="#000" stroke-width="0.6"/><line x1="592.80" y1="272.91" x2="594.60" y2="272.91" stroke="#000" stroke-width="0.6"/><line x1="592.80" y1="271.90" x2="594.60" y2="271.90" stroke="#000" stroke-width="0.6"/><line x1="592.80" y1="271.00" x2="594.60" y2="271.00" stroke="#000" stroke-width="0.6"/><line x1="592.80" y1="265.08" x2="594.60" y2="265.08" stroke="#000" stroke-width="0.6"/><line x1="592.80" y1="262.09" x2="594.60" y2="262.09" stroke="#000" stroke-width="0.6"/><line x1="592.80" y1="259.96" x2="594.60" y2="259.96" stroke="#000" stroke-width="0.6"/><line x1="592.80" y1="258.32" x2="594.60" y2="258.32" stroke="#000" stroke-width="0.6"/><line x1="592.80" y1="256.97" x2="594.60" y2="256.97" stroke="#000" stroke-width="0.6"/><line x1="592.80" y1="255.83" x2="594.60" y2="255.83" stroke="#000" stroke-width="0.6"/><line x1="592.80" y1="254.85" x2="594.60" y2="254.85" stroke="#000" stroke-width="0.6"/><line x1="592.80" y1="253.98" x2="594.60" y2="253.98" stroke="#000" stroke-width="0.6"/><line x1="592.80" y1="247.99" x2="594.60" y2="247.99" stroke="#000" stroke-width="0.6"/><line x1="592.80" y1="244.95" x2="594.60" y2="244.95" stroke="#000" stroke-width="0.6"/><line x1="592.80" y1="242.78" x2="594.60" y2="242.78" stroke="#000" stroke-width="0.6"/><line x1="592.80" y1="241.11" x2="594.60" y2="241.11" stroke="#000" stroke-width="0.6"/><line x1="592.80" y1="239.74" x2="594.60" y2="239.74" stroke="#000" stroke-width="0.6"/><line x1="592.80" y1="238.58" x2="594.60" y2="238.58" stroke="#000" stroke-width="0.6"/><line x1="592.80" y1="237.58" x2="594.60" y2="237.58" stroke="#000" stroke-width="0.6"/><line x1="592.80" y1="236.69" x2="594.60" y2="236.69" stroke="#000" stroke-width="0.6"/><line x1="592.80" y1="230.78" x2="594.60" y2="230.78" stroke="#000" stroke-width="0.6"/><line x1="592.80" y1="227.79" x2="594.60" y2="227.79" stroke="#000" stroke-width="0.6"/><line x1="592.80" y1="225.66" x2="594.60" y2="225.66" stroke="#000" stroke-width="0.6"/><line x1="592.80" y1="224.02" x2="594.60" y2="224.02" stroke="#000" stroke-width="0.6"/><line x1="592.80" y1="222.67" x2="594.60" y2="222.67" stroke="#000" stroke-width="0.6"/><line x1="592.80" y1="221.53" x2="594.60" y2="221.53" stroke="#000" stroke-width="0.6"/><line x1="592.80" y1="220.55" x2="594.60" y2="220.55" stroke="#000" stroke-width="0.6"/><line x1="592.80" y1="219.68" x2="594.60" y2="219.68" stroke="#000" stroke-width="0.6"/><line x1="592.80" y1="213.81" x2="594.60" y2="213.81" stroke="#000" stroke-width="0.6"/><line x1="592.80" y1="210.84" x2="594.60" y2="210.84" stroke="#000" stroke-width="0.6"/><line x1="592.80" y1="208.73" x2="594.60" y2="208.73" stroke="#000" stroke-width="0.6"/><line x1="592.80" y1="207.09" x2="594.60" y2="207.09" stroke="#000" stroke-width="0.6"/><line x1="592.80" y1="205.75" x2="594.60" y2="205.75" stroke="#000" stroke-width="0.6"/><line x1="592.80" y1="204.62" x2="594.60" y2="204.62" stroke="#000" stroke-width="0.6"/><line x1="592.80" y1="203.64" x2="594.60" y2="203.64" stroke="#000" stroke-width="0.6"/><line x1="592.80" y1="202.77" x2="594.60" y2="202.77" stroke="#000" stroke-width="0.6"/><line x1="599.60" y1="287.70" x2="599.60" y2="289.50" stroke="#000" stroke-width="0.6"/><line x1="602.52" y1="287.70" x2="602.52" y2="289.50" stroke="#000" stroke-width="0.6"/><line x1="604.59" y1="287.70" x2="604.59" y2="289.50" stroke="#000" stroke-width="0.6"/><line x1="606.20" y1="287.70" x2="606.20" y2="289.50" stroke="#000" stroke-width="0.6"/><line x1="607.52" y1="287.70" x2="607.52" y2="289.50" stroke="#000" stroke-width="0.6"/><line x1="608.63" y1="287.70" x2="608.63" y2="289.50" stroke="#000" stroke-width="0.6"/><line x1="609.59" y1="287.70" x2="609.59" y2="289.50" stroke="#000" stroke-width="0.6"/><line x1="610.44" y1="287.70" x2="610.44" y2="289.50" stroke="#000" stroke-width="0.6"/><line x1="616.29" y1="287.70" x2="616.29" y2="289.50" stroke="#000" stroke-width="0.6"/><line x1="619.26" y1="287.70" x2="619.26" y2="289.50" stroke="#000" stroke-width="0.6"/><line x1="621.37" y1="287.70" x2="621.37" y2="289.50" stroke="#000" stroke-width="0.6"/><line x1="623.01" y1="287.70" x2="623.01" y2="289.50" stroke="#000" stroke-width="0.6"/><line x1="624.35" y1="287.70" x2="624.35" y2="289.50" stroke="#000" stroke-width="0.6"/><line x1="625.48" y1="287.70" x2="625.48" y2="289.50" stroke="#000" stroke-width="0.6"/><line x1="626.46" y1="287.70" x2="626.46" y2="289.50" stroke="#000" stroke-width="0.6"/><line x1="627.33" y1="287.70" x2="627.33" y2="289.50" stroke="#000" stroke-width="0.6"/><line x1="633.37" y1="287.70" x2="633.37" y2="289.50" stroke="#000" stroke-width="0.6"/><line x1="636.45" y1="287.70" x2="636.45" y2="289.50" stroke="#000" stroke-width="0.6"/><line x1="638.64" y1="287.70" x2="638.64" y2="289.50" stroke="#000" stroke-width="0.6"/><line x1="640.33" y1="287.70" x2="640.33" y2="289.50" stroke="#000" stroke-width="0.6"/><line x1="641.72" y1="287.70" x2="641.72" y2="289.50" stroke="#000" stroke-width="0.6"/><line x1="642.89" y1="287.70" x2="642.89" y2="289.50" stroke="#000" stroke-width="0.6"/><line x1="643.90" y1="287.70" x2="643.90" y2="289.50" stroke="#000" stroke-width="0.6"/><line x1="644.80" y1="287.70" x2="644.80" y2="289.50" stroke="#000" stroke-width="0.6"/><line x1="650.72" y1="287.70" x2="650.72" y2="289.50" stroke="#000" stroke-width="0.6"/><line x1="653.71" y1="287.70" x2="653.71" y2="289.50" stroke="#000" stroke-width="0.6"/><line x1="655.84" y1="287.70" x2="655.84" y2="289.50" stroke="#000" stroke-width="0.6"/><line x1="657.48" y1="287.70" x2="657.48" y2="289.50" stroke="#000" stroke-width="0.6"/><line x1="658.83" y1="287.70" x2="658.83" y2="289.50" stroke="#000" stroke-width="0.6"/><line x1="659.97" y1="287.70" x2="659.97" y2="289.50" stroke="#000" stroke-width="0.6"/><line x1="660.95" y1="287.70" x2="660.95" y2="289.50" stroke="#000" stroke-width="0.6"/><line x1="661.82" y1="287.70" x2="661.82" y2="289.50" stroke="#000" stroke-width="0.6"/><line x1="667.69" y1="287.70" x2="667.69" y2="289.50" stroke="#000" stroke-width="0.6"/><line x1="670.66" y1="287.70" x2="670.66" y2="289.50" stroke="#000" stroke-width="0.6"/><line x1="672.77" y1="287.70" x2="672.77" y2="289.50" stroke="#000" stroke-width="0.6"/><line x1="674.41" y1="287.70" x2="674.41" y2="289.50" stroke="#000" stroke-width="0.6"/><line x1="675.75" y1="287.70" x2="675.75" y2="289.50" stroke="#000" stroke-width="0.6"/><line x1="676.88" y1="287.70" x2="676.88" y2="289.50" stroke="#000" stroke-width="0.6"/><line x1="677.86" y1="287.70" x2="677.86" y2="289.50" stroke="#000" stroke-width="0.6"/><line x1="678.73" y1="287.70" x2="678.73" y2="289.50" stroke="#000" stroke-width="0.6"/><text x="590.00" y="204.30" font-size="6.3" text-anchor="end" fill="#222">10<tspan dy="-2.4" font-size="4.4">5</tspan></text><text x="590.00" y="221.20" font-size="6.3" text-anchor="end" fill="#222">10<tspan dy="-2.4" font-size="4.4">4</tspan></text><text x="590.00" y="238.20" font-size="6.3" text-anchor="end" fill="#222">10<tspan dy="-2.4" font-size="4.4">3</tspan></text><text x="590.00" y="255.50" font-size="6.3" text-anchor="end" fill="#222">10<tspan dy="-2.4" font-size="4.4">2</tspan></text><text x="590.00" y="272.50" font-size="6.3" text-anchor="end" fill="#222">10<tspan dy="-2.4" font-size="4.4">1</tspan></text><text x="590.00" y="290.00" font-size="6.3" text-anchor="end" fill="#222">10<tspan dy="-2.4" font-size="4.4">0</tspan></text><text x="594.60" y="297.50" font-size="6.3" text-anchor="middle" fill="#222">10<tspan dy="-2.4" font-size="4.4">0</tspan></text><text x="611.20" y="297.50" font-size="6.3" text-anchor="middle" fill="#222">10<tspan dy="-2.4" font-size="4.4">1</tspan></text><text x="628.10" y="297.50" font-size="6.3" text-anchor="middle" fill="#222">10<tspan dy="-2.4" font-size="4.4">2</tspan></text><text x="645.60" y="297.50" font-size="6.3" text-anchor="middle" fill="#222">10<tspan dy="-2.4" font-size="4.4">3</tspan></text><text x="662.60" y="297.50" font-size="6.3" text-anchor="middle" fill="#222">10<tspan dy="-2.4" font-size="4.4">4</tspan></text><text x="679.50" y="297.50" font-size="6.3" text-anchor="middle" fill="#222">10<tspan dy="-2.4" font-size="4.4">5</tspan></text><text x="575.40" y="248.11" font-size="7.8" text-anchor="middle" transform="rotate(-90 575.40 245.30)">770LP</text><text x="639.40" y="311.21" font-size="7.8" text-anchor="middle">Her2-GFP</text><clipPath id="cpG"><rect x="35.8" y="346.5" width="259.5" height="172.5"/></clipPath><path d="M37.8 346.5H295.3V518" fill="none" stroke="#555" stroke-width="0.9"/><marker id="oc1" markerUnits="userSpaceOnUse" markerWidth="4.6" markerHeight="4.6" refX="2.3" refY="2.3" viewBox="0 0 4.6 4.6" overflow="visible"><circle cx="2.3" cy="2.3" r="1.45" fill="none" stroke="#000" stroke-width="0.85"/></marker><path d="M57 484.7l50.8 7.5 9.4-23.4-70.1 17.1 76.6 0.1 10.5-1.2-22-0.6 11.3-15.3 2.7 17.1-43.5-2.2 13.3 1.2 30.6-12.3-53.7 13.5 49.3-1.5-26.6-7.5 17.5 8.9-18.8-3.3 6.4 0.8 29.2 1-36 3.6 47.3-4.9-85.2 3.8 53.3-7.6 16.1-8.5-16.2 6.7-33.5 0.3 13 12.4-10.2 0.5-2.6-6.4-16.6 4.4 38.4-0.9-5.5-9.5-9 11.3-0.4-4.4 33.6-4.5-32.8 0.5 19.4-6.9-39.9 5.3 28.8 9-17.8-5.5-36.3 6.9 61.8-8.5 18.4 3.2-32.7-11.1 40.2-7-57.7 11.8 14.1 12.1-31.3-1.3 52.4-19.6 45.8 17.1-44.6-1.9 12.6 2.2 6.5-0.5-67.8-6.8 61.9 9.2-5 0.1-40.3-7.7 37.3 9.2-28.7-0.1 13.4 0.2-40.4 0.6 41.4-20.1-1.8 8.9-14.1 10 25.9-9 13.5-1.5 3.9 10.5-12.9-3 13.7 2.8-74.9-1.8 40.5-9.3-5 8.6-18.5-1.5-18.8-1.1 39-7.2 33.7-7-17.3 18.8 3.9-13.9-1.5-7.3-41.4 12.9 19 8.9 47-13.2 38.4-2.1-93.1 4.6 5.8-3.7 45.4-14.6-21.7 28.8-30.1 0.7 41.4-22.8-6.5 7.1 9.1 14.6 3-1.5-15.3-2-21.8-4.1 37.3-4 6.4 6.1-27.2 5.8 30.8-11-77.6 5.2 23.7-1.8 28.2 2.7-27.4 7 37.4-6.3-27-6.2 28.2 8.6-76-2.4 31.8-8.7 57 1.4 10.8 10.3-18.6-1.7-44.3-4.6 4.1 0.4 4.9 4.5-31-1.1 2.3 2.3 61.9-0.6 0.1-27-24 16.7-19.7 13.9 5-13.3-29.2 3.1 59.2 2.1 18.2-8.9-24.9 0.8 6.1 11.6-21.4-1.4 22.3-10.6-44.8 15.4 50.4-3-0.1 3.9 27.8-6-28.8-1.3-28 7.1 39.2-10.5 27.1-19.5-44.7 12.3 12.2 12.1-40.9 0.4 7.6-0.3-6.9-4.9 3.7 9.6 18.2-20-20.5 12.1 24.2-8.4 20.6 6.4-37-0.1 8.4-5.9 17.2 17.9-4.2 0-8.2-8.3 8.4-18.4 15.8 0.5-61 20.5 28.4 3.3-28.7-4.1-8.2 4 49.3-2.3-39.8 0.8 8.2-1.9 8.1 2.4 6.8-10.1-29.8 8.8 26-10.3 22.2 10.7-40.7-0.8 31.7 0.5-30.9-9.9 60.3 3.2-13.3-1-18.9-9.3-38.8 18.5-19.4-4.5 64.6 7-36.3-9.6 24 5.2 6.1-3 25.6-7.6-62.9 14.7 38.6-0.2 11.8-7.3-18.6-12.2 24.9 12.3-21.1-0.8 34.1-6.1-17.2 10.3-34-3 29.7-6.2-2.5-6.9-40.2 18.8 59.3-21.3-25.6 24.3 8.4-6.4-25.6-9.2 6.9 2.7 39.6 10-28.8-3.4-13.2 5.4 27.8-2.4-30.3-15.3-4.1 10.4 24.2-11.5-36.5 16.7-13.8-3.2 67.2-10.8-13.7 13.9 13.8-5.8-38.3-1.1-20 6.7 11.9 1.2 32.4-8.2-26.3 7.1 28.5-4.8-24.2 0.3 10.7 4.5 18.1-24.5-59.1 27.7 60.5-11.5-31.8 9.7 54.6-32.2-54.8 30 66.4-8.3-50.4 2.1-13.8 9.4-32.5-7.8 41.8 5.1 5.5 1.4-33.3-3.9 61.4-16.9-15.9 20.1-58.8 1 64.2 0.2-29.6-13.3-30.3 12.6 35.3-12 59.6 3.8-59.8 9.1 27.3-28.8 6 8.6-16.8 9.2-43.9 1.9 57.4-19.4-21.6 20.7 22.7-4-49.7 6.9 7.8 5.1-40.3-8.3 38.4-4.6 8.9 13.9 37.6-0.8 33-7.4-45.4-11.9 1.1-5 29 3.6-77.4 21.4 58.8-13.1-15.9-1.4-50.3 12.2 62.3-11.8-23.8 2.1-12.5-2.8-28.4 9.7 90.7-1.1-32.4-8.4-2.5-9.1-22.8 17.4-8.3-1.2 57.6 6.1-21.5-4.7-44.4 4.9 50-17.5 4.5-3.2-19.1 11.2-13.3-7.9-6.7 0.9 26.6 5.8-25.9 5.9 30.7-20.6 25.4 10.5-42 3.2 18.1-5.4-67.2 17.7 71.4-8.9-64.5-3.1 3.7 2 52 9.5-58.1-10.2 21.6-0.2 30 7-57.9 2.4 46.8-19.1-37.6 20.9 27.9-0.9-5.7-10.4 47.1-17.7 10.4 1.3-43.5 22.7-14.7 1.3-6.1-1.1 21.4-8.7-45.7 6.1 39.6 5-19.1-13.3 37.5 11.7-55.8-6.1 52.6 9.7-17-14.1 1.4 1.6 16.8 5.7-24.6-4.5-14.3 0.2-30.7 6 47.6 1.8-14.5 2.1 41.4-11.7 8.3-3.8-23.2 13.7-47.3-3.8-8.8 6.8 55.5-4.2-38.2 4.4 51.2-15.5 15.4-3.6-6.2-9.7-10 23.5 3.9-1.2-52.8-8.3 21.9 5.6-22.7 7.4 46.5 0.3-51.1-1.3 54.7-17.8-18.1 16.7-1 0.7 3.5-10.2-15.8 9.8 40.5-18.6-50.7 21 71.8-13-59.5 11.5-6.9-5 47.1 8.4-46-2.6 13.4-3.7 33.4-6.6 8.4 10-37-2 31.7-6.8-60.9 5.2-14 5.1 53.7-18.2-42.3 14.3 50.8-6.4-29.1 8.8 36.1-3.5-45.3-2.9-2.2-7.2 22.7 2.1-13.2 8.5-12.9 1.4 18.9 4.6 23.5-4.8-56.7 3.9 24.9-2.2-0.1-4.8 20.9 7.8-59.6-8.4 25.1 6.3-13-7.2 27.3-2.7 26.7 7.7 48.2 1.6-29.5-21.3-56 12.6 35.4 6.6 6.4-9.9-44.7 7.3 49.3-14.8 4.8 13.8-77.2 0.1 19.4 3.4 47.3-6.9-24.9 11.6-12.2-10-8.1 8.1 37.8-17.2 15.8 9.3-42.9-8.6 12.2 9.4-27.8-2.3 33.7 6.3 29.2 0.1-38.4-4.4-18.6 7.9 44.1-2.4-40.4 3.8 32.3 0-36.5-11.4 51.1 1.2 4.2 7.2-15.1-4.4 12.4 6.9 4.5-0.2-12.4-15.9-6.1 13.2-14.7-11.2-25.7 2.9 59.3 1.6 18.6-16.1-14.8 20.7 1.9-1.4-31.5 0.2 53.1-21.9-27.4 26.5 3.9-25.7-50 17.1 14.7 8.7-24.6-4.5 32.4-9.7-13.7 11.4 31.6 4.9 7.2-1.2 3-2.9-37.4-6.9 33.2 6.7-55.6-3 84.3 5.8-72.6-5.5 13.8 6.8 4-22.5-25.6 20.1 56.7-20-31.6 12.4 18.6-7.3-43.4 1.5 26.1 16-7.1-10.6 26.5-13.4-25.9 13.4 17.9-7.1 12.2 4.4 54.1-1.3-119.5 11.9 29.7-6.3 28.9 6.4 11.9-6.5-43.6 7.5 91-5.1-67-4-7.1-16.5-20.6 21.2-21-8.7 36 1.7-1.5 8.6 25.9-25.9-65.7 24 54.7-10.3 4.7 7.4 8.2-1.7-9.4 7.8-21.2 2.4 47.6 0.4-50.8-6 52.3-23.5-60.9 23.6-13.6-3.5 34.1 9.3 24.7-6.9-65.7 5.6 62.7-4.7-74.9 6.1 90.6-7-66.6-2.1 13.7-0.2 18.6 0.9-9.7-11.9-26.1 10.1 37.9-8.4 9.9 7.4 11.3-2.7-41.4 3 3.7 7 23.7-14.6-52.8 18.8 8.9-4.6 48.3-15.9-49 16.5 56.1-2.7-82.4 0.9 6.6-0.6 53.7-4.9 5.2-9.3 8.6 15.8 7.8-3.7 16.9-11.6-47.8 15.4 63.9-11.6-102 8.8 16.3-4.5 38.4-17.1-17.7 27.9 17.1-12.5-44.5 7.1 19-0.9-25.5 6 90-13.1-32.3 12.2-50.4-12.5 43.4 2.4 11.7 5.8-61.2-4.4 70.4 6.2-5.8-15 0.5 5.2-0.4 12-53.3-7.1 12-3.2 17.4 3.3-37.8 4.7 48.6-3.1 16.6-26 1.5 15.5 46.1 10.7-54-6.1 9.1 11.1-7.9-26.1-33.4 26.6-0.9-5 1.2-10.2 10 10 0.9-12.4-5.5 18.4-28.6 0.1 24-0.5 40.5-0.5-61.5 1.8 6.2-3.8 46.6-6.6 5.4-18.5-54.3 16.3 30.5-3.4-38 14.9 42.8 1.8-12.8-20.4 1 18.9-32.1-14.4 33.8 7.9 18.9-6.2-39.4 7.7 24.8 3.6 2.4-8.2 63.7 8.1-93.4 1.1 25.1-0.1 54.4-10-59.3-7.7 14.6 6.1-54.4 11.7 21-1.9 54.4-15.6-56.7 4.7-1.2 4.7 60.3 2.3 7.8-12.8-26.6 14.8 27.7-16.5-2.8 7.1-28.2 8.1 6.6-14.1-1.6 11.8 13.5-20.7-13 27-35.3-13.9-35.1 13.8-5.4 1.5 42.5-14.8 2.8 3.1 33.6-15.9 43.2 19.9-34.6-18.5 34.8 13.6-66.9 11.7 33 1.2-54.6-5.5 41 2.4-30.8-0.7-13.2-6.8 2.4 9.9-12.1-7.3 4.6-7.1-20.3 13 65-24.6-26.8 27.9 22.4-14.3-49.3 9 7 5.3-2.1-8.8 10.9 2.2 24.4 4.1-17.4-7.7 9.3 1.7 61.1-17.8-72.4 21.7 16.8-3.3 14.7 5.6-25-1.1 9.9-13.4-10.2 7.7 29.9-20.7-3.7 24.1-20.4 3.6 18.8-8.9-26.2 9.1 23.7-10.3 10.2 4.7-55.6 4.7 53.7-17.7-7.6 20.4 1.9-0.5-29.7-4.6 19.4 3.7-42.6-7.4 44 2.7 6.5-17.4-17.4 22.2 25.2 1.2-8.5-4.8-6.9-12.2 19 5.2-51.8 12.1 46.3-1.8-45.4-5.3 8.1-1.1 20.9-1.3-17.8 0 5.7 8.7 69.1-15.6-23.8 2.8-4.1 2.9-11.1-9.7-43.3 20.2 39.6-17.8-43.7 9.1 20.2-6.8 17.1 8.7-47.8-3.2-11.8 9.6 60.4-24-18.6 10.7 16 11.6-1.6-10 20.9-9.3-8.2-5.5-25.9 18.5 6.1 2.3-18.8 5.2 64.5-4.2-49.8-11.5 29.2 12.9-59.5-1 28.6-15.7 13.2 19.9 9.2-0.9-8-7.4-0.3 2.3-13.2-3.2 36.6-15.7-69.5 14.4 1.5 4.3 62.7-3.7-41.6 9.5 34-14.2 36.4 14.8-29.2-4-24.6 2.3 3.9-22-22 15.9 36.9-12.9-15.9 3.4-18-1.6 47.1 17.1-54.4 0.7 24.1-22.3-23.2 7.8 24.3 6.2 22.9-7.8-45.5 13.9 0.8 1.3-15.1-5.1 64-13-3.9 20.3-37.8-13.1 17.8-4.4-44.2 12.8 59.1-13.5-67.1 15.1 15.2-4.5 24.4 1.9-9.8 2 49.5-10.3-31.5 10.3 16.7-14.4-31.9 9.9 34.3 1.7 14.1-26.7-23.4 26.6 17.8-16.3 1.9 12 16.4-9.2-41.8 10.9-25.8 8.1-16.1-8.4 99.4 6.4-79 2.5 37.3-16.3-5.7-12.3-35.7 24.3 35.4-20.6-40.1 16.4 54.5-0.3-64.7 5.8 57.5-7.5-44.3 2.8 6.5-0.2 17.3 1.1-14.4 1.8-36.1 3.4 61-17.9 8.2 20.4-40.4-5.3-19.1-0.4 57.6-8.6 3.7 13.1-7.8-17.2-16.4 2.4-18.2 10.9-13.5 1.4 62-14.6-21 17.6 17.3-17.7-5.9 12.1-27.1 3.9-27.8 2 57.8-4.3-28.6 4.2-19.3 0.5 47.7-8.6-4 1.6-24.2-1 2.5 0.2 35.6-13.3-66 19.6 53.1-10.3-7-9.2-6.4 20.3-21-17.5 23.2 13.4-6.8-13.6 23.7-9.3-26.3 24.4 17.6-16.6-18.7 17.4 34.4-13.1-15.1-0.9-20.9 12.8 5.2-1.6-23.1-4.1-0.9 6.9 54.5-6-51.3-2.4 17.2 1.5 3.5 7.2 18.7-10-0.2 0.5-1.4 11.8-23.2-5.7 53.4-15.8-25.8 5.6 12.8 10-41-7.3-33.1 9.7 68.3-15.7-67.2 17.7 21.7-4.3-14.4-7.5 56.9-3.4-34.3 0.3-0.3 7.5 35.2 5.4-55.8 3.3 38.6-18.1-26.6 2.2-19.3 14 60.8-0.1-27.4-5.5 2.2 1.6 16.5-10.1-9.8 13-39.8-5.6-5.6 3.7 38.2-0.3-50.7 4.3 109.6-2.7-90.9 2.7-5.6-7.9 59-15.5-15.9 19.1 0.4 2.6-15.1-6.2-1.5-4.1-6.7-0.3 53.2 10.3-61.1-2.8 60.5-6.3-51.5 9.8 41.2-9.4-0.8 10.8 0.7-24.6 10.2 22-1.5-2.5-47.1-5.6 5.9 2.8-19.7 2.9-4.3-7 34.4 9.1-37.8-4.3 39.3 6.1-26.5-8.3 57.6-7.3-68.2 17.3 66.6-17.8-21.7 2.1 19.8 12.7-25.4-16-9.6 16.7 30.2-7.4-63.8 3.1 62.2-13.1-55 17.5 59.3-6.6-34.4 2.1 16.7-4.8 29.8 7.1-25.4-10.5 8.4 8.3-17.6-1.1-15.3 1.1 41.2-20.1-28.2 15-46.1 7.7 70.5-10-27.3 10.8 16.7-2.2 4.8-0.1-16.8-19.6-11.9 9.2 22.5-4.3-38 13.3 0.5 2.2 53.1-0.6 20.8-2.2-54.2-1.7-2.8-5.2-8.7 4.3 62.1 0.8-19.6 9.3 5.5-11.4-59.9 2.8 22.5 1.7 15-3.1-42.7 8 14.4-2.1 40.6-15.7-11.6 2.9 28.7-11.3-7.8 18.1-21.2 5.1-0.2 0.8 29.8 1.6 0.7-29-48.4 29.3-2.2-17.1 43.3 17.4-1.5 0.1-12.2-27.2-36.2 22-33.2 5.1 72.8-13.3 29.9 7-22.4-3-18.2 11.2-21.1-18.8 39.1 0.4-5.8-8.1-25.2 26.5 34-31.1-42.9 19.7-7.6 0.8 47.6-3.8-33 14.6-45.6-7 54.1-9.9-29.4 15.4 22.3-11.5 10.4-7-30.5 10.4-18.4 1.5 32.7 1.4 0.2 4 31.5-14.1-54.8 7.4 37 7.9-6.9-2.4-1.5-1.7-3.1 2.6 22-11-7.5 8.2 8-6-23.1 10.9 15.8-27 12 20.7-57.2-3.9 4.5 4.9 44.7 4.3-6.5 1.6 15.8-17.1-1.5 9.1-29-11.8-7.1 19-28.8-10 51.6-3.2-5.7 12.6-28.6-0.4-26.6 0.2 51.5-8.4-28.9 2.2-11.1 7.8 56.6-0.1-45.1-4.1 45.5-11.9 14.9 0.4-74.4 15.6 25.8-2.2 36.4-6.8-17.1-3.3 16.3-11.9-52.3 18 22.3-9.2 38.8 14.2-45-0.5 32-1.1 14.9-1.4-65.8 4.3 50.2-25.3-49.2 20.2 69.5-2.7-37.8 8.5-17.3-6.7 2.4-4.8 18.7 10.5-16.2-7 37.6-4.3-37 1.1 34.9 9.8 13.1-4.6-8.1-24.2-67.5 25.2 45.2-16.4-18.4 17.2 39.4-3.6-23.8-6.8 26.4 4.6-12.1-12-47.4 18.5 59 0.7-8.9-0.9-40.9 0 33-10.5-0.7-7.5 8.9-5.7-30.5 17.6 23.2-13.7-27.5 5.5 38-0.2-11.5 3.4-46.4 12.8 68.1-2.8 1.5-22.7-63.4 19.7 36.5-18.3 22.6 2.4-48.8 16.4 4.7 0.3-5.7-0.1 25.1-0.8-24.4 2.9-27.8-2.8 77.2-4 4.8-6.4-50.9 1.5 43 15-20.8-0.7-47.2-4.4 51.9-8.8 14.9-5.6-26.8 16.1 10.5 1.5-4.2 0.7-38.7 0.2 76.1-28.3-16.8 26.7-52-0.9 57.2-11 2.7 15.8-34.3-2.9-17.3-3.2 17.9 0.8 19.3-0.2-21.3 4.4-32.4 1.2 51.1-7.6-24.4 4.9 7.8-5.2-28.9-7.3 23.2 7.5 15.7-10.6 14.5-9 37.4 26.9-31.1-0.9-25.2-3.7-13.3 1.3 3.1-2.4-16.8-5 35.6-3.2-42.4 5.8 10.4 6.1 48.5-7.9-55.4-0.5 59.2-4.5-49.7 8 55.3 4.1-47.9-13.5-0.1 8.1-14 6.7 97.9-6.3-71.4-8-15 1.7-8.5 12.6-13-4.9 34.3 3.3 16.4-15-39.2 9.1 55.5-17.7-11.7 22.3 9.1-3.6-65 1.7 3.2-3.6 45.6-0.7-28.5-2.5 36.1 10-38.9-3.8 28.5-2.4 11.1-7.4 3.4 14.9-67.1-3.5 59.1-5.5 7-14.9-70.3 22.1 20.7 3.2 50.5-1.9-67.2 1.1 66.7-16.5 12-13.7-83 29.6 34.3-1.6 0.4 2.7 36.6-19-63.9 7.9 58.5-15.9 1.8-1 2.8 20.3 18.7-22.5-94.7 31.3 31.5-6.5 33.4 3.4-56.8 2.6 67.8-20.3 6-5.8-66.3 14.4 9.6 12 20.6-4.2 20.4 1.8-66.4-6.4 63.7 4.5-3.6-8.4-30.9 8.1 30.4 4.6 2.2-25.8-5 13.1-13.4-7.9 33.5 13.7-50.6 6.4-10.5-0.1 63.2-5.6-40.1-2.2-1.8-10.1 32.9 10.8-14.1-4.3 14-4.4 20.8-6-23.3 20.3-28.7-6.8-32.2 6.2 14-3.9 60.8-10.4-39.1 0.5 15 15.6 30.6-29.9-7.3 8.3-29.4 17.9 30.3 4.4 25-26.2 1.9 23.7-70.2-9.2 1.3-0.3 9.3 5.4-9.7 0 46 5.1-31.8-5.4 22.8-0.6-40.7 4.7 46.9 2.7-10.1-13.6-8.1 4.3 15.9 6.7 2.8-10.7 2.5-2-7.8-8.5-23.8 19.9 28 0.2 3.1-18.1-50.6 20.6 46.6-22.1-40.8 17.5 14.1 3.2-19.3-0.2 39.6-19.9 0.2-3.6-32.4 16.3 4.3 1.7 13.5-5.3-2 4 0.1-4.4-42.4 13.5 61.3-7.7-54.5 5.8 21.3-18-22.2 13.2 50.6 0.4 12.4-1.1-19.3 0.5-15.6-3.6 32.6 7.4-67-2.2 42.2 5.6 2.6-11.4-57.4 12.4 94.5-17.8-64.1 2 48.8-0.3-2 6.8-1.8-0.4-84.2 8.5 45-8.2-29.9 4.5 46.6 0.9 48 1.7-22-0.1-57.8-10.9 22-1.5 13.4 1.6 22.2-9.5-4.3 20.3-71.8 2.3 35.2-4.4 4.7-5.3 28.9 8.7 3.5-11.6-53.8 4.2 34.2-1-13.8-3.9 13.2-11.1 12.6 20-10.1-2.2 13.9 2.7 7-7.5-9.9 1-56.6-0.8 69.3-6-39 6.9-13 7.4 50.4-17.6-23.6 13.6-1.3-3.8 10.9-13.2 5 11.8-31.9 10.1 50-7.2-20.8-14.2-38.8 14.8 10.3 7.6 12-20.1 17.6 4.6-35.2 14 18.7 2.3-43-1.2 24.8-10.6-17.8 0.3 20.1 9 17.1-10.6 19.3 7.3 7.2 3.3-28 2.4-23.8-10.5 52.6 7.9-14.1-5.8-18.2-1.1 1.5 4.8 25.3-9-35.6 6.8 16.3 7.1-47.3-0.5 58.3-26.5-24.4 26.8-27.8-0.5-0.3 0.8 67.5-28.3-27.3 15.3-11.6-9.1 36.1 14.5-8.2-7-47.1 0.5 51.6-1.7-7.2 4.9 36.2 3.6-37.5 7.3-1.2-5.9-0.8 0.2-23-2 74.4 0.4-59 3.3 61.5-27.1-44.1 24.4-13.7-2.1-50.6 4.2 48.4-15.7-37 18.3 27.7-8.7 19.1 5.9-67.1 1.9 93.3-22.6-47 15.9-7.2-13.6-0.2 21.5 32.9-24-19.3 7.3-27.5 14.9 23.3-1.7 17.9-1.1-42.5-6.1-17.5 4.8 66-6.8 3.8 7-8.2 6.8 17.4-20.6-14.9 13.8-35.6-3.5-4.4-5.2-12.2 16.2 31.7-8.1-12.7-3.8-28.7 4.2 87.4-21.8-72.3 21.1 52.9 2.2 6.7-3-29.2 3.7-2.2 0.2 9.7-16.9 17.9 19 1.4-1.6-72.8 3.4 11.6-3.6 47.9 1.2-45.1-2 22.1 4.7 28.4-1.2-20.2-3.4-35.4 3.4 4.1-2.8 39.2 1 1.9 3.7-58.5-1.7 74.5-21.6-11.4 0.3-46.5 18.4 5.2-2.4 47.4 5.1-55.3-2.8 48.1-0.5-1.2-2-43 0.4 36.4 1.7-12.7-4.4-9.5-5.8 61.2 11.1-105.7-0.9 89.6-26-2 19.1-7.2-0.2-2.5-13.6 11.7 22.9-30.4-6.5 13.2 3.6 8.1 0.4-15.5 1.4-3-8.1-17.4 5.7 10.1-15.2-13.9 17.3-22.6-7.7 31.4-0.9 4.1-12.1-28.3 14.7 1.1 0.5 37.9 5.2 16.5-1.1-30.2 3.3-36.4-4.2 83.5 0.1-10.6-13.7-29.5 13.1-25.4 5.4-13.5 0.5 67-21.7-62.8 16.9 30 3.3 1-1 31-25.4-37.3 23.9-21.8-1.9 11.2 0.5 36.2-7.4-23.4-0.6 40.1-15.3-18.7 27.7-47.7 1.1 40.5-2.3-10.9-6.9-29.1 2.1 23.9-10.9 6.7 12.8 26.4-20.6 8 18.2-61.3 6.2 47.3-7.9-42.4 3.9 49.7-5.9-16.1 1.5 23.9 4.6-30.3 5.5-19.6-6.3 53.9-6.5-79.7 7.9 50.8-3.6 11.3 9.5-16.1-9.7-17.8-1.5-18.8 9.2 61.8-19.8-6.8 20.5-44 0.1 35-0.3-19.1-8-28.1 6.5 21-2.4-30.5-2.8 42.8-10.1 6.7-6.7 8.1 23.4 22.9-10.3-30.9 2.1-40.1 4.6 42.9-20-7.6 20.8 21.7-3.8-18.3-12.8-9.9 6.7 18.6 2.4-18.6 9.1 0.5-4.9-7.9 0.8 47.1-3.1-3.7 2.6-29-9.7-10.5 1.2 25.3-7-64.3 22.6 17.3-0.7 53.3-17.3-1.2 10.1-53.4 2.8 15.9 2.6 20-13.7 2.5-2.8-7.8 3.4 14.5 0.9-5.5 11.3-21.1-15.6 39.2 9.8-75.8 1.6 66.6-3.9-34.2 7.5 38.4-19.2-0.3 6.4 54.2 5.1-63.6 7.7 46.1-9.1-97.3 7.2-6.7 3.9 18 2.5 52.2-18.9-16.5 6.5 12.8-18.4-21.4 26.9-45.8-5-6.3 8.3 54.6-9.8 15.4 7.3 17.1 0-60.8-13 62.6 10.9-12.2-8.5-29.7 11.7 39.1-4.7-42.9 3.4-6.3 2.2 37.6-1.9-14.5-22.6-35.2 12 53.3 8.4-16.8 5-8.7-2.1-35.9-5.2 5.1-1.3 0.5 6.1-5-1 41.7-4.3 11.3-4.5 19.6-4.5-48.1 14.7 50.5-12.3-6.7-2.4-40.1 15.3 12.2-12.8-34.6 9.2 55.5-3.5-59.4-4.9 3 1.4-6.4 11.3 61-5.8-26.5-2 28.2 2.4-30.1-15.5 22.3 19.3 10.8-5.2-58.8 7.7 42.7-15.8 16.9 11.3-1.8-13.2-84.2 13.4 88.6 0-13.5-9-48.6-1 55.3-2.7-6.6-5.3-38.2 21.4 38.1-19.6-14.7 16 24.3-3.3-59.7 7.2 32.9-2.6-28.5-7.6 25.3-6.5-2.5 14.3 37.6 2.9-4.4-18.7-38.8 5.2-9.3 7.7 24.1 2.6-37.7-9.1 62.4-11.4-47.2 6.9-6.1 1.9-31.8 3 88.8-18.5-33.5 5.9-48.4 14.2 65.9-12.5 12.7-1.7-5-10 13.2 5.4-79.9 15.6 6.3 0.3 53-17.8-15.2 5.5 34.1-3.8-25.7 3.5-33 1.7 30.5-1.2-29.7 0.1 12.2 7.8-7.2 1.7-13.5-3.7-9.7 8.7 55.7-12.4-28.5 3.7 15.7-9.8-8.6 9.4-8.2-13.1-29.5 20.5-10.3-14.8 18.4 12.9 67.7-10.6-69.9 10.2 42-12.6-55.3 17.7 19.4-4-25.1 5.8 82-16.3-71.3 13.3 75.9-20.1-2.1 3.8-28.8 3.4-19.7 9.2 8.4-7.1-40.6 3.4 7.7-12.7-8.2 18-1.1 2.3 79.8-21.5-73.7-1.1 31.4 18.5 50.7-9.6-30-5.9 18.9 7.7-52.1 4.6-25.4 4 45.7-16.7 5.2 11.6 0-1.3-22.7 3.5 15 0.5-25.5 1.9 22.3-5.1 2.7-0.2-30.9 8.2-9.3-8-3.1 11.3 61.1-15.4-52.5 11.8 63-15.2-8.8-3 9.6-0.2-20.5 0.8 7.5 3.3-34.9 2 36.1-3.4-61.7 17.6 71.3-22.5-57 20.1 9.8-2.3 36-4.8 26.6-4.8-77.2 9.3 58.8-8.5-24.3-1 42.6-1.6-67 3-0.8-4.9-16.5 7.7 7.3 4.7 58.7-4.8 10.5-3.4-31.3 7.1-11.2-1.6-10.8 0.8 29.9-4.7 39.5-4-38.2 2-41.8 11.4 55.5-9.9 21.8-8.7-13.6 6.1-5.3-2.1-30.7 11.3 10.8-3.1-11.5-3.1 13.7-3.8-38.8 15.3 0.5-8.6-7.8 9.6 15-6.3 20.4-0.3 8.2-3.2 175-48.1-82.4 16.6-0.3 0.3 21.2 18.9-50.8-22.1 8.8 3.3 10.5 1.2 3.8 4.8-45.5-0.3 0.8 4.3 5.4 0.7-27.5 4.3 7.6 0.5 11.9-0.5 44.8 0.6-11.2 10.4 3.4-1 4 3 4.6 2-32.6-9 5 0 " fill="none" stroke="none" marker-start="url(#oc1)" marker-mid="url(#oc1)" marker-end="url(#oc1)" clip-path="url(#cpG)"/><line x1="37.80" y1="346.50" x2="37.80" y2="518.50" stroke="#4a4a4a" stroke-width="1"/><line x1="37.30" y1="518.00" x2="295.30" y2="518.00" stroke="#4a4a4a" stroke-width="1"/><line x1="32.30" y1="518.00" x2="37.80" y2="518.00" stroke="#4a4a4a" stroke-width="0.9"/><line x1="34.80" y1="503.70" x2="37.80" y2="503.70" stroke="#4a4a4a" stroke-width="0.9"/><line x1="34.80" y1="489.40" x2="37.80" y2="489.40" stroke="#4a4a4a" stroke-width="0.9"/><line x1="34.80" y1="475.10" x2="37.80" y2="475.10" stroke="#4a4a4a" stroke-width="0.9"/><line x1="34.80" y1="460.80" x2="37.80" y2="460.80" stroke="#4a4a4a" stroke-width="0.9"/><line x1="32.30" y1="446.50" x2="37.80" y2="446.50" stroke="#4a4a4a" stroke-width="0.9"/><line x1="34.80" y1="432.20" x2="37.80" y2="432.20" stroke="#4a4a4a" stroke-width="0.9"/><line x1="34.80" y1="417.90" x2="37.80" y2="417.90" stroke="#4a4a4a" stroke-width="0.9"/><line x1="34.80" y1="403.60" x2="37.80" y2="403.60" stroke="#4a4a4a" stroke-width="0.9"/><line x1="34.80" y1="389.30" x2="37.80" y2="389.30" stroke="#4a4a4a" stroke-width="0.9"/><line x1="32.30" y1="375.00" x2="37.80" y2="375.00" stroke="#4a4a4a" stroke-width="0.9"/><line x1="34.80" y1="360.70" x2="37.80" y2="360.70" stroke="#4a4a4a" stroke-width="0.9"/><line x1="34.80" y1="346.40" x2="37.80" y2="346.40" stroke="#4a4a4a" stroke-width="0.9"/><text x="31.30" y="522.39" font-size="12.2" text-anchor="end">0</text><text x="31.30" y="450.89" font-size="12.2" text-anchor="end">5</text><text x="31.30" y="379.39" font-size="12.2" text-anchor="end">10</text><line x1="37.80" y1="518.00" x2="37.80" y2="524.00" stroke="#4a4a4a" stroke-width="0.9"/><text x="37.80" y="538.69" font-size="12.2" text-anchor="middle">0</text><line x1="123.80" y1="518.00" x2="123.80" y2="524.00" stroke="#4a4a4a" stroke-width="0.9"/><text x="123.80" y="538.69" font-size="12.2" text-anchor="middle">2</text><line x1="209.80" y1="518.00" x2="209.80" y2="524.00" stroke="#4a4a4a" stroke-width="0.9"/><text x="209.80" y="538.69" font-size="12.2" text-anchor="middle">4</text><line x1="295.80" y1="518.00" x2="295.80" y2="524.00" stroke="#4a4a4a" stroke-width="0.9"/><text x="295.80" y="538.69" font-size="12.2" text-anchor="middle">6</text><text x="6.60" y="439.82" font-size="14.5" text-anchor="middle" transform="rotate(-90 6.60 434.60)">-log score</text><text x="108" y="553" font-size="14.3">log<tspan font-size="10.20" dx="3.00" dy="3.6">2</tspan><tspan dy="-3.6">(fold change)</tspan></text><text x="165.20" y="338.63" font-size="14.8" text-anchor="middle">EGFR-RFP Screen</text><text x="44.6" y="359.90" font-size="11" fill="#e61e32">Ubiquitination</text><text x="44.6" y="372.45" font-size="11" fill="#12a64c">Neddylation</text><text x="44.6" y="385.00" font-size="11" fill="#343a9a">V-ATPase</text><circle cx="233.80" cy="367.70" r="2.5" fill="#ff2a12" stroke="none" stroke-width="1"/><circle cx="207.50" cy="391.90" r="2.5" fill="#1438ff" stroke="none" stroke-width="1"/><circle cx="161.80" cy="438.70" r="2.5" fill="#1438ff" stroke="none" stroke-width="1"/><circle cx="158.00" cy="446.30" r="2.5" fill="#ff2a12" stroke="none" stroke-width="1"/><circle cx="150.40" cy="454.70" r="2.5" fill="#1438ff" stroke="none" stroke-width="1"/><circle cx="154.00" cy="459.40" r="2.5" fill="#1438ff" stroke="none" stroke-width="1"/><circle cx="152.20" cy="470.50" r="2.5" fill="#22dd22" stroke="none" stroke-width="1"/><circle cx="152.20" cy="476.60" r="2.5" fill="#ff2a12" stroke="none" stroke-width="1"/><line x1="134.70" y1="479.20" x2="146.00" y2="487.00" stroke="#1438ff" stroke-width="0.6"/><circle cx="134.70" cy="479.20" r="2.5" fill="#1438ff" stroke="none" stroke-width="1"/><line x1="124.20" y1="480.40" x2="146.00" y2="492.50" stroke="#22dd22" stroke-width="0.6"/><circle cx="124.20" cy="480.40" r="2.5" fill="#22dd22" stroke="none" stroke-width="1"/><line x1="114.50" y1="487.10" x2="146.00" y2="498.00" stroke="#22dd22" stroke-width="0.6"/><circle cx="114.50" cy="487.10" r="2.5" fill="#22dd22" stroke="none" stroke-width="1"/><circle cx="126.80" cy="460.80" r="2.5" fill="#ff2a12" stroke="none" stroke-width="1"/><line x1="107.50" y1="454.90" x2="128.50" y2="465.70" stroke="#22dd22" stroke-width="0.6"/><circle cx="128.50" cy="465.70" r="2.5" fill="#22dd22" stroke="none" stroke-width="1"/><line x1="128.50" y1="450.50" x2="135.50" y2="465.40" stroke="#1438ff" stroke-width="0.6"/><circle cx="135.50" cy="465.40" r="2.5" fill="#1438ff" stroke="none" stroke-width="1"/><line x1="119.00" y1="466.00" x2="120.20" y2="471.50" stroke="#1438ff" stroke-width="0.6"/><circle cx="120.20" cy="471.50" r="2.5" fill="#1438ff" stroke="none" stroke-width="1"/><line x1="89.90" y1="488.50" x2="98.00" y2="497.50" stroke="#1438ff" stroke-width="0.6"/><circle cx="89.90" cy="488.50" r="2.5" fill="#1438ff" stroke="none" stroke-width="1"/><text x="238.70" y="369.22" font-size="4.5" fill="#ff2a12" stroke="#ff2a12" stroke-width="0.08">TCEB2</text><text x="212.00" y="393.62" font-size="4.5" fill="#1438ff" stroke="#1438ff" stroke-width="0.08">ATP6V1A</text><text x="165.30" y="439.02" font-size="4.5" fill="#1438ff" stroke="#1438ff" stroke-width="0.08">PQLC2</text><text x="161.00" y="451.72" font-size="4.5" fill="#ff2a12" stroke="#ff2a12" stroke-width="0.08">CUL2</text><text x="155.20" y="456.62" font-size="4.5" fill="#1438ff" stroke="#1438ff" stroke-width="0.08">ATP6V1B2</text><text x="156.20" y="461.82" font-size="4.5" fill="#1438ff" stroke="#1438ff" stroke-width="0.08">ATP6AP1</text><text x="146.40" y="465.82" font-size="4.5" fill="#22dd22" stroke="#22dd22" stroke-width="0.08">NEDD8</text><text x="154.50" y="483.32" font-size="4.5" fill="#ff2a12" stroke="#ff2a12" stroke-width="0.08">UBE2D3</text><text x="146.40" y="489.92" font-size="4.5" fill="#1438ff" stroke="#1438ff" stroke-width="0.08">ATP6V1E1</text><text x="146.40" y="495.22" font-size="4.5" fill="#22dd22" stroke="#22dd22" stroke-width="0.08">COPS2</text><text x="146.40" y="500.42" font-size="4.5" fill="#22dd22" stroke="#22dd22" stroke-width="0.08">COPS8</text><text x="119.80" y="456.12" font-size="4.5" fill="#ff2a12" stroke="#ff2a12" stroke-width="0.08">VHL</text><text x="93.30" y="454.32" font-size="4.5" fill="#22dd22" stroke="#22dd22" stroke-width="0.08">COPS5</text><text x="112.90" y="450.42" font-size="4.5" fill="#1438ff" stroke="#1438ff" stroke-width="0.08">RNASEK</text><text x="105.10" y="466.42" font-size="4.5" fill="#1438ff" stroke="#1438ff" stroke-width="0.08">ATP6V0C</text><text x="92.00" y="501.52" font-size="4.5" fill="#1438ff" stroke="#1438ff" stroke-width="0.08">ATP6V0D1</text><clipPath id="cpH"><rect x="374.3" y="345.8" width="260.90000000000003" height="174.09999999999997"/></clipPath><path d="M376.8 345.8H635.2V518.4" fill="none" stroke="#555" stroke-width="0.9"/><marker id="oc2" markerUnits="userSpaceOnUse" markerWidth="4.6" markerHeight="4.6" refX="2.3" refY="2.3" viewBox="0 0 4.6 4.6" overflow="visible"><circle cx="2.3" cy="2.3" r="1.45" fill="none" stroke="#000" stroke-width="0.85"/></marker><path d="M410.6 505.3l29.8-7.3-22.9-4.8 22.6-3.2-60.5 19.2 67.8-15.6-32.7 8.7 24-15.6-0.2 9.9-52.6 15.4 45-10.6 4.4-8.8 4.7 6.1-19.4-6.7-14.1 6.9-21 2.1 33.7-2.1 3.2-5.2 16.1-8.1 3.5 11.6-55.3 10.2 54.2-10.9-40.1 10.8-15-11.4 9.4 6.3 41.8-11.2-24.5 11.8-14.3 6.5-18.6 9 48.6-21.9-25.8 10.6-20.8-1 47-9-24.2 4.2-24.8-5.6 61.9 2-49 6.2 0.5 1.1 44.9-4.3-20.5-0.6-23.7 3.6 28.1 0.9-13.5-5.4 31.4-1.1-53.7 6.4 18-6.9 21.9-4.7-18.4-3.1-11.3 13.9 18.2 0.5 11.8-11.7 13.6-1.7-53.8 16.3 16.5-1.5 29-2.2 9.5-6.9-47.7 9.1 41.9-11 2-5.8-10.4 12.8 1.1 5.4-46.2-3.8 35.1-8.1-8.1 5.7-2.6 6-7.1 0.4-16.9 4.7 44.4-22.2 10.9 15.7 0.3-8.7 0.5-4.8-17.6 5.9 20-2-22.5 0.7-27.1 7.8 37.2-2.5-28.6-1.9-16.6 6.2 51.2-3.8-57.3 1.5 38.4-9.7-36.2 17.5 29.3-4.5 13.1-19.6-10.2 13-30.6 8 10.4-1 40.9-16.6 5.2 5.3-4.8 3.7 5.9-5.6-12.1 2-47.4 12.1 56.5-18.3-3.1 8.3 6.5-7.3-48.7 11.3-7.4 8.7 9.3-5 47.2-7.1 6.4-4-58.8 8.3-0.9-3.6-5.1 13.1 8.1-8-10.7 11.9 29.7-18.5 23 0.6-22.1 10.1 21.2-5.3-23.5-0.7-21.3 8.4-0.8-13.4 29.8-1.8-16.2 14.3 33.9-10.8-49.2-1.9 49-2.8-23.5 11.7-10.8-4 2.9 0.9 38.6-12.4-47.4 10.2 40.9-5.6-2.2-2.9 8.5-4.2-22.1 5.4-30.5 3.5-4.2 15.9 42.4-9.6-6.6-5.8 18.3-2.2-19.6-0.5-15.1 11.9-5.3-1.5 22.6-15.9-39.8 12.5 42.6-10.4-17.3 11.2 31-11.7 3.1 9.1-46.8 0.3-0.1-2.8 48.8-0.8-10-1.9-7.9 1.3 7.6 0.8-1.2 0.7-26.8 13.7-3-6.7 7.1-5-8.3 4-16.2-4.8 32.2 16.7 14.8-20.7-6.7 14.1 29.9-14.9-13.5 1-41 11.4 41.4-8.3-58 13.3 56.1-6.1-14.1-9.6-13.8 5-14 10.1 45.4-20.2-21.5 18.6 13.6-22.4-19.9 20-12.1-6.1 10.1 0-2.7 2.3 1.8 4.5 3.6-11.6 16.5-2.1-20.4 9 20.1-18.7-9.3 16.8-39.3 9.6 18.3 2.1 17.6-13.3-0.8-0.8-10.9 4 30.3-14.5-31.1 18.8 9.7-9.4 25-6.3-55.2 13.7 36-5.2 18.3-3.6-31.7-0.4-17.8 6.5 46.5-3.7-36.8 6.8-2-2.6 15.9 3.2 13.2-10.6-33.7-1.8 13.8 7.8 6.3-3.4 5.7-2.3-1.2 8.2-20.1-7.6 27.7 4.6 0.1-1.5-9.5 7.7 7.9 0-2-22.2 3.3 10.5-19.5-0.2 2.9 0 12 12.9 12.5-9.9-50.2 8.1 67.5-7.8-43.8-6.7-12.9 10.7 49.7-10.1-29.9 18.8 4.4-14.4 14.7 5.4-39.6-1.7 34.1-3.8-15.2-9.1-4.9 3.3 23.7 10.7-34.1 3.3 42.6-21.6-27.3 14.6 31.9-9.8-25.3 16.9 10.4-7.6-11.6 0.4-1.8 1 24.5-3.3-29.3 8.7-9.8 4.3-3.7-6.8 40.7-15-20.8 8.1 9.6 7.9-42.8 5.4-2.7-8.3 24.7-4.6 12.1 0.7 15.6 3.8-40.1 6.1 32.7-8.9-39.6 7.8 32.1-14.3-11.4 12.3-21 7.1 54.4-6.8-19.9-11.1 24.2-1.5-17.4 11.4-17.2-4.5 22.8-0.1-47.3 3.7-4.6 1.5 57.3 1.7-48.4-0.8 22.5-5.1 5.8-3.8-26.3 14.1 2.8-2 34.2-11.9-17.6 8.4 16.2-2.6-41.2 9.8 13.5-5.2 14.5 1.3 15.9-14.4-4.9 11.8-16.2-5.6 0.1-1.8-21.4 12.8-5.4-0.7 29.7-11.6 16.1 4.9-29.9-2.5-5.5 1 39.6-7.8-50.6 12.8 37.6 0.8 9.5-5.5 6.3-11.5 7.4 8.8-15.4-0.7 28.3-5.1-72.9 26 43.5-27-24.4 9.1 30.2-11.9-16.9 12.6-24.3 4 22.3-0.6-25.4 8.2 56.2-21.8-42.9 14.3 18.7-1.6-35.4 4.4 2.9-1.8 37.7-8.2-1 6-36.4 3.7 24.1-4.9 3.5 6.2-35.2-0.2 30.6 0.3 27.5-1.8-55.1 1.9 36-17.8-17.4 11.4 37.2-15.1-18.9 7.8-0.1 4.1 16.2-1.8-52.7 12.3 56.6-18.7-60.2 13.2 61.1-12.4-3.1 4.1-12.7-10.9 14.7 5.2-30.1 9.9 3.1-7.6 3.9 6 21.9 3.9-15.6-0.2-25.7-4.8 22.2-3.9-25.5 15.7-4.4-9.6 49.2-8-38.9 10.3 31.3-4.6-51.1 8.2 33.8-11.8-9.4 5.6-20.6 2.5 43-4-29 1.3 21.6-1.6 12.5-2.9-27.6 10.5 28.3-15.9-5.4-1.4-3.5 6.1-41.8 16.1 46.9-23.1-2.3 18.6-43.6 10.9 46.7-22.8-42.2 4.1 18.2 3.5-26-1.2 61-5.9-16.3 5.9-12.4 4.3-22.5-2.5 49-3.6-19.9 4.1 9.1-9.1-31.3 9.7-0.6 0.2 0.1 5.7-6.2 0.7-5-3-4.6 1.7 57.3-16.6-12.7 6.8-27.9 6.7 12.6-3.2 32.8-6-60 10.2 20.5-12-10.4 8.2 31.2-10-16.3 8.1-15.5 0.6 21.7-1 26 3.5-7.2-10.7-32.4 16.2-12-0.7 1.1-1 28.1-12.9 28.3 3.4-25.7-1-26.3 11.4 29.4-10.3 19.5-5-32.1 11.3 25.3-8-40.8 9-14.8-5.3 2.4 3.5 43.7-8.8-42.7 9.3 33.4-4.1 0.3-5.5 25-4.6-6.8 2.2 6.1-0.5-35.8 19.5-18.9-0.7 24.4-15.4 7.6 8.8 10.4-9.9 14.9-0.5-43 14.2-7.2 1.3 53.2-10.5-32.3 9.6-31 1 0 7.6 16.7-8.3 4.8-12.7-25.9 14.4 2.7-9.5 14.4-5.8-14.2 13.3 16.2-3.5 5.1-2.2 18.3-8.3-6.6 6.8 13.4-7.2 14.8 0.3-61.7 17.2-2.2-8.9 22-0.1 37.6-1.1-2.4-3.7-52.8 7 18.7-8.7-8.5 2.2 46.2-3.2-21.8-1-5.7 8.7 14.5-9-46.2 14.8 45.1-9.9-9 0.4-5.3 7.3-20.7-2.1 47.3-13-7.1 6.5-15.9 9.5 22.6-14.1 10.9-12.1-17.1 12-27 10.5 31.1-14.8 5.6 9.9-56.3 19.7 16.5-7.7 24.4-10.4-19.5 7.9 2.6-13.4 8.1 5.5 7.2-1.3-15.5-0.1 32.7 0.9 14.8-8.1-29.3 6.6-17.1 3.8 16.2 3.7-45.3-2.7 5.2 6.1 39.1-10.5-38.2 14.3-5.8-5.8 10.4-1.2 2.7-0.6 38.6-17.7-5 6.1 1.6 8.2-15.2-0.3 3.9-1.4-24 2.1 22.3-4.1-13.8 0.3-0.9-1.3-18.2 2.1 43.1-7.1-25.7 3.8 16.6 0.6 25.1 1.2-42.2 7.5 24.5-9.3-3.3 1.5-10.5 1-3.3 5.1-15-1.2 1.8-0.8-0.7 5.5 40-12.9-14.8-1.4-14.3 16.1-10.3-3.4 11-1.7 55.2-13.1-70.5 16.1-9.2-1.3 5.7 4.4 35.7-21.8 11.1 14.5-33.9-3.6 18.8 0.3-15.3 3.4-0.3 5.8 4.4 1.7 31.3-15.2-36.2 8.9 30.6-1.8-30 2 14-6.1 3.7 8 15.7-1.1 14.3-6.7-19.7-2.2-35.3 11.6-16.4 2.8 4.7-6.2 28.6-7 23.6 1.7 18-10.3-41.5 9.9-33.4 12.7 28.4-4.8-18.6-3.8 37.1 1.8-36.6-1.6 21.5-7.7-27 10.2 16.5 5.6-15.2-13.6-1 11.1 12.5-2.8 16.4 3.6 17.2-11.5-30.3 5.8 34.6-17.8-26.3 24.6 39.2-21.2-52.8 14.6 47.1-16.6-30 18.4-23.8-2.1 76-9-48.7-1.1 4.3 11 15.9-12.6-26 4.9-11.2 1.3-15.6 13.2 1.5-6.1 22.3 3 30.1-15.9-49.1 6 25 8.3-18.5-7.6 35.6-8.1-2.5 8.4-12.2-8.5 5.4 12.1 16.9-5.8-40.6 2.4 30.5-0.8-22.9 2.4-8.2 6.1-11.2 5.8-2.1-12.4 43.9 1.6 3.7-7.2-33.1 6.2 23.7-0.9-23.6 1.3 7 10.5-11.3-5.8 11.9-9.9-13.2 10.9 5.7-5.4-1.6 0.1 47.2-8-10.5 4.3-47.7 0.5 22.9 5.6-22.3-3.7 19 2.3-17.3-6.5 39.8-3.6 6.6 0.3-39.7 13.8 27.8-10.8 15.4 3.5 2.4-0.9-34-8.6-26.5 20 13.7-2.4 43.5-20.1 11.7 2.6-14.1-2.2 3.3 13.1-52.7 9.9 55.7-18.9-6.9-5.9-34.1 20.2-9.3 0.5 49-12.4 10.9-5.8-18.4-3.2-51.1 21.1 60.3-17.4-0.7-5.7-39.5 22.3-9.8-1.8 35.1-2.1-12.3 6.7 24.6-10 4.3-6.6-61 26.2 42.4-22.1-34.3 13.2 16.3-18.7 13.2 8.8-22.2-3.7 19.4 9 4.6-2.7-8-5.4 14.4-9.5-17.1 12.7 11.9-5.3 18 9.8-53.1 1 47-6-39.9 15.5 35.9-25.2-28.3-0.6 9.2 4.2 22.4-1.6-39.7 11.1 43.2-4.3-24.5 4.8 6.4-1.8 8.3-3.1-9.5 1-1.1-7.4 23.9 8.7-17.8 4.5-3-7.4 23.4-5.3-9.1 5.8-47.3 10.8 19.5-8.4 35.5-7.1-17.4 5.7-6.2-7 9.6 5-25.6 8.4 41.8-0.8-16.5-5-13.6-2-22.6 11 14.7-0.5 17.6-13.9-3.9 14.1 8.2-16.3 8.8 0.6-39.1 16.5-8.6-3.4-6-0.8 32.4-4.4 22.8-4.1-27.9 1.9 43.9-15-17.1 19.5 4-5.7-9.5 3.6 3.5-7.7-23.6 13.2-6.9-6.9 23.5-8.2-20.4 2.6-16-0.7 57.6-1.9-68.8 18.7 9.2-3.8 36.7-10.8-33.5 3.5-13.2 11.4 9.2-2.8 4-4.8 23-4.5-15.3 2.3 39.5-15.1 28.3 3.7-48.7 11.6-17.2 9.5 21.3-14.5 20.3 0.7-10.1-1.5 8.6 4.2-25.3 9.1 26.6-12.7-55.6 9.9-1.2 8 21.4-17.2 19.6-1-21.9 6.8 32.3-1.6-30.1 3.3 20.2-7.1 5.4-9.6-25.2 13.7-8.1 3.6 17.2 4.7-9.6-2.5 25.2-8.8-12.8 2.7 19-2.2-28.9 12.5 29-17.3-11.6 3.3-4.6 5.4-26.6-0.1-16.6 6.6 2.8 1.5 36.5-8.5 13.9 4.2-35.3 7.2 44.3-23.5-44.4 16.9 21.1 1.8-28.8-1.9 46.6-6.5 3.8 0.2-60.8 2.6 28.7 4.4-0.7-4-10.2 2.8 18.6-3.5 9.4-5.8 1.8-3.3-8.6 5.6-15.6 7.9 40.5-17.9-14.5 4.7-24.2 7.9 5.6-3.8-30.5 6.2 52.5-18.6-23.8 21 11.4-5.9-38 4.5 3.1-2.7 19.6-3.5 21.1-6-18.4 0.8-28.4 18.1 16.4-14.6 37.6-4-32 7.8 36.5-5.6-5.3-5.5-30.4 17.7 31.9-11.9-1.3-2.1 8-2.3-51.2 16.3 5.1-0.4 20.5-8.5 27.7-9.4-23.8 14.8 7.5-6.5 8.5 3.6-6.9-9.6-44.2 12.6 30.9 1.6-29 7.1 27.8-14-11.1-0.1 30.6 6.6-42.1 1.7 32.6-11.1 3.8 10.3-28.4 8.8-13.6-2 8-12.9 21.8-1.4-13.4 11.1-13.4-4 6.3-1.9-11 5.9 27.1-18.3-17.2 9.9 7 2.1-1.6-5.2-4.5 8.2 17.5-8.1-3.3 4.6 6.8 3.2 11.9-12.5 15-3.1-41.2 14.4 13.9-1.5 25.5-11.7-19.7 2.5-27.5 15.4-7.6-5.2 10.4-9.5 41.1 1.8-35.2-2.1 1.8 9.8-4.6-3.4-18 0.5 36.5-3.5-29.4 7.4-7.5 7.3 0-5.7-1.8 1.2 22.3-2.8 12.5-1.9-32.5 9.4 35.7-20.1-36.7 14.8 55.8-4.8-50.8 0.1 12.4 6.8-16.8-3.8 36.1-10.6 21.3 0.6-42.9 11.4 44.4-11.5-6-6.6 13.9-1.5-16.9 10.4-36.3 5.4 47.9-3.7-38.6-1.1 37.3-1-48.6 9.4 50-18.9-46.1 2.6 13.6 19.3 21.8-24.4-28.5 20.5-21.1 4.7 58-17.2-2.6-5.7-39.1 12.7 44.6-8.1-54.8 9.4 2.5 2.2 24.8 4.2 22.2-6.8-53.8-2 40.3-6.8-22.7 4.3 27-1.8-20.8 12.6 27.5-9.5-23.1-0.4-0.6 1.5-4.7 4 11.4-12.2-7.2 8.6-28 3.8 56.9-1.2-33.7 4.8-23.6 0.2 31.3-7.4 3 1.9-12-1.4 37.3-7.8-30.3 5.7 4.6-0.1 13.3-7.7-42.9 17.4 36.1-6.3 15.2-9.5 3.8 0.8-35.8 15.7-2.9-7 9.2-10.1-29.2 18.1 32.6-10.4 4.9-2.5-36.5 1 47.4 15.2 11.8-23.6-39.1 9.7-4.8 6.2 6.1-4.3 32.6-12.6-33.9 17.1-23-7.1 29.8-0.8 9.6 5.6-33.6 6.3 46.8-16.7-15.4 7.9-35.9 1.4 17.3 0.5 35.2-2.4-7.3-4.2-38.5 6.4 5.6-3.8 27.7-3.5 19.8 1.3-31.8-0.9 8.6-2.1-16.8 2.5-17.7 4 40.3-8.6 8.3 2.3 24 0.7-32.2-0.5 11.5-7.6 2.1 12.1-38.7 10.9-10.6-6.4-4.1-2.2-4.5 7.6 57.3-7.8-1.1-15.7-23.6 22.2-9.8-6 23.6-1.6-2.7-2.2-28.9 9.9 32.9-10.2-46.9 4.5 61.9-5-56.8 4.7-8 2.8 28.1-1-22.2-0.1 58.8-5.1-27.6-5-1.6 16.8 5.2-8.2 21-1.4-52.9 8.2 3.4 10.5 8.7-23.1 31.9-3.2 3.1 0.1-10.3 6.7-26 3-19.5 3.1 5.6 3.1 34-14.8-0.2 5.3 7.5-5.6-43.6 18.1 53.6-6.9 5.5-18.3 2.5 7.8-37 9.8-24.7 4.1 0.2-10.9 26.9-5.5 0.7 9.2 17.9-5.3-24.9 9.9 5.8-1.4 28.3-2.7-17.7-5.4 17.1 0.9-53.3 10 48.8-21.2-34.4 21.3 9 1.6-4.6-11.6 2.5 11 13.9-6.5-16.1 2.3 36.6 3.4-23.3-5.6-10.2-4 22.8 4.4-42.3 4.7-1.1-2.5 3.9-1.7 12.1-2.3 28.9 2.5-28.3 2.8-13.8 11.6 53.6-31.4-13 12.1 13.3-4.8-27.7 17.1-29.6-1.3 51.6-6.7-12.5 3.2-31.9 1.1 7.9-5.3 0.6 3.3 1.7 2.1 25.7-1.5-17.2-1.5 20.8-6-16.9 5.2 14-1.5-12.1-1.8-0.6-1.7-19.6 18 25.1-18.5-32.5 13.2-2.8 0.9 17.2-10.7-6.6-0.9 47.3 3.7-55.8 9.7 6.1-10 44.9 1.2-48.7-0.3 21.3-13.9 0.8 20-7.4-0.1 24.8-26.4 1.5 18.6-11.4-6.5-20.1 5.6-12.8 3.9 36-9.4-12.1 13.7 19.5-20.2-19.4 12.3 40.2-0.8-27.1-8.2 7.3-11.7 1.1 13.4 0.7 7.5-51.3 2.8 0.1 9.3 4.7-14.7 7.2 17.1 10-7 28.4-18.4 5.3 8.3-11.5-10.4 16.5 6-56.6 12.3-1.5 5.6 29.8-13.1-20.2-3.9 27.7 10.6-17.4-0.1 37.1-19.8-40.3 16.1 21.6-5.5-10.1 6.8 30.7-2.4-22.8-11.4-33.6 23.7-5.8 1.9 30.4-15-6.2 4.6-16.1 5.1 6.3-3.7 6.4-7.8 3.4 3.2 30.9-3.1 3.9 3.7-7.9-9.1 7.8-8.7-7.5 17.1-38.5 4.8-8.2 10 28.5-17.3-3 3.6 24.8-9 6.8 0.4 16.4-0.4-16.1 8.1-13.5-7.3-42.5 15.9 24-10.9 33-6.8-29.2 3.4 7.6 0.1-34.5 14.2 27.8-16.3 18.4-1.7-34.1 4.1 3.6 2.5-0.1 14.8 31.1-15.5-7.2 1.7-38.9 4.9 1.4 4.3-6.7-12.8 0.8 14.1 13.7-2.6 29.3-21.3-47.9 11.8 40.7 7.6-28.3 1.6 0.7-10.5 15.2 5.6-5.3 5.8 33.5-15.4-18.3 2.3-3.6 11.9 4.9-8.8-11.5 4.6-22.4 8.6-2.8-8.7 26.6 4.3 22.3-18.9-21.8 11.3 10.1 10.5 10.3-11.5 1.1-11.3 31.2 2.3-63 9.5-10.9 4.6 18.2-0.3-19.4 10.3 32.3-19-30.8-4.5-2.6 13.6 26.7-4.4 15.3 0.6 5-14.5-22.5 20.4-21.2-5.4 8.3 1.4 7.6 0.7 39.5-12.2-60.8 11.9 1.3 8.2 45.5-18.1-1.5 10.8-23.8-2.9 4.4 0.8 12.1 1.6-17.1-2.8 7.5-6 50.1-8.2-28.8 10-21.5 8.3 6.8-3.2-34.8 15.2 13.8-14.7 1.8-5.1 21.8 6.7 18.2-2.3 2.2-0.4-57.2 3.2 11.7-0.3 20.3 3.2-36.3-2.6 27.1-6.1-22.9 12.7 14 0.4 40.9-10.3-22.1 1-31.2 4.8 16.9-0.9-2-2.7-8.6 3.1 6.3-10.9 16.3 7.1-15.3-8.9 4 5.2 40.2 0.9-10.8 0.2-3.4 9.2 13.7-19.5-16.9 7.7-42.6 10.2 19.5-6.6-10.7 0.6 33.4-6.9-36.5 15.8 42-11.2 0.5 3.1-8.3 4.3 31.5-18.8-36.8 9.9-21.3 10.2-6.3-3.4 48.1-10-39.8 7.8 22.1 1.6-19.1 0.9-20.1 5.8 29 3.6 5.1-14-21 7.2 47.6-3.6-12.4 2.2-43 4.8 29.8-1.2 20.1-24.4-5.7 14.7-45 1.9 28.4-2.7-27.8 9.7 7.5-7.5-3.2-0.9 2.1 8.6 48.9-11.6 14.3-12.2-42.5 19.1 15.6-6.3-37.9-0.8 38.3 2.8 13.2-10.8-40.9 25.5-0.6-17.2 33.5 3.8-3-4-44.3 18.6 23.4-18.2-3.6-7.8 46.4 5.7-13.6 0.6-3.2 1-51.5-2.3 20.5 1.9 26.3 2.2-26.4-0.5-2.2 6.9-7-5.7 13.9 7.3 4.5-9.6-18-8 40.2 13.4-36.7-5 19.8-4.1-34 10.7 16 0.1 25.9-8-32.3 5.3 26.7-6.6 6.5-1.6-11.5 2.4-37.5 12.9 63.3-12.9-22.5 6.9-17.7 5.5-5.1-9.8 29.8-2.7-3.9 7.6 20.7-0.2-18.2-12.1-17.4 13.2-21.1 2.5 43-22.5-40.1 22 44.8-6.9-40.3 5.3 35.2-12-12.1-0.2 21.6 5.6-15.2-2.1-32.5 3.9 62.7-3.6-70.4 8.3 45.4-5.1-24.1 1.8-7.4 7-7.6 4.1 19-1 6.5 0.3 21.3-18.5-40.8 1.1 28.6 11.2-2-5.5 6.9-5.3 0.5-5.2-27 23.1 1.9-3.4 30.2-12.7-43.1 8.2-4.2-5.7 51.1-3-59.4 15.2 60.7-13.5-28.4-2.8-20.4 7.1-3.7 7.7 37.1-6.6 20.4-12.1-19.4 6.2-8.2-4.1-3.1 13.1-35.6 2.8 41.5-18.2-0.7 4.9 20.2-8.6-20.2 10.2-1.3 1.8-25.9 11.7 23.4 0-16.3-11.1-10.3 1.1-6.4 1.9 28.1-1-11.5 1.3 14.2-0.8-6.5 2.1 13.5-9.9-14 15.4 3 1.4-13-3.4 34.9-12.1-18.8 9.7-4.7-9.6-10.8 7.6 15.7-0.2-15.4 1.2 7.5 9.2 38.5-25.7-36.3 16.3 10.4 3.4-27.8-2.1 44.9-2.1-11.7-6.4-42.7 11.3 18.5 4.7 39.5-10-25.8-6.1 23.2 4.1-45.3-5.1 3.6 4.4-1.2 10.1-2-3.8 9.7 0.1 39.3-12.3-0.6 1-9.7-2.1-20.2 5.7 0.5 0.1-23.5 10.3 22.2-3.8 12.4 1.5-37.9 2.1 18.9-9.8 14.7 4.2-12.7 13.7 13.8-19.4-33.6 15.6 18.3-10.3 18.3-1.8-1.6-10.1 13.6-0.1-40 10.9 1.2 4.8-6.8 5.1 9.9-9.9 21.7 1.4-12.4 10.6 24.7-16.8 10-11.5-0.2-0.8-39.2 13.4-4.9 5 20.7-6.5-3.1 5.1-24.9 6.1 29.9-10.4 9.7 2.9 11.3-3.6-13.7 1.7-10.7-0.2 0.9 3.3-14.6-2.2-20.3 7.3 27.2 0.3 25.2-16.9-7.8 7.6-39.3 1.9 35.2-2.7 24.5 2.7-0.3-11.2-61.1 14.3 21.3-2.5-19 0.4 48.1-12.7-56.1 25.4 9.6-7.9 45.2-8.6-24 10.5 31-10.9-13.1-4.8-38.3 9.4 28.6 3-23.1 1 45.1 4-48.7-3.4-11 5.4 58-17.6-44.5 14.1 4.5-2.8 29.3-5.6-48.8 18.4 10-12.3 39.4-2.7-10.2-7.8 2.1 14.4-21.3-4.4 25.3-2.2-16.9-5.2 26.9-9.4 1.1-0.2-37.1 14.3 20.7-4.5-36 14.2 3.3-4.6 55.1-20.5-49.3 13.6 13.3 3.8-16.8 2.1 41.6-6.9-32.2-6.3-2.4 2.4 1.4-2.1-11.1 8.3-2.8 5.3 33.3 0.1-11.2-2.8 36.7-5.3-26.6 3.5-16.1-4.8-19.4 6.7 19.9-6.2-13.9 4.4 27.1-1.6 11.5-8.4-2.8 7.1-37.9 5.5 14.8-2.9 10.7-8.8 4.8 0.9 10.6 5.7-43.5 10.6 10.2-5.8-6 6.1 6-17.1 39.7 5.1-47.3 11.4 52.4-11.4-4.2-6.3-42.5 8.5-5.3 11.1 8.3-11.9 12.5 4.2-14.7-2.2 11.7-0.1-7.2-1.4 12.6-1.3 2.1 11.7 32.8-20.8-9.4 10.9-25.5 1.4-9.6 6.3-5.1 0.9-10-5.8 39-14.3-27.9 9.3 13.5 4.9 0.6-4.1-17.9 0.4 30.3 3.6 10.2-4.3-33.7 1.4 26.7 1.6 4.8-6.3-24.1 6.8-25.3 11.2 41.2-12-9.2-4.5-9.4 2.3 23 0.2 7.3 0.5-34.6-3.2 26.4-3.1-3.1-4.2 9.8 0.9-20.2 14.2 16.6-8.7 12.9-7-6.9 4.6-42 8.5 7.8 1-20.8 8.1 49.3-15.5 5.4-0.2-53.7 19.8 39.7-13.8-15.7 3.2-20.1 5.6 7.3-4.3 15.8-2.1 19.6-17.1-42.6 10.3 24.4-0.1-5.6 3.3 10.6-1.3 12.6 11.5 27.4-18.7-37.3 1-0.5-3.7 18.1 2.9 19.3 1.2-17.6-4.8-30 15.8 22.1-4.1-39.2 12.1 54.7-18.7-41.6-1.7 23.6 13.5-35.5-1.6-9.9-4.4 23.7 2.5 31.3-7.5-55 13.1 25.6-10.1-16.1 17.1-10.6-7.9 30.3-4.7 12.2-10.5 21.6 0.2-8.6 5.8 7.1 2.5-7.4-1.7-36.4 3.8-13.5 0.4 40.3-8.3-35.5 8.2 43.7-7-46.6 7.4 44.5-5-51.3 5.1 1.1 15.2 10.7-11 21.1-6.7 29.7 1.5-27.1-1 4.9-6.7 14.5-0.6-48.8 10.5 11.3-1.5 4.9 8.1 20.8-9.5-24.3 1.6 7.1 1.4-8.9 1.4 18.8-7.7-10 7.2-21.5-1.9-3.2 9 52.2-16.7-21.5 6.1-2.7-3.5-10.2 6.7 38.6-3.1-18.4-2.1 15.2-8.3-38.3 21.1 19.8-16.1 8.5-1.5 7.8 6.9-1.9-14.5-11.2 12.4 15.2-4-24.9-0.2-17.3 1.8 56.1-3-44.8 15-7.6-5.6 7.4 4.1 19.5-10 27.2-3.2-58.4 13 37.2-9.1-41.7 8.5 44.1-7 3.9-6-22.1 4.3 29.4 0.6-7.5-0.8 1.4-2.4-49.7 8 19.1-0.7 31.5-12.6-49.5 19.6 36.3-1.4-3.4-10.5 3.8-9.4 6.8 14.9-49.8-5.9 31.1 5.7-31.3 4.1 21.6-5.4 7.2-1.4-10.6 9.1 4.1-15.8 17.3 13-13.8-10.2-2.9 3.7 31.8-3.3-16.2-0.3-26 1 9.4 12.4-2.5-2.5 46.5-2.8-21.2-16.3-0.3 5.7-11-4.9-14.9 13.5-2.4 3.6 2.2 7 8.9-4.6 16.8-15.5-1 12.9-9.1-7 3.9 1.6-36.3 3.1 1.8 4.8 39.1-9.8-22.9 11.2 27.1-11.5-5.7 3.7-8.3 1.4-26.2 7.3 10-9.2-9.8 0-4.6 6.7 7.4-5.7-2.2 1.8 63.3-10-70.8 8.3 57.1-12.2 1.8 5.5-29.6 6.9-13.1-0.5 32.2-6.5-22.4 7 41.1-10-15.5 9.7 27.8-5-24.1-2.8-43.6 14.6 17.9-9.9-3.8 7.3 21.4-13.9-32.1 3.1 7.6 3.6 8.9 5.4-5.5-3.5-25.7-0.8 55.9-12.4-16.5 8-39.3 4.7 31.4-1.6-5.7 3.5 12.2-0.8-21.9 11.5-16.3-3.9 24.4-5.3-13.4-6.4 68.6-2.3-17.8 5.3-48.4-12.7 34.9 15.2 0-9.5 1.8 1.9-20.2 13-4.7-6.7 32.9-7.5-4.5 6.7 5.6-8.3-51.9 22.1 50.6-18.3-16.2 2-26 7.4-12.9 3.7-2.4-2.2 60.7-7.5-31.5-3.2-13.7 7.8 39.3-15.1 7-1.4-9.6 12.8-5.8-14.8-41 10.7 11.2 12.4-7.2 4.6 13.3-8-4.9 6.4-2.7-6.4 28.7-14.2 15.8 3.8-41.6 6.8 14.8-8.1 9.5-2.4-39.3 1.9 61.5 0.2-61.1 11.4 10.5-5.6 31.8-3.9-34 7.7 15.2 1.7 17.3-4.2 13.3-12.4-50 18.9 41.1-13.8-42.5 13.6 53.3-20.2 3.4 11-62.7 8.5 26-6.8-5.1-5.7-12.3 9.4 35.7 1.5 5.8-9.8 6.7-0.9-43 18.8 33.1-9.6-25.1-5.6 9.2 5.2-9.9-1.3 4.2-0.4 28.4-8-1.2 2.5-10.2-1.8 5.1 10.2-13.1-6.9 0.8-0.3-33.2-0.1 18.7 18.3-19.2-6.7 38.7-14.1-15.8-2.1 5.7 25.2 32.7-14.3-26.3-10.5-26.7 12.1 47.5-8.7-26.3 0.1-6.8 11.3-14.8-2.3 49.1-9.5 4.6-6.6 6.5 0.9-24.5 11.2 3.4-1.5-20.6 3-3.3-3.3 34.3 0.8-30.1-6.7 3.4-1.4-1.8 3.7 9 10.5 19.7-10.9-12.8 5.4 14.4-10.2-36.1 19.3 21.1-12.5-1.6 4.9-17.3-8.1 11.7 2.3-6.8 9.8-2.1-9.1-27.4 7.7 69.5-7.6-22.5 3.7-36.2 2.2 46.6-6.2-42.2-0.9-18.2 16.4 50.5-16.1 7.2-1.9 3.6-6.7-32.1 9-17.5 9.3 2.9-11.9 15.4 2-17.5 11.9 13.1-11.3 13.7 2.8 12.5 0.5-42.7-0.1 51.6-6-17.5 12.4 9.9-6.4-7-6.4-15.9 3.2 14.4-11.9 17.3 14.3-15.1-4.3-32.7 8.2 30.4-2.9-33.9 6.5 3.7-2.3 20.4-14-29 16 36.1-18.7 5.9 6.3-47 19.2 60.4-16.5-24.1-11.7-21.6 21.6 26.1-22.4-7.5 18.2 20.7-4.2 0.5-3 2.7 1 0.2-3.4-50.7 12.6 49.8-12.6-40.3 10.2 43.5-0.4-40.4-2.6 18.7 8.4 13.2-13.4-30.1 12.7 70.4-15.6-34.9-2.3-48.3 10.3 6.8 6 19.9-6 4.6 3.8-7.7-6.6-7.5 8.8 18-16-2 11.4 17.1-9.8-44.7 23.7-0.2-14.8 33.9 2.5 11.7-6.6-29.6 8.2 30-15.5-41.5 7.2 38.5 0-44.9 17.1 12-16.6-19.5 5.7 21.6-3.1-0.8-1.1 1.6 4.8-16.4-0.3 16.8-2.2 17.4 0.2 19-6.2-29.3 13.4-8.8-13.9 37.8 1.9-60.9 9.6 63.8-4.6-50.1 2.9 7.1-3.5 26.7-8.4-13.9 7.1-22.4 2.6 11-3 0.5 7.2 38.4-5.6-24.1 2.5 10 2 42.9-10.8-33.9-5.1-9.8 4.4-44.9 6.2 8.2 3.3 39.2-9-39 5.3 22.5-0.4-33.8 9.8 62.8-20.2-1.7 11.3-31.9 1 16.5-3.8-28.1 11.2-8.4-8.6 22.1 4 15.5-17.2-39.3 22.9 3.6 3.5 12.5-2.6 0.7-10.3 16.6-5 8.4-8-15.8 13.3-3.7-5.2 2.6-1.9 29.6-5.6-55.9 18.1 20.5-1.9 20.3-2.9-9.9-5.2 37.4-11.2-43.8 15.8-1.9 7.8 28.6-12.4-19.8 5.7-24.8 7.9 20.6-9.4 14.6-4.6-36.5 1.1 34.5 3.8-7.6-4.5 4.2 3.9-15.1 6.2 10.9-8-25.6 1.5 22.3-2.8 23.4-5.8-40.9 12.4 17-16.9-32.1 21 55.5-5.8-41-1.6 9.1 3.9 4.6 3.6-30 0.3 42-10.7-37.4 11.6-2.7 4.4 35-10.1-14.9 2.2 24-7.2-4.7-1.8 1.3 7-22.3 6.4-6.6-8.1 26.1-0.3 14.3-2.6-36.8-2.6-18.2 5.3 61.3-13.1-42.9 25.5-12.6 0.1 4-8.3 28.3-8-6.4-1.7 11 5 20.6 0.8-10.1-14.8 7.5 13.3-58.7 11.7 51.2-18.2-18.8 4.1 33.9-0.3-11.5 5.5-35.6-0.3-21.4 12.5 57.2-27.8-14.5 6.7-19.9 5.9-23.1 6.1 2.8 7.3 33.1-11.7 61-15.6-38.4 12.4-27 9.4 29-10.4-2.1-4.6-56.7 19 57.8-13.1-56.1 9.4 11.8-6.4 15-4.2 26.6-3.8 6.1-6.9-24.4 10.7-16.3-0.6 32.5-4.2-21.1 9.9 8.5-8.8-31.6 9.2 0.9-4.8-0.7 7.1 23.6-6.5-11.8 5-0.9-3.1 11.9-4-19.3 9.6 35.7-20.3-24.9 11.6 24.8 1.5 0.5 7.7-19.5-16.4 24.6 2.2-17.4 9.2-29 2.7 51.5-13.7-52.9 21.4 15.8-10.4 21.1-15.5 21.4 12.4-60.3 18.6 9-15.4 41.7-4.6-15.7-1.5 2.4 4.5 23.4-0.7-55.7-0.4 0.4 5.3 14.5 0.2-24.9 6.9 47.6-20.1 13.3 4.9-27 8.7-30.1 3.6 59.1-14.2-28.5 4.7-19 0.2 37.8-0.5-49.1 5.2 56-19.7-0.6 16-9.6-4.1-42.3 2.7 55.1 0.1-21.8-5.5-14.2 3.7 13.5-2.1 5.5 15.2 6.8-12.1-39.5 4.8 16.2-5 25.5 0.5 2.6-1.7 5.7-10.6-10.2 20.1-31.9-5.1 8.9 4.8 9.3-17.1-31 18.6 54-20.6-41.8 17.9-4.6-1.3 8.4-0.6 14.6-8.4-18.8 12.5-9.1-5.9 11.9 3.4 40.5-9.3-14-1.6-39.8 1 36.1-5.2-7.1 16.1-4.1-7.2-8.2-2.1-17.7 18.2-3-13.8-1.2 6.8 67-9.6-42.9-3.9 10.4-5.5-29.9 12.7 26.5 7.9-1.4-14.4 16.2 6 10.7-6.5-26.4 9.2-7.8-8.3-12.9-0.5 8.2 8.5-5.1 0.9-7.9 10.2 36.1-13.3-5.7-3.3 3.3-0.8-21.6 5.6 36.6 4.1-43.1 3.8 3.2-4.1 3 5.2 20.5-14.5-9 4.3-2.8 6.4-2.9-8.6 41.3-4.6-6.5-5.1-54.2 25 34-19.6 18.3-5.2-58.2 27.4 12.1-8.6 16-4.3 0.7 0.2 10.4-15.5 17-3.9-54.2 17.7 4.7 1.3 14.8 5.8 17.2-11.9-0.8 7.9-3.1-0.7-17.8 6.2-17.8 0.9 56.2-12.5-50.6 10.7 9.7 1.7 26.9-17-0.9-3.2 14.1 1.5-31.3 4.5 2.9 5.4-17.2 0.2-9.8 11.5 5.5-10.9 26.7-13.1-10.3 14.5-20.4-3.5 45.2-6.4-36-1.6 55.7-6-56.7 21.4 22.8-4.9-12.5-7.3-18.9 10 36.5-7.3 10.1-0.5-7.5 5.2 1-10.7 7.8-1.4-10.7 7.2 0.6 13.3 21.1-16.1-33.4 0.5 27.8 0.2-5.6-4.3-37.7-0.7 49.8 2-57.6 5.7 19 0.4 5.2 10.6 29.4-16.2-10.4 1.4-13 11.8-11.3 0.3-9.8 4.2 52.4-15.6-49.7 1.3 22.3-4.3 2.1 1.8-2.7-0.1-8.1 2.9 23.1-5.8 8.7-5-3.7 9.9 2.2-4.8-37.9-4.4-4.6 7.5 45-0.2-58 9.3 1.2-4.9 25 2.8-18.4 15.1 42.3-19.4 17.2-6.1-11.2 0.2-29.6 9.6 7.6-11-25.4-2.6-5 7.1 51.2 6.2-52.5 9.4 0.9-1.7 0.8-2.2 47.2-13.1-43.6 12.4 24.8-0.4-11.8-3.7 13.2-8.6 18.7 11.6 3.3-5.6-6.7-7.9-17 12 19.9-15.7-14 9.1 10.9-1.2-16 8.9-29.7 2.8 48.6-8.5-52.5 4.9 52.4-8.8-16.4-1.3-3.6 3.9-18.4 16.3-5.8-15.3 42.8-1.1-42.1 2.8 14 0.6 40.2-3.4 4.3-0.1-27.8-10.1-35.8 11.4 7.6 13.3 13.5-18.1-17.1 5.3 50.9 5.5-23.6-9.4-20.8 11.1-6.1-7.1 33-0.9-8.9 3.6 4.8 1 17.9-6.8-47.7 8.1 14.7-3.7 14.2-11.6 2 10.5-39.6 7.9 3.1 3.6-0.5-3.6 42.7-14.2-5-5.5-30.4 23.3 50-21.9-19.9 14.5-27 4.5 27.8-8.1 12.2 1-34.3-0.8-9.8-2.4-10.9 8 61-11-23.1 8.1-15.4-6.2 32.2 1-35 2.5-4.3 5.4-8.5 0.1 73.6-5.9-36.7-4.7 20.1-6.6-23.6 13-11.3-0.7-0.3 1.6 5.1 3.7 17.9-10.9-26.7 0.7 6.9 3.4 32.2-5.8-39 11.7-5.2-4.6 27.9-2.2-6.7-2.5 13.4 5.7-48.9 3.8 54.9-7.4-58.3 7.2 23.1-4-2.5 1.1 23.2-0.7-39.7 10.4 43.3-17.3-13.1 4.3 12.3 2.4-43.6 11.1-0.9-17.2 56.6-4.3-21.4 7.4-13.9 1.7-10.8-7.8 43.9 0.6-47.1 12.1 39.3-18.2 1.1 15-42.1 1.8 40.9-9.4-2.9-1.3-40.3 9.8 62.5-9.7-19.4-6.4-39.4 21.5 21.5-9.5 29.1-8.7 38.1 1.4-67.6 7.6-2 9.6-16.2 3.8 37.2-17.4-45 11.4 7.3-6.7 33.6-6-47.3 12.2 30.4 2 19.7-6.5 5.8-15.4-49.2 27.5 45.8-13.3-41.1 2.4 50.8-6-61.5 6.5 8.8-0.1 60.9-14.6-59.1 14.9 10.6-0.3 10.5-3.2 24.4-5.7-21.2 14.2 44.3-22.8-47.3 12.3-19 8.9 20.4-3.7-21.8 2.4 12.5 5.8 33.1-11.1-57.9 3.2-0.9 0.1 63.3-11-11 0.2-33.4 12.6 7.9-5.7 13.2-7.4 7.9 6.7 16.1-7.8-2.2 1.6-20.9 12.8-30.5-3.4 13 12.5 17.7-8 13.9-13.1-14.2 10.4-6.6-12.9 20.7 1.8-32.2 3.2-7.7 3.7-11.4-2.9-0.2 14.6 32.6-11.6-9.9-2.5 34-2.2-45.3 9.2-1.8 6 49-8.1-10.6 0.7 11 0.1 2.1-8-10.8 2.2-42.9 13.3 38.6-20.5 8.7 2.8-30.1 15.4-13.2-5.9-11.7 14.4 58.1-27.5-45 15.1-4.7-0.4-3.1-7.6 42.9-3.5-16.9 5 49.7-8.9-41.6 11.2 5.2-4.6-24.5 3.1 8.3 1.2-22.9 3 19.8-14.9 35.6-1.2-39 16.2-8.9-2.1 19.4 2.8 9.2 2.9-11.1-2.6-21 3.5 13.3-0.3 22.5-5.8 16-5.5-1.8 0.9-53.3 10.1 55-22-0.4 12.4-2 0.1-49.6 7.6-0.4-6.3 2.1 5.2 49.7-9.2-59.6 4.9-0.3 6.1 23.2-2.3 23.6-11.4-4.8-1-31 18.3-10.7-3.3 35.9-15.4-30.3 19.6 50.8-15.4-22.4-2.7 24.2 1.3-36.7 16.1 15.9-6.5-13.7 5.5 15.5-11.9-38.9 6.3 0 8.3 50.3-25.5-50 23.7 24.1-5.6-0.8-9.4 32.6-14.8-25.9 22.5 19.5-11.8-13.7 12.6 1.4-1.1-15.1-9.1 31.2 10-29.6-2.3 3.9-1.3 24.6-4.1-23.8 2.1 10.6-3.6-7.6 1.3-0.7 3.2-9.1-4.7 32.8 0.4-57.6 15.1 54.8-21.9-15.8 10.1-5.4 2.9-25.2 12.3 5.1-9.2 45.1-6.1-54 5.6 35.5-15.6-13.4 6.5-22.2 19.7 51.4-21.2-45.7 5.3-7.6 18.1 48.5-27.8 11.5 4.8-37 5.1 29 1.2-16.9-1.5-15.8 5.7-13.1-7.2 14.5 5.5 12.4-2.2-19.2 6.4 1.6 2.6 42.7-21.6-44.6 13.6 20.6-2.5-15.7 2.7 20 0.5-36.7 2.8 118.8-13.7-122.9 11.7 62.3-12.8-44.4 13.1-12.6-0.1 13.1 5.7 22.7-5.9-15.3 8.9-6.4 1.6 40.4-6-38.9-3.7 0.4-1.2 30.9 0.2 7.3 0.6-60.6 0.4 63.6-13.9-50.2 14.8-7.9 5.1 3.7 6.2 17-24.6 9.2 13.8 5.2-6.5-22.4 6.9 29.4-11-44.9 12.6 55.1-10.3-28.6-3.4-8.1 18.4 34.2-7.7 7.5-11.6-4.2-5.5-2.9 10 14.2-3.8-34.1-2.3-36.2 23 9.4-4 38.7-13.2 7.4-7.6-33.2 17.8 22.2-16.9-19 15.7-18.3-2.1-0.5-1.5 0.1 6.5 30.3-9.8-12.7-4.7 34.4-3.8-36.3 13.2 31.8-15.1 18.5 2.6-19.4 8 4.2 5-48.1 8.7 45.3-13.1-37.6 3.3 43.4-5.2 3.6-3.4-10.4 1-27.6 2.5 1.2 2.4-4.1-4.1 11.4-3.6 24-4.5-38.2 16 5.1 5.5 22.4-19.3-21.2 9.6 19.5-6.8-33.5 14.2 7.8 4.7 35.6-22.8 16.2-2.1-70.5 23.3 57.8-15.8-56.8 10.2 47.7-7.6-1.8-5.9 24.4 8.2-73.6 11.7 9.9-15.7 56-1-6.4 0.6-39 4.9 2.8-6.8 30.3 10.1 7.2-6.7-53.3 9.9 11-1.8-17.6 5.1 67.4-28.6-58.3 22.6 37.3-8.9-44.3 9.3 49.2-0.7 8.8-18.6-40.3 23.5-10.4 6.5 52.2-14.1-11.1-0.8-31.9 10.9 39.8-19.1-11.5-2-4.3 1.1-14.5 10.7 22.1-9.1-21.8 6.1 35.9-5.1-26.4 4.4 16 5.6-36.8-4.4 5.7 3.3 13.3 6.4 24.3-12.7-19.6 4.1-20.5 12 12.8-11.5-11.8 0.8 28.3-4.4-30.6 4.2-6.7 4.4 40.4-6-30.7 6.4 49.5-3.3-27.9-9.9 49.4-6.9-49 14.3-13.1-0.1 12.7 4.7 18.5-9.6-6.9-2-31 7.3 40-4.1-25.3 14.9-5.3-7.3-10-3.7-8.6 6 5.2 1-13.5-5.9 42.2-5.7 3.9-0.7-4.2 2.9-27.9 12 5.6-10.2 6.1 2 31.6-12.6-37.6 14.5-19.9 4.8-5.5-1.9 33.6-11.2-8.8 10.4 27 1.4-28.6-2.9 14.2 4.3-32.4-1.9 27.1-5.9 3-5 19-5.4-19.5 9.7 28.5-17.1 1.5 7.1-50.6 16.6 32.7-10.1 13.5-4.2-32.3 6.4 8.3-3.3-29.8 4 34.4-4.4 22.9-4.5-61.8 21.7 25.8-6.2 27.7-17.7-10.7-0.7 10.6 16-0.4-6.3-37.6 3-2.5-4.8 2 11.3 7.6 4.3 6-2.1-23.1-6.9 5.5 0.8-1.2 14.9 48-22.3-40.7 0 1.9-5 12.6 8.6-31.4 4.9 24.4-3.2 7.6-7-33.6 11 25.6-4.6 39.5-7.5-38.1 9.6 14.6-3.3-27.9 8.5 21.6-10.2 21.1 4.4-45.2 10.4 12.3 4.5 25.2-30.4 19.7 5.1-48 22.2-7.6-12.5 40-2.8-27.5 14.1-2.6-14 24.1 5.1-3 2.3 13.8-13.9-20.4 0.1-36.3 16 25.9-1.5 70.7-20-42 11.9-16.4-6.5-30.2 13.8 49.9-20.2-0.4 13.2-40 4.8 5.8-3.6-25.2 10.8 33.7-13.3-14.3 0.4-15.9 11.2 27.9-4.6 28 0.2 9.2-8.8-32.8 0.7 24.6 0.9-24.9 9-20.1-0.6-3.4 0.7 39.2-8-15.5 2.2 26.5-7.1-30.1 12.6 24.6-13.4-32.3 15.3 4.4-9.6 32.3-4.7-35.9 2.9 14.2 2.9-16 9.5 5.3-10.6-13.5 5.9 1.8 3.3 2.4-4.8-3.4 12.9 45.8-22.2-14.2 2.7-23.6 6.3 11.9 8.6 9.2-19.1 7.7 3.9-46.1 12.9 7.3-8.3 49.4 1.5-25.4-5.4-13.2-3.5 34.3 2.9-46.1 4.6-7.1 9.7 0.6-6.6 12.6 6.7 9.7-13.8 39.3-9.1-56.9 16.7 17.6-6.9 16.7-1.9-37.4 2.8 37.2 0.3 4-2.8-23.5 12.6 9.2-4.4 31.7-10.2-19.8 9.8-45.4 11.2 69.2-22.8-35.2 2.9 15-2-44.5 12.9 4.7-0.2-3-9.4 32.5 8.2-28.9-6.3-2.1 9.6 29.8-6.3-4 6.6-22.5-6.9 22.8-7.7-29.2 14.9 11.8 1.5 3.2-2.2-17.4-3.8 54.5-11.5-59.5 19.8 3.2-10.1 12.2-5 7.1 15-14.5 0.5 79.3-26.5-70.9 13-10.4 13.9 49.5-14.8 8.9 1.7-32.3-9.2 30.8 14.6-3.8 0.8-45.8 0.6 37.2-6.6-41.1 4.2 50.9-20.2-38 21.2 46.6-17.7-3.7 5.2-52.4 8.5 37 2.6-17.4-0.9 18.3-10.2 6.5-0.5-55 2.9 33.9-0.3 27.3 2.1-28.2 12.5 4.4-10.7-5.1 7.4 14.2-10.8 14.4 3.8-26.4 3.8-21.7 13.4 50.2-28.4-39.8 13.8 1.7 8.2-22.2 2.9 17.7-10-0.3 10.3 14.4-16.9 25.1 6.3-7.7-6-42.8 11.6 40.5-10-26.6 12.2 1.1-4.3 18.2-17.9-10.4 18.9 19.3-9.8 11-6.8-35.8 7.8-20.9 3.4-3.6 14.1 13-9.8 38.3-9.4-44.8 6.7 26.4 3.5-28.3 6.7 2.3-7.8 56.2-15.6-66.1 21.1 71.9-14.4-53.6 7.8-8.5-2.9 50.5 0.2-51.3 2 29.9-3.7 17-3.7-51.8 4.3 16.3 10.8 8.5-15.4-10.1 16.2 47.1-20.8-1.9-0.3-15.7 11.9 4.2-1.5-30.2 0.7 27.5 0.5 13.4-8.8-1.6 1.1-56.5 8.9-2.1 4.5 26.9-2.7-9.1 1.2 24.7-11.2-30.5 3.3 5.8-1.2 9.2 9 32.8-7.3-27.1 2.3-1.4 0.8 3.7-9.7 19.6-2.6-31.8 6.7 25.3 3.5-33.1 3 23.6-6.1-7.5-0.9-17 16.9 40.6-26.7-46.2 14.4 45.1-8.6-28.6 6.9-9.9 9.8 39.8-23-13.6 15.8 3-5.1-26.5 18.3-1.4-9.4 29.9-17.8-37.9 22.6-1.2-7.4 46.2-4.6-23 1 12-2.5 2.9 0.3-5.8 0.6 18.2-4.8-48.5 19.3-9.4-0.8 42.9-7.1 15.5-8.6-60.5-1.4 4.5 5.3 35.6-7.2-40.6 25.2 5.1-8.9 2.4-7 15.6-6.2 39.6 5-46 0.8-5.4 12.1 49.5-20.8-27.1 13-23.4 10.8 48.7-15.9-16.3 4.5-8.8-5.7 26.6-5.1-29.6 10.3 31.3-6.8-35-1-27.3 20.3 20.5-13.1 30.1-15.1 13.4 6.1-36.8 8.7-17.1 4.3 35.9-9.3-25.7 9.2 9.2-12.4 13.4 3.9-3 3.1-18.2 5.1-19.9-4.3 10.6-0.7 31.4-7 18.9 2.9-21.6 4-26.7 3.9 44.7-17.2-11.4 9.9-31.4 5.4 6.9 1.9 43.5-13.6-14.1 4-4.3 9.2 3.2 0.9-34.9 1.6 27.9-3.7-13.8-8.7 31.2 1.4-52.3-4.5 28-1.3 10.8 7.9-22.7 9.5 8.2-10.6 27.4-2-61 16.4 16.6-0.5-10.7-13.7 40.6-5.3-19 14.5-18.8 2.6 45.8-15.7 9.1-10.5-22.1 21-3 6.8-14.6-21.7 30.9 4.5-44.5 11.4 32.7-10.7-10.7 0.6 17.3 0.7-35.5 14.7 34.7-6.7 3.3-5.6 8.2 1-38.1-1.3-15.7 2.9 15.2 4.1-8.2-2.1 42.6-0.4-27.1-3.5-9.3 8.4 22.4-15.9-27.6 15.5 35.3-12.5-4.6 3.5-18.2 7.6-4.7 0.4-16.2-2.3-7.5 2.9 8.5-2.9 43.8-0.9-37.5 3.5 24.6-3.9 9.4-10.8 9 12-36.1-7.7 12.8 0.3 11.3 6.1 1.8 2.9-19.4-2.7-28.2 8 28.4-10.1-2.1 2.6-5.3 2 21.5-11.3-15.2 11.3-15.9-8.1 26.7-0.6-26.9 0.8 0.8 1.8-5.3 2.9 70.5-11.7-72.9 19.3 22.4-4.4 21.6-10.9-3.9-0.6-40 20.8 27.1-5.6-14.1-16 29.8 5.5-39.2 13.2-8-4.6 58.9-4.1-8.1-2.9-43.1 11.2 25.3-18.7-28.1 9.5 14.9 1.2 43.4-19.5-38.4 13.1 35.2-4.6-11.6 3-38.1 3.9 17.4 6.6-6-4.5 17.4 4.9-31.7-6.5-3.9 3.7 59.8-9.9-9.7 3.9-32.1 5.3 0.8 4.1-10.8-3.3 9.7 3-14.8-1.1 14.6-0.8-9.9-5.8 32.1-8.1-39.9 9.2 38.2-1.3-0.2 12.4-11.6 5.3-24.3-11.3 16.3 12.3 15.8-13.1 26.8-6.7-32.6 7.4-21.1 11 22.2-15.3-8.8 4.4-13.5 1.4-4.4 0.7 38-5-33.9 7.3 5.6 0.8 39.2-12.1-12.6 5-39 5.4 57.7-4.7-26.9-0.6 15-14.7-30 13.3-15.1-3.4-4.1-7 28.1-4-12 15.3 50.3-1.7-34.2-3.1-20.1 9.2 44.5-14.8-0.9-1.3 2.6 1.4-32.7 16.4 5.1-7.9 30.2-11.5-36.5 15.1 9.7-8.1 10-4.6-7.8 6 11.4 10.1 10.9-2 2-3.7-38.6-7.4 7.8 0.5 21.8 3.4-38.7 2.9 13.1 0.6-5-4.2 32.1-5.7-6.9 8.4-21.3 6-12.8 6 37.9-23.9-15.6 15.9 5.9-6 22-7-15 13-10.2-2.8 8.3-9.1 0.4 13.5-12.3-0.4 15.8-8.7-19.6 6.8-12.8-2.5-16.6 0.9 36.7-11.6 7.4 9.9-24.6 6.9 49.7-11.7-64.7 5.7 27.1 3.5-15.2 0.9 21-6.2 21.1-9.1-33.5 8.3 19.7 4.3 11.1-21.6-43.6 25.5 45.6-7.7-23-1.3-35.2 4.3 63.5-0.3 1.3-12.1-38.6 10.3 27.1-1.9-33.7 9.3 30.6-8-21.4-5.8 29.2 13.1-48.2-5.4 32.7-4.7 14.2-0.4-26.4 2 34.5-3.3-47.8-1.1 3.5 8.7 26.9-6.1-20.2 7.2-25.3-0.9 1.5-2.3 10.5 4.6 16.9-0.5-22.5 2.1 15.6-4.4 14.1 2.6-6 0.6-5.1-6.5 2.1 3.6-20.9 3.4 6.3 3.7 7.6-7.3-21.1-0.3 48.5-4.4-12.3 4.3-8.3-1.9 35.2-5.5-4.6-3.3 2.2 7.9-59.5 7.5 60-18-40.1 5.2 22 8.9 8.5 3.1-37.5 3.8 47.7-18.7-17.4 4.5-44.3 13.9 55.5-7.8-27.1 1.1 26.9-3.7-20.7 7.7-22.3 1.5 2.8-9.9 2.9 4.6 3.1-2.5-14.5-2.7 28.9 2.3 20.7-4.5-38.1 7.2 29.9-5-41.6 9.4 39.1-14.3-33.4 7.8 13.9 2.1 24.5-8.1-5.7-0.5 36.2-5.5-28.6 4.8 1.6 8.3-46 7.6 41.6-15-12.1-5.7 7.7 12.4-19.6 7.2 18.2-14.1 13.8-2.7-2.6 2.2-13.1 3.4 9.7-7.6-34.1 16.2 12.4-7.8-5.3 6.7-18.3 4.8 19.9-12.2 8.5 3.7 23.5-0.6-46.2 11.6 17-8.2-10.5-0.1-1-5.4 41.6-9.1-31.2 8.8 11.4-0.4 14.6-2.5-42.9 10.3 78.5-22.9-48.7 20.3-8.2 1.2-25 0.1 48.7-12.7-18.1 8-16.7 3.5 9 0.8 8.8-3.7 0.3 1.8 11.7-9.1-16.1 9.4 18.9-11.3 16.7-0.6-23 21.8-6.9-13.5 7.5-5.5 30.1 2.7-15.9-4 11-3.8-35.3 10.3-14.6 0.1 4.6 5.9 2.1-4-13.8 11.5 7.3-13.1 11.2 5.6-1.5-4.8 7.9-1.9-30.4 4.3-5.9-1.3 17.2-4.3 16.9 1.7-17 5.2 36.6-2.4-9.1-8.3 11.6-4.5-15.8 7-34.6 8.5 39.4-8-27.9 4.6 26.3-0.2-3.2-9.8-14 11.5-8.2-1.8 41-0.4-5.1-4.3-20.3 9.3-20.2 12.1-15.4-15.7 19.1 2.9 15.2-1.7 23.6-4-1.6 1.1-34.3 3.9 36.7-7.2-17.2 0.8-45.8 5.2 55.4 1.3-28.5-5.1-9.4 11.8-5.9-12.8 21.4 4.8 8-2.7-4.7-0.5-8.1-1.9 6.8-4.3 5.1 5.4-28.3 5.7 48.4-12.1-28.1 12.2-14.4-2 0.9 1.6 5.7 0.2 17.4 10.8 13.5-11.5-11.7-5.2 10.8-9.5-26.9 13.1-7.3 2.4-5-3.2 8.8-1-3.2 5.8-5.2 2.7 46.2-17.9-19.9 0.8 29.6-1.6-59.3 19.3 45.9-13.1 4-5-3.5 0.2-14.1 10.5-28.1-1.4-3.9 10.6 8.6-10.3 16.8-0.1-31.8 1.6 56.4-7.1-30.7-1.8 5.1 3.9-19.8-1.9 47.4 2-47.3 7.6 42.8-2.6-10.6-5.9-13.2 4.2 12.9 12.4-37.2-6.1 52.2-19.6-23.2 8.6 17.1-5.4-49.7 20.2 7.3-13.8 17.9 6 5.6-3.8-16.8 9.6-3.7-1.6 5.8-8.8 10.9 5.6 35.7-15.9-16.2 18.1-35.1 5.1-14.6-10.7 31.8 2.9-14.5-1.3 22.3-7.1 1.1 13.3 7.3-7.4 4.1 1.5 16.5-11.1-66.9 7.7 30-0.3 10-3-39.4 1.4 19.3 2.9-23.8 3.8 52.8-14-6.9 6.9-43.7 10.8 49.1-13.1 0.7 3.3-3.8 0.1-3.4-4.4-36.8 8.7 7-5.1 43.9-2.2-33.1 10.3-23.6-1.2 41.4-7-6.6-0.1-17.3-4.6 18.3 6.3 23.5-4.9-43.4 1.6 8.4 5.3 34-3.4 1.3 0.1-55.6 13.6 51.2-9.4-7.5-9.3-39.7 10.9 16.7 1.9 11-7.8-4.7 1.7-35.4 15.2 2.8-4.8 17.6-3.9 28.1-8.9-45.9 16.2 53.9-22.5-35.6 20 32.9-10.9-4.2-3.7-46.8 9 28.7-7.2 27.2-3.3-16.4 2.5 2.3 9.5-30.3 6.3 24.9-18.1 18.7 1.9 3.3-6.3-4.2 5.5-6.8 4.8-26.5 0 32.9-10.5-38.8 13.5 44.5-22.9-40.8 29-18.9-0.2 24.6-9.1 6.7-4.1 4.3 4.6 15.8-5.7-47.7 7.7 2.3 1.4 23.3-9.8 14.7 6.2 37.4-1.6-21.8 0.5-51.8-0.3 52.8-8.8-25 17.9 16.4-16.2-27.6 8.8 34.3-5.1-54.5 10.2 32.8-8.7-13.3-0.6 18.1 1-36.5 4.3 48.7-12.3-39.6 7.6 13.8-0.1 40.7-18.2-63.3 21.3 28.3 7.5-1.6-1.6-14.8-10 43.1-1.1-24.6 3.4 8-3.9 7.9 2.1-44.2 10 10-7.5-19.9 8.9 36.4-9.9-7.7 17.2 16.2-21.7-1.6-10.7-3.9 12.7 13 5-48 6.4 29.1-3.1-21.4 4.7-0.7-11.7 7.8 3.1-19.6 7.4 62.3-19.4-45.8 22.7 13-1.2 13.4-13.7 9 4.1-26.1 0.4-1.5-5.7-19.3 12 30.5-6-8.2-3.8 25.6-0.9-15.3 3.6-16.5-1.1 30.1 0 1.4-3.8-28.2 11.1-11.9-8.4 3.6 7.3 20.1-6.9-2.8 2-21.7 6.4 25-9.3 12.9 10.2-2.8-4.3 3.9-4 15 4.3-11.8-5.8-49.7 13 28.5-9.2 27.1-5.6-1.8-3.1-28.8 1.4-12 9.3 34.1-1.4 13.3-15-59.5 19.3 11.9-7.1 3.9 3.1-8.2 3 19.5-3.9 6.6-0.6 16.9-16.4-10.3 21.1 2.3-5.7 0.4 7-46 2.8 51.4-2.7-34.8-4.2-12.9 3.2 41.4-7-20.7-0.8-16 0.2 7.8 7.4 5.4-3.2 33.8-3.3 1.8 0-17.2-11.2-24.4 13.2 23.8-1.5-11.8 6.2-29.4 0.2 55.2-7.8 5.4 0.9-17.6 4.5 15.3-0.4 9-2.8-60.8 0.3 32.7 4.6 3.2-5.2 12.5 3.9-20.2-2.6 18.8-8-45.1 15.2-8.1-1.7 29.1-9 20.4-2.1-22 9.2-9.7 3.4 1.3 0 27.6-10.8-30 9.8 42-11.7-33.2 6.4 32.1 2.3-45.5 0.1 16.5-8.3-10.5 4.4-8 5-5.9-3.7 15.1-3.2-4.6 6.3 37.7-6.6-5.8-0.2-33.1 5.2 18.8 4.6 29-10.9-33.7-6.1 21.3 8.5-17.7 0.4 32.4-3.9-46.4 9.9 13.2-10.8 17.6-2.3-2.6 2.9-41.4 7.7 39-6.7-4.6 3.7 12.9-0.4-4.3-5.4-7 2.5-29.1 6 13.1 0-23.4 6.3 30.8-14.3 29.5 4.5-50.9 11.7 9.7-9.7 37.2 1.3-36.5-1.2 10.7-2.4-25.4 17.1 51-19.4-57.6 13.2 39.2-10 22.9 1.9-31.1 1.7-14.8 2.3 42.7-10.1-52.6 14.3 28.1-14.4 13.6 5.2-26.8 0 6.2-0.4 29.6-3.9-47.6 11.1 5.8-6.8 34.7 1.4-49.7 1.9 4.4-3.9-4.9 6.2 13.4-8.4 21.8 4.4 36.7-5.7-59 14.8 17.3-10.5 31.3 4-18.7 1.5-9.8-12.4 4 10.8 16.4-9.5-42.5 16 5.7-12.3-5.2 4.8 33.4-0.6 14.8-16.8-35.5 14.9 39.7-13.2-33.2 11.1 2.7 5.3-20.5 4.5 42.8-2.5-35.7-10.5-0.7 12.6-1.1-7.8 50.9-7.9-23.5 3.5-23.2-1.8 20.2-4.5-3.3-1.4 5.9-5 12.6 4-35.4 4.1 26-0.7-10.6-0.3 16.8-5.5-32.6 10.6 24.7-10.8-4.3 3.5 12.3-8 10 5.8-34.4 6.4-1-0.4-3.6-5.8-5 5.1-10.6 2.1 22.2 0.6-14.3 0.5 48.3-11.4 27-50.9-8.1 51.6 4.4-0.4 36.5 1.4-38 6.1-6.7-10-17.2-0.1 5-2 6 8 " fill="none" stroke="none" marker-start="url(#oc2)" marker-mid="url(#oc2)" marker-end="url(#oc2)" clip-path="url(#cpH)"/><line x1="376.80" y1="345.80" x2="376.80" y2="518.90" stroke="#555" stroke-width="1"/><line x1="376.30" y1="518.40" x2="635.20" y2="518.40" stroke="#555" stroke-width="1"/><line x1="370.30" y1="518.40" x2="376.80" y2="518.40" stroke="#555" stroke-width="0.9"/><text x="367.30" y="522.79" font-size="12.2" text-anchor="end">0</text><line x1="370.30" y1="475.25" x2="376.80" y2="475.25" stroke="#555" stroke-width="0.9"/><text x="367.30" y="479.64" font-size="12.2" text-anchor="end">5</text><line x1="370.30" y1="432.10" x2="376.80" y2="432.10" stroke="#555" stroke-width="0.9"/><text x="367.30" y="436.49" font-size="12.2" text-anchor="end">10</text><line x1="370.30" y1="388.95" x2="376.80" y2="388.95" stroke="#555" stroke-width="0.9"/><text x="367.30" y="393.34" font-size="12.2" text-anchor="end">15</text><line x1="370.30" y1="345.80" x2="376.80" y2="345.80" stroke="#555" stroke-width="0.9"/><text x="367.30" y="350.19" font-size="12.2" text-anchor="end">20</text><line x1="376.80" y1="518.40" x2="376.80" y2="523.90" stroke="#555" stroke-width="0.9"/><text x="376.80" y="538.69" font-size="12.2" text-anchor="middle">0</text><line x1="441.40" y1="518.40" x2="441.40" y2="523.90" stroke="#555" stroke-width="0.9"/><text x="441.40" y="538.69" font-size="12.2" text-anchor="middle">2</text><line x1="506.00" y1="518.40" x2="506.00" y2="523.90" stroke="#555" stroke-width="0.9"/><text x="506.00" y="538.69" font-size="12.2" text-anchor="middle">4</text><line x1="570.60" y1="518.40" x2="570.60" y2="523.90" stroke="#555" stroke-width="0.9"/><text x="570.60" y="538.69" font-size="12.2" text-anchor="middle">6</text><line x1="635.20" y1="518.40" x2="635.20" y2="523.90" stroke="#555" stroke-width="0.9"/><text x="635.20" y="538.69" font-size="12.2" text-anchor="middle">8</text><text x="334.50" y="439.68" font-size="14.1" text-anchor="middle" transform="rotate(-90 334.50 434.60)">-log score</text><text x="449.9" y="559.5" font-size="13.8">log<tspan font-size="9.84" dx="2.90" dy="3.6">2</tspan><tspan dy="-3.6">(fold change)</tspan></text><text x="507.90" y="338.96" font-size="14.9" text-anchor="middle">Her2-GFP Screen</text><text x="385.9" y="359.10" font-size="11" fill="#e61e32">Ubiquitination</text><text x="385.9" y="371.65" font-size="11" fill="#12a64c">Neddylation</text><text x="385.9" y="384.20" font-size="11" fill="#343a9a">V-ATPase</text><circle cx="560.30" cy="353.80" r="2.5" fill="#ff2a12" stroke="none" stroke-width="1"/><circle cx="570.50" cy="367.80" r="2.5" fill="#ff2a12" stroke="none" stroke-width="1"/><circle cx="574.30" cy="367.30" r="2.5" fill="#ff2a12" stroke="none" stroke-width="1"/><circle cx="525.50" cy="407.80" r="2.5" fill="#22dd22" stroke="none" stroke-width="1"/><circle cx="541.30" cy="405.80" r="2.5" fill="#22dd22" stroke="none" stroke-width="1"/><circle cx="516.80" cy="418.60" r="2.5" fill="#1438ff" stroke="none" stroke-width="1"/><circle cx="482.10" cy="437.00" r="2.5" fill="#22dd22" stroke="none" stroke-width="1"/><circle cx="487.10" cy="438.00" r="2.5" fill="#22dd22" stroke="none" stroke-width="1"/><circle cx="484.50" cy="434.00" r="2.5" fill="#1438ff" stroke="none" stroke-width="1"/><circle cx="488.90" cy="445.90" r="2.5" fill="#22dd22" stroke="none" stroke-width="1"/><circle cx="512.50" cy="441.40" r="2.5" fill="#22dd22" stroke="none" stroke-width="1"/><circle cx="505.40" cy="444.20" r="2.5" fill="#22dd22" stroke="none" stroke-width="1"/><circle cx="516.60" cy="449.40" r="2.5" fill="#1438ff" stroke="none" stroke-width="1"/><circle cx="450.20" cy="462.80" r="2.5" fill="#ff2a12" stroke="none" stroke-width="1"/><circle cx="455.80" cy="466.30" r="2.5" fill="#22dd22" stroke="none" stroke-width="1"/><circle cx="474.00" cy="468.20" r="2.5" fill="#1438ff" stroke="none" stroke-width="1"/><circle cx="458.50" cy="474.70" r="2.5" fill="#ff2a12" stroke="none" stroke-width="1"/><circle cx="478.40" cy="473.40" r="2.5" fill="#ff2a12" stroke="none" stroke-width="1"/><circle cx="483.60" cy="475.70" r="2.5" fill="#1438ff" stroke="none" stroke-width="1"/><circle cx="485.40" cy="482.50" r="2.5" fill="#22dd22" stroke="none" stroke-width="1"/><circle cx="451.50" cy="479.40" r="2.5" fill="#22dd22" stroke="none" stroke-width="1"/><circle cx="434.30" cy="482.00" r="2.5" fill="#1438ff" stroke="none" stroke-width="1"/><circle cx="442.70" cy="491.00" r="2.5" fill="#1438ff" stroke="none" stroke-width="1"/><line x1="442.70" y1="491.50" x2="463.00" y2="493.00" stroke="#1438ff" stroke-width="0.6"/><circle cx="442.00" cy="494.00" r="2.5" fill="#1438ff" stroke="none" stroke-width="1"/><line x1="442.00" y1="494.00" x2="452.00" y2="498.50" stroke="#1438ff" stroke-width="0.6"/><text x="566.10" y="355.62" font-size="4.5" fill="#ff2a12" stroke="#ff2a12" stroke-width="0.08">TCEB2</text><text x="567.00" y="369.42" font-size="4.5" text-anchor="end" fill="#ff2a12" stroke="#ff2a12" stroke-width="0.08">CUL2</text><text x="577.80" y="368.92" font-size="4.5" fill="#ff2a12" stroke="#ff2a12" stroke-width="0.08">TCEB1</text><text x="527.00" y="414.02" font-size="4.5" fill="#22dd22" stroke="#22dd22" stroke-width="0.08">COPS6</text><text x="544.20" y="410.32" font-size="4.5" fill="#22dd22" stroke="#22dd22" stroke-width="0.08">COPS8</text><text x="520.90" y="422.62" font-size="4.5" fill="#1438ff" stroke="#1438ff" stroke-width="0.08">ATP6V1B2</text><text x="478.90" y="440.32" font-size="4.5" text-anchor="end" fill="#22dd22" stroke="#22dd22" stroke-width="0.08">COPS4</text><text x="490.30" y="435.62" font-size="4.5" fill="#22dd22" stroke="#22dd22" stroke-width="0.08">GPS1</text><text x="475.40" y="431.22" font-size="4.5" fill="#1438ff" stroke="#1438ff" stroke-width="0.08">ATP6AP1</text><text x="490.60" y="451.72" font-size="4.5" fill="#22dd22" stroke="#22dd22" stroke-width="0.08">UBA3</text><text x="512.20" y="437.72" font-size="4.5" fill="#22dd22" stroke="#22dd22" stroke-width="0.08">COPS3</text><text x="509.20" y="447.52" font-size="4.5" fill="#22dd22" stroke="#22dd22" stroke-width="0.08">COPS5</text><text x="520.00" y="454.02" font-size="4.5" fill="#1438ff" stroke="#1438ff" stroke-width="0.08">ATP6V1A</text><text x="445.70" y="458.62" font-size="4.5" fill="#ff2a12" stroke="#ff2a12" stroke-width="0.08">VHL</text><text x="458.00" y="463.82" font-size="4.5" fill="#22dd22" stroke="#22dd22" stroke-width="0.08">UBE2M</text><text x="478.00" y="470.72" font-size="4.5" fill="#1438ff" stroke="#1438ff" stroke-width="0.08">ATP6V0C</text><text x="448.00" y="471.42" font-size="4.5" fill="#ff2a12" stroke="#ff2a12" stroke-width="0.08">UBE2R2</text><text x="468.40" y="480.32" font-size="4.5" fill="#ff2a12" stroke="#ff2a12" stroke-width="0.08">UBA1</text><text x="487.10" y="478.92" font-size="4.5" fill="#1438ff" stroke="#1438ff" stroke-width="0.08">ATP6V1F</text><text x="478.00" y="489.02" font-size="4.5" fill="#22dd22" stroke="#22dd22" stroke-width="0.08">COPS2</text><text x="438.30" y="475.82" font-size="4.5" fill="#22dd22" stroke="#22dd22" stroke-width="0.08">NAE1</text><text x="412.90" y="478.42" font-size="4.5" fill="#1438ff" stroke="#1438ff" stroke-width="0.08">ATP6V1E1</text><text x="463.70" y="495.02" font-size="4.5" fill="#1438ff" stroke="#1438ff" stroke-width="0.08">ATP6V0D1</text><text x="452.30" y="501.26" font-size="4.6" fill="#1438ff" stroke="#1438ff" stroke-width="0.08">ATP6V1G1</text><text x="476.60" y="464.56" font-size="4.6" fill="#22dd22" stroke="#22dd22" stroke-width="0.08">NEDD8</text><text x="48.2" y="603.3" font-size="11.2"><tspan fill="#e61e32">Ubiquitination</tspan> and <tspan fill="#12a64c">Neddylation</tspan> machinery</text><path d="M59.8 648.2 C62.4 646.6 69.1 649.2 74.3 649.9 C79.5 650.5 86.2 651.7 90.7 652.1 C95.2 652.5 97.1 652.8 101.4 652.2 C105.8 651.6 112.0 649.8 116.8 648.3 C121.6 646.8 125.5 644.2 130.0 643.0 C134.4 641.8 140.9 640.4 143.5 641.0 C146.1 641.6 145.6 644.9 145.5 646.5 C145.4 648.1 144.3 648.7 143.0 650.5 C141.7 652.3 140.0 654.9 137.6 657.1 C135.2 659.3 132.1 661.9 128.8 663.7 C125.5 665.5 122.4 667.4 117.8 668.0 C113.2 668.6 106.9 667.8 101.4 667.6 C95.9 667.4 90.4 667.4 85.0 666.9 C79.6 666.4 73.1 665.9 68.8 664.7 C64.5 663.5 60.4 662.5 58.9 659.7 C57.4 657.0 57.2 649.8 59.8 648.2 Z" fill="#eaf1fb" stroke="#9ab0d8" stroke-width="0.7"/><text x="91.80" y="660.55" font-size="6.8" text-anchor="middle" fill="#e61e32" stroke="#e61e32" stroke-width="0.12">CUL2</text><rect x="30.6" y="655.8" width="17.4" height="16.8" rx="7" fill="#e9f2d9" stroke="#4f7a28" stroke-width="1.3" transform="rotate(-12 39.2 664.1)"/><text x="39.20" y="665.85" font-size="4.3" text-anchor="middle" fill="#e61e32" stroke="#e61e32" stroke-width="0.12">TCEB2</text><rect x="40.6" y="644.9" width="19.2" height="19.8" rx="7.5" fill="#e9f2d9" stroke="#4f7a28" stroke-width="1.3" transform="rotate(-12 50.2 654.8)"/><text x="50.30" y="656.52" font-size="4.5" text-anchor="middle" fill="#e61e32" stroke="#e61e32" stroke-width="0.12">TCEB1</text><path d="M35.9 626.9 C36.3 624.8 37.0 617.8 39.2 615.9 C41.4 614.0 46.9 613.3 52.4 612.7 C57.9 612.1 76.3 611.0 80.8 611.4 C85.3 611.8 84.8 614.6 86.3 615.9 C87.8 617.2 91.1 620.2 91.8 621.4 C92.5 622.6 91.9 624.1 91.2 624.7 C90.5 625.3 89.3 625.6 86.3 625.8 C83.3 626.0 72.3 626.0 68.8 626.4 C65.3 626.8 61.7 627.7 60.0 628.5 C58.3 629.3 56.4 631.2 55.7 632.4 C55.0 633.6 54.7 636.5 54.6 637.8 C54.5 639.1 54.7 641.0 55.1 642.2 C55.5 643.4 57.1 645.4 57.8 646.6 C58.5 647.8 59.7 650.1 60.0 651.0 C60.3 651.9 60.2 653.2 59.8 653.2 C59.4 653.2 58.1 652.0 56.8 651.0 C55.5 650.0 51.8 646.7 50.2 645.5 C48.6 644.3 46.3 643.4 44.7 642.2 C43.1 641.0 39.3 638.3 38.1 636.8 C36.9 635.3 36.2 632.6 35.9 631.3 C35.6 630.0 35.5 629.0 35.9 626.9 Z" fill="#d0e9e3" stroke="#2a5f57" stroke-width="1.1"/><text x="60.60" y="622.53" font-size="6.2" text-anchor="middle" fill="#e61e32" stroke="#e61e32" stroke-width="0.12">VHL</text><path d="M106.9 628.6 C107.2 626.2 107.8 623.7 110.2 622.0 C112.6 620.3 117.6 618.4 121.1 618.2 C124.6 618.0 128.8 619.4 131.0 620.9 C133.2 622.4 134.1 625.5 134.3 627.5 C134.5 629.5 134.5 631.3 132.1 633.0 C129.7 634.7 123.5 636.4 120.0 637.5 C116.5 638.6 113.2 639.8 111.3 639.6 C109.4 639.4 109.2 638.1 108.5 636.3 C107.8 634.5 106.6 631.0 106.9 628.6 Z" fill="#eaf1fb" stroke="#9ab0d8" stroke-width="0.7"/><text x="121.70" y="631.00" font-size="5.0" text-anchor="middle" fill="#e61e32" stroke="#e61e32" stroke-width="0.12">UBE2R2</text><path d="M110.2 641.2 C110.6 640.4 112.8 637.2 114.6 636.3 C116.4 635.4 123.2 633.2 125.5 633.2 C127.8 633.2 132.3 635.3 134.3 636.3 C136.3 637.3 141.7 640.7 143.0 641.8 C144.3 642.9 145.7 645.1 145.8 646.1 C145.9 647.1 145.1 649.5 144.1 650.0 C143.1 650.5 139.0 651.0 137.6 650.7 C136.2 650.4 133.0 648.0 132.1 647.8 C131.2 647.6 130.3 648.3 129.9 648.9 C129.5 649.5 129.6 652.4 128.8 652.7 C128.0 653.0 124.8 651.7 123.3 651.1 C121.8 650.5 117.1 648.1 115.7 647.2 C114.3 646.3 111.9 644.1 111.3 643.4 C110.7 642.7 109.8 642.0 110.2 641.2 Z" fill="#ecd5b0" stroke="#9a6630" stroke-width="0.9"/><circle cx="110.00" cy="622.40" r="4.4" fill="#6a5fc9" stroke="#4a40a0" stroke-width="0.6"/><text x="109.80" y="624.06" font-size="4.6" text-anchor="middle" fill="#d8283a">Ub</text><circle cx="101.40" cy="669.20" r="5.6" fill="#a4455c" stroke="#7d3045" stroke-width="0.6"/><text x="101.40" y="671.50" font-size="6.4" text-anchor="middle" fill="#23984a" stroke="#23984a" stroke-width="0.15">N8</text><line x1="157.80" y1="627.20" x2="144.30" y2="627.20" stroke="#111" stroke-width="0.9"/><path d="M140.6 627.2 L144.8 625.2 L144.8 629.2 Z" fill="#111"/><line x1="141.90" y1="683.40" x2="123.51" y2="677.36" stroke="#111" stroke-width="0.9"/><path d="M120.0 676.2 L124.6 675.6 L123.4 679.4 Z" fill="#111"/><line x1="89.40" y1="676.00" x2="72.03" y2="683.10" stroke="#111" stroke-width="0.9"/><path d="M68.6 684.5 L71.7 681.1 L73.2 684.8 Z" fill="#111"/><line x1="217.40" y1="683.60" x2="203.20" y2="683.60" stroke="#111" stroke-width="0.9"/><path d="M199.5 683.6 L203.7 681.6 L203.7 685.6 Z" fill="#111"/><circle cx="61.80" cy="689.10" r="5.6" fill="#a4455c" stroke="#7d3045" stroke-width="0.6"/><text x="61.80" y="691.40" font-size="6.4" text-anchor="middle" fill="#23984a" stroke="#23984a" stroke-width="0.15">N8</text><g fill="#ecd5b0" stroke="#9a6630" stroke-width="0.8" transform="translate(90.8 695.2) scale(0.86) translate(-90.5 -694.8)"><ellipse cx="83" cy="700" rx="7.5" ry="5" transform="rotate(20 83 700)"/><ellipse cx="97" cy="700.5" rx="7.5" ry="5" transform="rotate(-20 97 700.5)"/><ellipse cx="80.5" cy="692" rx="6" ry="6.5" transform="rotate(0 80.5 692)"/><ellipse cx="100" cy="692" rx="6" ry="6.5" transform="rotate(0 100 692)"/><ellipse cx="90" cy="687" rx="7" ry="5" transform="rotate(0 90 687)"/><ellipse cx="90" cy="702" rx="7" ry="4.5" transform="rotate(0 90 702)"/><ellipse cx="85" cy="690.5" rx="6" ry="6" transform="rotate(0 85 690.5)"/><ellipse cx="95" cy="690.5" rx="6" ry="6" transform="rotate(0 95 690.5)"/><circle cx="90.5" cy="694.8" r="5"/></g><text x="87.80" y="715.36" font-size="6.0" text-anchor="middle" fill="#1f9e4c" stroke="#1f9e4c" stroke-width="0.12">COPS1-COPS9</text><path d="M173.4 614.3 C174.3 613.9 177.5 614.6 179.2 615.2 C180.9 615.8 183.7 617.1 185.0 618.1 C186.3 619.1 187.4 620.3 188.0 621.8 C188.6 623.3 188.4 626.3 188.7 628.4 C189.0 630.5 189.8 634.0 189.8 635.7 C189.8 637.4 189.5 639.1 188.7 640.0 C187.9 640.9 185.7 641.5 184.3 641.5 C182.9 641.5 180.5 640.9 179.2 640.0 C177.9 639.1 176.4 637.4 175.5 635.7 C174.6 634.0 173.7 630.3 173.4 628.4 C173.1 626.5 173.2 624.7 173.2 623.2 C173.2 621.7 173.4 619.4 173.4 618.1 C173.4 616.8 172.5 614.7 173.4 614.3 Z" fill="#f6f1d6" stroke="#a58c3a" stroke-width="0.9"/><text x="182.10" y="630.16" font-size="6.0" text-anchor="middle" fill="#e61e32" transform="rotate(70 182.10 628.00)" stroke="#e61e32" stroke-width="0.12">UBA1</text><circle cx="170.30" cy="619.20" r="4.4" fill="#6a5fc9" stroke="#4a40a0" stroke-width="0.6"/><text x="170.10" y="620.86" font-size="4.6" text-anchor="middle" fill="#d8283a">Ub</text><path d="M157.2 673 L170.4 670.3 L175.5 674.5 Q177 683 186.8 687.7 L186.8 698.9 L157.2 698.9 Z" fill="#d3ebe4" stroke="#2e6a5d" stroke-width="1"/><circle cx="181.70" cy="678.50" r="5.6" fill="#a4455c" stroke="#7d3045" stroke-width="0.6"/><text x="181.70" y="680.80" font-size="6.4" text-anchor="middle" fill="#23984a" stroke="#23984a" stroke-width="0.15">N8</text><text x="170.40" y="693.42" font-size="5.6" text-anchor="middle" fill="#1f9e4c" stroke="#1f9e4c" stroke-width="0.12">UBE2M</text><path d="M242 664.6 L250.1 666.2 L267.5 664.2 L274.7 693.8 L253.2 701 L242.5 678 Z" fill="#eef6e7" stroke="#b5d8a0" stroke-width="0.8"/><path d="M224.6 681.6 L242 664.6 L242.5 678 L253.2 701 L238.9 698.3 Z" fill="#e8effa" stroke="#9ab0d8" stroke-width="0.8"/><circle cx="254.60" cy="661.50" r="5.6" fill="#a4455c" stroke="#7d3045" stroke-width="0.6"/><text x="254.60" y="663.80" font-size="6.4" text-anchor="middle" fill="#23984a" stroke="#23984a" stroke-width="0.15">N8</text><text x="256.70" y="684.16" font-size="6.0" text-anchor="middle" fill="#1f9e4c" stroke="#1f9e4c" stroke-width="0.12">UBA3</text><text x="236.90" y="688.79" font-size="5.8" text-anchor="middle" fill="#1f9e4c" transform="rotate(65 236.90 686.70)" stroke="#1f9e4c" stroke-width="0.12">NAE1</text><text x="409.3" y="602.3" font-size="11.2"><tspan fill="#3a46a8">V-ATPase</tspan> machinery</text><rect x="378" y="686.5" width="97.5" height="7.8" fill="#eef2fa"/><line x1="378" y1="686.8" x2="475.5" y2="686.8" stroke="#a9bbdf" stroke-width="0.8" stroke-dasharray="1.6 0.7"/><line x1="378" y1="688.6" x2="475.5" y2="688.6" stroke="#a9bbdf" stroke-width="0.8" stroke-dasharray="1.6 0.7"/><line x1="378" y1="692.3" x2="475.5" y2="692.3" stroke="#a9bbdf" stroke-width="0.8" stroke-dasharray="1.6 0.7"/><line x1="378" y1="694.1" x2="475.5" y2="694.1" stroke="#a9bbdf" stroke-width="0.8" stroke-dasharray="1.6 0.7"/><path d="M410.5 626 L410.5 648" stroke="#a897dc" stroke-width="4.6" stroke-linecap="round" fill="none"/><path d="M413 638 C411 655 402 670 402.5 682 C403 688 405 691 407.5 692.5" stroke="#5b76ba" stroke-width="5.6" stroke-linecap="round" fill="none"/><path d="M413 638 C411 655 402 670 402.5 682 C403 688 405 691 407.5 692.5" stroke="#6e8ccc" stroke-width="3" stroke-linecap="round" fill="none"/><circle cx="406.60" cy="692.60" r="5.2" fill="#d8a3cf" stroke="none" stroke-width="1"/><ellipse cx="428.5" cy="688.8" rx="18.5" ry="16.8" fill="#9c6cbb"/><ellipse cx="420" cy="690" rx="9" ry="15" fill="#a377c2"/><ellipse cx="437" cy="690" rx="9" ry="15" fill="#a377c2"/><ellipse cx="428.6" cy="692" rx="9.2" ry="13.6" fill="#b38cca"/><rect x="424.4" y="650" width="9.3" height="28" rx="1.5" fill="#4b4486"/><rect x="427.3" y="650" width="3.6" height="28" fill="#554f93"/><rect x="434" y="655.5" width="6.2" height="7.4" rx="2.8" fill="#7b70c1"/><rect x="414.1" y="620" width="29.9" height="35.3" rx="5" fill="#4a67ab"/><rect x="414.40" y="621" width="4.05" height="34.4" rx="2" fill="#4f6db2"/><rect x="418.59" y="621" width="4.05" height="34.4" rx="2" fill="#5675bb"/><rect x="422.78" y="621" width="4.05" height="34.4" rx="2" fill="#5d7ec4"/><rect x="426.97" y="621" width="4.05" height="34.4" rx="2" fill="#6588cd"/><rect x="431.16" y="621" width="4.05" height="34.4" rx="2" fill="#6a8ed2"/><rect x="435.35" y="621" width="4.05" height="34.4" rx="2" fill="#5f83c8"/><rect x="439.54" y="621" width="4.05" height="34.4" rx="2" fill="#5676bc"/><circle cx="416.30" cy="621.2" r="2.3" fill="#4766a8"/><circle cx="420.50" cy="621.2" r="2.3" fill="#4766a8"/><circle cx="424.70" cy="621.2" r="2.3" fill="#4766a8"/><circle cx="428.90" cy="621.2" r="2.3" fill="#4766a8"/><circle cx="433.10" cy="621.2" r="2.3" fill="#4766a8"/><circle cx="437.30" cy="621.2" r="2.3" fill="#4766a8"/><circle cx="441.50" cy="621.2" r="2.3" fill="#4766a8"/><ellipse cx="429" cy="623.6" rx="13.6" ry="4.3" fill="#3f5c9a"/><path d="M429.4 714.0 C428.6 713.0 431.7 706.4 433.2 704.9 C434.7 703.4 439.3 703.5 440.9 702.6 C442.5 701.7 444.3 698.7 445.5 698.0 C446.7 697.3 448.5 696.8 450.1 697.2 C451.7 697.6 457.2 700.0 457.8 701.0 C458.4 702.0 457.2 703.4 454.7 704.9 C452.2 706.4 442.8 711.3 439.4 712.5 C436.0 713.7 430.2 715.0 429.4 714.0 Z" fill="#dde9f8" stroke="#3a70b0" stroke-width="0.8"/><text x="389.10" y="680.19" font-size="7.2" text-anchor="end" fill="#222">Cytosol</text><text x="366.10" y="704.39" font-size="7.2" fill="#222">Lysosomal</text><text x="366.10" y="712.79" font-size="7.2" fill="#222">lumen</text><path d="M472.4 619.3 H478.2 V671.9 H472.4" fill="none" stroke="#444" stroke-width="0.9"/><path d="M472.4 675.4 H478.2 V716.3 H472.4" fill="none" stroke="#444" stroke-width="0.9"/><text x="480.7" y="624.9" font-size="7.35" font-weight="bold" fill="#30359a">V-ATPase V<tspan font-size="4.5" dy="1.8">1</tspan><tspan dy="-1.8"> subunits</tspan></text><text x="480.70" y="633.56" font-size="7.4" fill="#30359a">ATP6V1A</text><text x="480.70" y="642.26" font-size="7.4" fill="#30359a">ATP6V1B2</text><text x="480.70" y="650.96" font-size="7.4" fill="#30359a">ATP6V1E1</text><text x="480.70" y="659.66" font-size="7.4" fill="#30359a">ATP6V1G1</text><text x="480.70" y="668.36" font-size="7.4" fill="#30359a">ATP6V1F</text><text x="480.7" y="682.8" font-size="7.35" font-weight="bold" fill="#30359a">V-ATPase V<tspan font-size="4.5" dy="1.8">0</tspan><tspan dy="-1.8"> subunits</tspan></text><text x="480.70" y="692.56" font-size="7.4" fill="#30359a">ATP6V0C</text><text x="480.70" y="700.66" font-size="7.4" fill="#30359a">ATP6V0D1</text><text x="480.70" y="708.76" font-size="7.4" fill="#30359a">ATP6AP1</text><text x="480.70" y="716.86" font-size="7.4" fill="#30359a">RNASEK</text></svg></body></html>
